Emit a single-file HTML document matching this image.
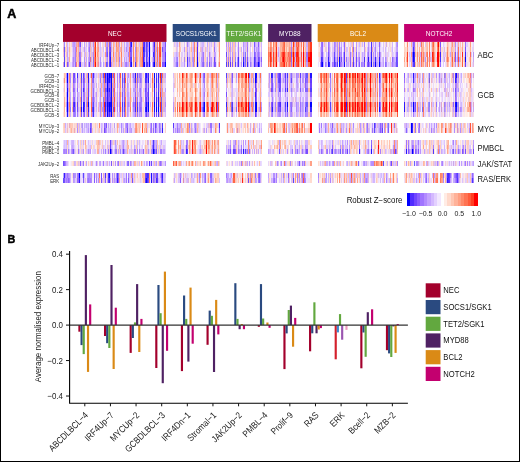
<!DOCTYPE html>
<html><head><meta charset="utf-8"><style>
html,body{margin:0;padding:0;background:#fff;width:520px;height:462px;overflow:hidden;position:relative;}
.h{position:absolute;left:63px;width:411px;}
#hm{position:absolute;left:0;top:0;width:520px;height:200px;filter:blur(0.5px);}
svg{display:block;font-family:"Liberation Sans",sans-serif;will-change:transform;}
</style></head><body>
<div id="hm"><div class="h" style="top:42.00px;height:4.92px;background:linear-gradient(90deg,#ffffff 0 0.0px,#efccde 0 1.0px,#a589ff 0 2.0px,#f9f3fe 0 3.0px,#ffc2ae 0 4.0px,#ceb1ff 0 5.0px,#eee2ff 0 6.0px,#ffccbd 0 7.0px,#fbe7e7 0 8.0px,#ffd9cc 0 9.0px,#cfb3ff 0 10.0px,#bf9bff 0 10.9px,#bb96ff 0 11.9px,#ceafff 0 12.9px,#f1a2a9 0 13.9px,#ffb098 0 14.9px,#ff9375 0 15.9px,#a47dff 0 16.9px,#7a4eff 0 17.9px,#f9dcdf 0 18.9px,#e7d6ff 0 19.9px,#fff9f7 0 20.9px,#c1a2ff 0 21.9px,#fce1de 0 22.9px,#d0b2ff 0 23.9px,#fbeaec 0 24.9px,#d0b4ff 0 25.9px,#b28bff 0 26.9px,#eba2b3 0 27.9px,#e7cff2 0 28.9px,#efc9db 0 29.9px,#ad84ff 0 30.9px,#ffa388 0 31.8px,#ff2e17 0 32.8px,#f9f0f9 0 33.8px,#ffa78c 0 34.8px,#f1a2a9 0 35.8px,#e9daff 0 36.8px,#d6bcff 0 37.8px,#fcfaff 0 38.8px,#ffdbce 0 39.8px,#e7d2f7 0 40.8px,#ecd9f5 0 41.8px,#ffa489 0 42.8px,#bd9aff 0 43.8px,#ad85ff 0 44.8px,#ffb5a0 0 45.8px,#8057ff 0 46.8px,#9568ff 0 47.8px,#eba9bb 0 48.8px,#ecdeff 0 49.8px,#ffae95 0 50.8px,#ffc3b0 0 51.8px,#e0cbff 0 52.7px,#ff886b 0 53.7px,#ffb9a3 0 54.7px,#ffa286 0 55.7px,#bc9aff 0 56.7px,#ffe7de 0 57.7px,#ffad95 0 58.7px,#e1ccff 0 59.7px,#ffddd0 0 60.7px,#c7a6ff 0 61.7px,#efe2ff 0 62.7px,#caabff 0 63.7px,#c5a4ff 0 64.7px,#d2b7ff 0 65.7px,#fea99b 0 66.7px,#6c42ff 0 67.7px,#2816ff 0 68.7px,#ddc6ff 0 69.7px,#ff886a 0 70.7px,#ffc9b6 0 71.7px,#c9aaff 0 72.6px,#ffa288 0 73.6px,#ffded3 0 74.6px,#ffcdbc 0 75.6px,#d5baff 0 76.6px,#ffbba5 0 77.6px,#ffc0ab 0 78.6px,#ff8b6f 0 79.6px,#633aff 0 80.6px,#4c2cff 0 81.6px,#bb95ff 0 82.6px,#5743ff 0 83.6px,#7c50ff 0 84.6px,#bb9aff 0 85.6px,#0000ff 0 86.6px,#f6efff 0 87.6px,#f6f0ff 0 88.6px,#dcc5ff 0 89.6px,#956aff 0 90.6px,#3923ff 0 91.6px,#ffb198 0 92.6px,#2413ff 0 93.5px,#d9b5e9 0 94.5px,#ff8466 0 95.5px,#faf5ff 0 96.5px,#ff4738 0 97.5px,#ff7557 0 98.5px,#ffd9cc 0 99.5px,#caacff 0 100.5px,#bd99ff 0 101.5px,#7a4fff 0 102.5px,#e3d1ff 0 103.5px,#ffffff 0 109.7px,#fbe5e4 0 110.7px,#dac1ff 0 111.7px,#f1d3e4 0 112.7px,#d7c3ff 0 113.7px,#cbabff 0 114.7px,#ebdeff 0 115.7px,#ffa086 0 116.7px,#ffd7ca 0 117.7px,#efe1f9 0 118.7px,#f5e4f3 0 119.7px,#fbeaed 0 120.7px,#dac3ff 0 121.7px,#fff6f2 0 122.7px,#eac9e4 0 123.7px,#a481ff 0 124.7px,#d5baff 0 125.7px,#dfcbff 0 126.7px,#fff1ec 0 127.7px,#ffbca9 0 128.7px,#e6d0f6 0 129.7px,#ccadff 0 130.7px,#ff896d 0 131.7px,#ffddd1 0 132.7px,#ffcab8 0 133.8px,#6d46ff 0 134.8px,#ddc9ff 0 135.8px,#fdeae7 0 136.8px,#e8ceef 0 137.8px,#dac5fd 0 138.8px,#d2b5ff 0 139.8px,#ceb4ff 0 140.8px,#f3d6e4 0 141.8px,#ffe3da 0 142.8px,#f3eaff 0 143.8px,#c5a4ff 0 144.8px,#ffdacd 0 145.8px,#d5bcff 0 146.8px,#e7d4f9 0 147.8px,#d7beff 0 148.8px,#f9dfe1 0 149.8px,#fbd5d0 0 150.8px,#b58eff 0 151.8px,#e1cdff 0 152.8px,#ebdcff 0 153.8px,#ffe0d5 0 154.8px,#ffd8cb 0 155.8px,#ff9b7f 0 156.8px,#ffffff 0 162.6px,#b28aff 0 163.6px,#ffdcd0 0 164.6px,#bc97ff 0 165.6px,#ffcebd 0 166.6px,#bd98ff 0 167.6px,#ffe2d7 0 168.6px,#a980ff 0 169.5px,#c7a9ff 0 170.5px,#ffc5b2 0 171.5px,#c6acff 0 172.5px,#b791ff 0 173.5px,#fbe9ea 0 174.5px,#f1e1f6 0 175.5px,#ab81ff 0 176.5px,#fff6f2 0 177.5px,#ffeee8 0 178.5px,#f2e8fd 0 179.5px,#f9e8ee 0 180.5px,#b791ff 0 181.4px,#d3b8ff 0 182.4px,#d0b5ff 0 183.4px,#e5b9da 0 184.4px,#a87fff 0 185.4px,#eeddf6 0 186.4px,#fcf1f3 0 187.4px,#d7ade2 0 188.4px,#eadbff 0 189.4px,#fadcdc 0 190.4px,#f1e2f9 0 191.4px,#7956ff 0 192.4px,#cbabff 0 193.3px,#d9bfff 0 194.3px,#d9c2ff 0 195.3px,#885bff 0 196.3px,#d4baff 0 197.3px,#f7d9e0 0 198.3px,#cfb2ff 0 199.3px,#ffffff 0 205.1px,#ffa98e 0 206.1px,#ffd3c3 0 207.1px,#ff8f74 0 208.1px,#ffa489 0 209.1px,#fff4f0 0 210.1px,#ff805f 0 211.2px,#ffb9a3 0 212.2px,#ff9e81 0 213.2px,#ff593b 0 214.2px,#f6d8e0 0 215.2px,#e6d5ff 0 216.2px,#fadcdc 0 217.2px,#ffb299 0 218.2px,#ffae97 0 219.2px,#ffa18a 0 220.2px,#ff7d5e 0 221.2px,#ff6342 0 222.3px,#ffc6b4 0 223.3px,#ffb49e 0 224.3px,#ffbea9 0 225.3px,#ffc0b0 0 226.3px,#ffa890 0 227.3px,#ffc5b3 0 228.3px,#b088ff 0 229.3px,#ffd4c5 0 230.3px,#ff2f1e 0 231.3px,#ffa68b 0 232.4px,#d2b6ff 0 233.4px,#ff6848 0 234.4px,#ff8a6b 0 235.4px,#ff4f41 0 236.4px,#ffb19a 0 237.4px,#f8cccb 0 238.4px,#ff7b60 0 239.4px,#feebe8 0 240.4px,#ff6948 0 241.4px,#f0c1d0 0 242.4px,#ffccbb 0 243.5px,#c7abff 0 244.5px,#e9d9ff 0 245.5px,#ff8060 0 246.5px,#ffcab9 0 247.5px,#ff3b21 0 248.5px,#ffffff 0 254.7px,#f9e0e3 0 255.7px,#ffccbc 0 256.7px,#f0e4ff 0 257.7px,#9e73ff 0 258.7px,#9165ff 0 259.7px,#e2ceff 0 260.7px,#f5bcbe 0 261.7px,#e8ceee 0 262.8px,#e7cff3 0 263.8px,#f6f0ff 0 264.8px,#9b71ff 0 265.8px,#ba98ff 0 266.8px,#eedef8 0 267.8px,#ffece5 0 268.8px,#e8cbeb 0 269.8px,#e4d4ff 0 270.8px,#a57dff 0 271.8px,#b692ff 0 272.8px,#e2badf 0 273.8px,#b690ff 0 274.8px,#ffcdbc 0 275.8px,#a67cff 0 276.8px,#eee2ff 0 277.8px,#c9a9ff 0 278.8px,#f1e7ff 0 279.9px,#d7bdff 0 280.9px,#8e62ff 0 281.9px,#ffd0c1 0 282.9px,#f2e9ff 0 283.9px,#faf2f8 0 284.9px,#ecd1ed 0 285.9px,#fee4db 0 286.9px,#e2cdff 0 287.9px,#edc5da 0 288.9px,#ffc0af 0 289.9px,#bc97ff 0 290.9px,#fff9f7 0 291.9px,#fff5f2 0 292.9px,#bc97ff 0 293.9px,#ffe3d9 0 294.9px,#e3d0ff 0 296.0px,#d3b7ff 0 297.0px,#ffcfbe 0 298.0px,#f4dce9 0 299.0px,#d0b7ff 0 300.0px,#ffe6dd 0 301.0px,#a87fff 0 302.0px,#fdefef 0 303.0px,#ffeae3 0 304.0px,#eddfff 0 305.0px,#bc96ff 0 306.0px,#ddc8ff 0 307.0px,#f3e8fc 0 308.0px,#5230ff 0 309.0px,#efcee2 0 310.0px,#c7a8ff 0 311.1px,#ede0ff 0 312.1px,#b58fff 0 313.1px,#e6d5ff 0 315.1px,#ead1ee 0 316.1px,#8d63ff 0 317.1px,#dbc5ff 0 318.1px,#f2e9fe 0 319.1px,#fcf6fb 0 320.1px,#ddc7ff 0 321.1px,#ffeae2 0 322.1px,#e4d4ff 0 323.1px,#d7afe5 0 324.1px,#ffe8e0 0 325.1px,#f6efff 0 326.1px,#ecd0ea 0 327.1px,#f9dbdc 0 328.2px,#fce8e6 0 329.2px,#d2b7ff 0 330.2px,#fcf9ff 0 331.2px,#fbf7fd 0 332.2px,#eedbf5 0 333.2px,#ba9cff 0 334.2px,#ac86ff 0 335.2px,#ffffff 0 341.1px,#ffccbb 0 342.1px,#fff5f1 0 343.1px,#ffede7 0 344.1px,#ff8869 0 345.1px,#fff1ec 0 346.1px,#e9d9ff 0 347.1px,#f0e6ff 0 348.1px,#ffaf96 0 349.1px,#c7adff 0 350.1px,#885bff 0 351.1px,#986cff 0 352.1px,#ffd7ca 0 353.1px,#ffefe9 0 354.1px,#ffb39e 0 355.1px,#efe4ff 0 356.1px,#ffe0d5 0 357.1px,#d0b2ff 0 358.1px,#ff7a5e 0 359.1px,#ffc4b1 0 360.1px,#ffb097 0 361.1px,#fff8f6 0 362.1px,#dbc1f6 0 363.1px,#ffc3af 0 364.1px,#ffbea9 0 365.1px,#fbecf0 0 366.1px,#ff8468 0 367.1px,#fbf1f5 0 368.1px,#edc6dc 0 369.1px,#ff8d6e 0 370.1px,#ff6140 0 371.1px,#ffc0ac 0 372.1px,#fcd9d4 0 373.1px,#f9e0e4 0 374.1px,#ff7352 0 375.1px,#ff0501 0 376.1px,#ffbfaa 0 377.0px,#7f53ff 0 378.0px,#fff0ec 0 379.0px,#fbf7ff 0 380.0px,#e1cdff 0 381.0px,#f3e2f5 0 382.0px,#f7eefb 0 383.0px,#ffe9e2 0 384.0px,#ffb9a3 0 385.0px,#fbcec9 0 386.0px,#ffe2d7 0 387.0px,#f3e1f3 0 388.0px,#f8bdba 0 389.0px,#ff987c 0 390.0px,#efcee2 0 391.0px,#ffc0ab 0 392.0px,#ae85ff 0 393.0px,#eddfff 0 394.0px,#d8c0ff 0 395.0px,#ffab92 0 396.0px,#f4dfee 0 397.0px,#ffc7b4 0 398.0px,#f6efff 0 399.0px,#ffb198 0 400.0px,#fae3e6 0 401.0px,#ffeae2 0 402.0px,#9d71ff 0 403.0px,#e3d2ff 0 404.0px,#dfccff 0 405.0px,#f8e5ed 0 406.0px,#ffe6de 0 407.0px,#ff9c82 0 408.0px,#fef1ef 0 409.0px,#f1e6ff 0 410.0px,#e4d2ff 0 411.0px)"></div><div class="h" style="top:46.90px;height:4.92px;background:linear-gradient(90deg,#ffffff 0 0.0px,#edb8ca 0 1.0px,#6758ff 0 2.0px,#fccdc4 0 3.0px,#ffd1c1 0 4.0px,#c5a4ff 0 5.0px,#e5d4ff 0 6.0px,#ffb39b 0 7.0px,#ffe3d9 0 8.0px,#ffe8e1 0 9.0px,#dfceff 0 10.0px,#c19eff 0 10.9px,#cbabff 0 11.9px,#ab84ff 0 12.9px,#fc7b80 0 13.9px,#ffcebf 0 14.9px,#ffb097 0 15.9px,#caaaff 0 16.9px,#b58eff 0 17.9px,#fbdfde 0 18.9px,#e8d8ff 0 19.9px,#eecee4 0 20.9px,#bc98ff 0 21.9px,#e7cdf0 0 22.9px,#dec7ff 0 23.9px,#fff4ef 0 24.9px,#c4a3ff 0 25.9px,#a075ff 0 26.9px,#f9b7b2 0 27.9px,#dabdf1 0 28.9px,#f2def0 0 29.9px,#ba9aff 0 30.9px,#ff8464 0 31.8px,#ff4226 0 32.8px,#fad7d6 0 33.8px,#ffa388 0 34.8px,#ff967f 0 35.8px,#e5d4ff 0 36.8px,#d6c0ff 0 37.8px,#e7d6ff 0 38.8px,#ffdbce 0 39.8px,#d6bcff 0 40.8px,#faf6ff 0 41.8px,#ffccba 0 42.8px,#a181ff 0 43.8px,#976bff 0 44.8px,#ffd2c3 0 45.8px,#7955ff 0 46.8px,#6a45ff 0 47.8px,#e1a6c8 0 48.8px,#e3d0ff 0 49.8px,#ff9a7d 0 50.8px,#ffd7ca 0 51.8px,#e4d2ff 0 52.7px,#ff9b7f 0 53.7px,#ffa68b 0 54.7px,#ffa489 0 55.7px,#cdb0ff 0 56.7px,#f2b0b7 0 57.7px,#ff9a7d 0 58.7px,#e6d6ff 0 59.7px,#ffd9cc 0 60.7px,#c4a6ff 0 61.7px,#e2cfff 0 62.7px,#b087ff 0 63.7px,#cdb4ff 0 64.7px,#d6bcff 0 65.7px,#ff6860 0 66.7px,#653fff 0 67.7px,#8558ff 0 68.7px,#dcc4ff 0 69.7px,#ff8467 0 70.7px,#ffe9e2 0 71.7px,#ad84ff 0 72.6px,#ff8e71 0 73.6px,#ffbda9 0 74.6px,#ffc0ac 0 75.6px,#e0cbff 0 76.6px,#ffa287 0 77.6px,#ffad93 0 78.6px,#ff8061 0 79.6px,#2916ff 0 80.6px,#4b35ff 0 81.6px,#b792ff 0 82.6px,#5a46ff 0 83.6px,#9367ff 0 84.6px,#c09eff 0 85.6px,#0000ff 0 86.6px,#e7d6ff 0 87.6px,#fdf2f3 0 88.6px,#dbc3ff 0 89.6px,#a277ff 0 90.6px,#5a34ff 0 91.6px,#ffab92 0 92.6px,#6c41ff 0 93.5px,#bd9ff5 0 94.5px,#ff6f53 0 95.5px,#eec4d6 0 96.5px,#ff4e38 0 97.5px,#ff5232 0 98.5px,#ffcebe 0 99.5px,#764dff 0 100.5px,#b089ff 0 101.5px,#8c62ff 0 102.5px,#dec9ff 0 103.5px,#ffffff 0 109.7px,#ffeee7 0 110.7px,#fcedee 0 111.7px,#fae6ea 0 112.7px,#e7c3e2 0 113.7px,#dac1ff 0 114.7px,#fcf4f8 0 115.7px,#ffb69f 0 116.7px,#ffc2af 0 117.7px,#f4ebff 0 118.7px,#ebddff 0 119.7px,#eee1fc 0 120.7px,#bd98ff 0 121.7px,#ffddd0 0 122.7px,#ffc9ba 0 123.7px,#c4a2ff 0 124.7px,#e8d9ff 0 125.7px,#d2b9ff 0 126.7px,#ffd5c8 0 127.7px,#ffb097 0 128.7px,#d9c0ff 0 129.7px,#c3a8ff 0 130.7px,#ff7d62 0 131.7px,#fbd9d6 0 132.7px,#ffb39b 0 133.8px,#512dff 0 134.8px,#f9e3e8 0 135.8px,#ffefea 0 136.8px,#f1bac5 0 137.8px,#dab3e4 0 138.8px,#c2a0ff 0 139.8px,#e6cdf1 0 140.8px,#eedbf4 0 141.8px,#f4bcc1 0 142.8px,#e6c8ec 0 143.8px,#d1bcff 0 144.8px,#ffded3 0 145.8px,#d1b5ff 0 146.8px,#e5d4ff 0 147.8px,#e9daff 0 148.8px,#fcf1f5 0 149.8px,#fed7cc 0 150.8px,#9a6fff 0 151.8px,#e4d1ff 0 152.8px,#e6d6ff 0 153.8px,#fceff0 0 154.8px,#fddad3 0 155.8px,#ff987f 0 156.8px,#ffffff 0 162.6px,#c19eff 0 163.6px,#ffcfc1 0 164.6px,#c9acff 0 165.6px,#ffae95 0 166.6px,#bd9aff 0 167.6px,#ffd0bf 0 168.6px,#9d72ff 0 169.5px,#c9b1fc 0 170.5px,#ffc9b7 0 171.5px,#d3b8ff 0 172.5px,#caadff 0 173.5px,#fff8f5 0 174.5px,#e4d0ff 0 175.5px,#a77dff 0 176.5px,#f1ddf1 0 177.5px,#ffd9cc 0 178.5px,#c6adff 0 179.5px,#fcf6fa 0 180.5px,#bc98ff 0 181.4px,#ddc7ff 0 182.4px,#cfb8ff 0 183.4px,#f4c8d1 0 184.4px,#9a6eff 0 185.4px,#f7e4ee 0 186.4px,#f6e8f6 0 187.4px,#dbc5ff 0 188.4px,#fffdfd 0 189.4px,#ffd8cc 0 190.4px,#ecdfff 0 191.4px,#9a76ff 0 192.4px,#dcc5ff 0 193.3px,#be9bff 0 194.3px,#cbabff 0 195.3px,#a77dff 0 196.3px,#cdb7ff 0 197.3px,#fae8ed 0 198.3px,#d0b3ff 0 199.3px,#ffffff 0 205.1px,#ff9476 0 206.1px,#ffbaa4 0 207.1px,#ff8262 0 208.1px,#ff8d6e 0 209.1px,#f1c0cc 0 210.1px,#ff8767 0 211.2px,#ffc2af 0 212.2px,#ffb299 0 213.2px,#ff2919 0 214.2px,#fbe0e0 0 215.2px,#cfb2ff 0 216.2px,#f2d0de 0 217.2px,#ffb39b 0 218.2px,#ffbba5 0 219.2px,#ff9173 0 220.2px,#ff8165 0 221.2px,#ff6445 0 222.3px,#ffd3c4 0 223.3px,#ffb097 0 224.3px,#ffdbcf 0 225.3px,#ffc4b2 0 226.3px,#ff9880 0 227.3px,#ffa790 0 228.3px,#a57bff 0 229.3px,#ffa68b 0 230.3px,#ff5e3d 0 231.3px,#ffc3ae 0 232.4px,#d7bdff 0 233.4px,#ff8366 0 234.4px,#ff4c3d 0 235.4px,#ff6c4f 0 236.4px,#ffbca8 0 237.4px,#ffcdbc 0 238.4px,#ff9074 0 239.4px,#fcfaff 0 240.4px,#ff4126 0 241.4px,#ffdcd1 0 242.4px,#ffbda8 0 243.5px,#d3b7ff 0 244.5px,#eee2ff 0 245.5px,#ff7f5f 0 246.5px,#f6d5db 0 247.5px,#ff3a21 0 248.5px,#ffffff 0 254.7px,#feeae5 0 255.7px,#ffe5dc 0 256.7px,#d5baff 0 257.7px,#a479ff 0 258.7px,#976eff 0 259.7px,#ecdeff 0 260.7px,#ffe9e1 0 261.7px,#e9c8e5 0 262.8px,#e9c6e3 0 263.8px,#fdf1ef 0 264.8px,#9367ff 0 265.8px,#b694ff 0 266.8px,#e7cff2 0 267.8px,#fdf1f1 0 268.8px,#dbc3ff 0 269.8px,#e5c9ed 0 270.8px,#a07aff 0 271.8px,#c29fff 0 272.8px,#e8ccec 0 273.8px,#b18dff 0 274.8px,#ffc4b0 0 275.8px,#986cff 0 276.8px,#d2baff 0 277.8px,#b791ff 0 278.8px,#f8f2ff 0 279.9px,#ebdbfb 0 280.9px,#9267ff 0 281.9px,#ffd4c6 0 282.9px,#d4baff 0 283.9px,#d8c0ff 0 284.9px,#fae6e8 0 285.9px,#ffc1ae 0 286.9px,#ceafff 0 287.9px,#fdf6f7 0 288.9px,#ffa489 0 289.9px,#9166ff 0 290.9px,#f5dbe7 0 291.9px,#fcd5ce 0 292.9px,#b189ff 0 293.9px,#fbedf0 0 294.9px,#e8d7fa 0 296.0px,#e5d2ff 0 297.0px,#fee2da 0 298.0px,#f3e7fa 0 299.0px,#f4ecfe 0 300.0px,#f8eef9 0 301.0px,#b995ff 0 302.0px,#fbcec9 0 303.0px,#ffeae3 0 304.0px,#d3bcff 0 305.0px,#af89ff 0 306.0px,#d9c2ff 0 307.0px,#e2cefb 0 308.0px,#533dff 0 309.0px,#eba5b5 0 310.0px,#e3d0ff 0 311.1px,#d1b5ff 0 312.1px,#a57dff 0 313.1px,#f0d9ed 0 314.1px,#e8d7ff 0 315.1px,#f8eef9 0 316.1px,#9774ff 0 317.1px,#e7d6ff 0 318.1px,#f0e6ff 0 319.1px,#ede1ff 0 320.1px,#dac2ff 0 321.1px,#fff3f0 0 322.1px,#d0b5ff 0 323.1px,#ebdcff 0 324.1px,#f9f5fe 0 325.1px,#f0d5e7 0 326.1px,#f2e2f6 0 327.1px,#ffd8ca 0 328.2px,#e5d4ff 0 329.2px,#d1b4ff 0 330.2px,#f8f2ff 0 331.2px,#f4e1f1 0 332.2px,#e4d2ff 0 333.2px,#c4a6ff 0 334.2px,#bf9cff 0 335.2px,#ffffff 0 341.1px,#ffd4c5 0 342.1px,#ffd6c7 0 343.1px,#ffdfd3 0 344.1px,#ffa68c 0 345.1px,#f6e4f0 0 346.1px,#efe3ff 0 347.1px,#eee1ff 0 348.1px,#ffcfbf 0 349.1px,#c9aaff 0 350.1px,#4933ff 0 351.1px,#9d71ff 0 352.1px,#ffc9b7 0 353.1px,#ffede7 0 354.1px,#ffc1ad 0 355.1px,#faeff5 0 356.1px,#ffb39a 0 357.1px,#f7effb 0 358.1px,#ffa88f 0 359.1px,#ffaf99 0 360.1px,#ffb49c 0 361.1px,#fee0d8 0 362.1px,#f4d2db 0 363.1px,#ffc6b3 0 364.1px,#ffb9a2 0 365.1px,#fceced 0 366.1px,#ff8a6d 0 367.1px,#f8f1fd 0 368.1px,#f5d4dc 0 369.1px,#ff9577 0 370.1px,#ff8060 0 371.1px,#ffc0ac 0 372.1px,#ffd6c9 0 373.1px,#fbe8ea 0 374.1px,#ff8366 0 375.1px,#ff381e 0 376.1px,#ffd4c6 0 377.0px,#966aff 0 378.0px,#ffdfd4 0 379.0px,#ffdccf 0 380.0px,#e8d9ff 0 381.0px,#e8bfdb 0 382.0px,#f5ebfb 0 383.0px,#ffddd2 0 384.0px,#ff9476 0 385.0px,#ffcdbc 0 386.0px,#f5dfec 0 387.0px,#e7d6ff 0 388.0px,#ffb09b 0 389.0px,#ffc2af 0 390.0px,#f6c8cc 0 391.0px,#ffd0c0 0 392.0px,#be9aff 0 393.0px,#f5eeff 0 394.0px,#ceb2ff 0 395.0px,#ff7453 0 396.0px,#e9daff 0 397.0px,#ffd0c0 0 398.0px,#ffd9cb 0 399.0px,#ffa287 0 400.0px,#efe3ff 0 401.0px,#ffe2d8 0 402.0px,#7d51ff 0 403.0px,#f0e6ff 0 404.0px,#f1e6ff 0 405.0px,#f8e4eb 0 406.0px,#f7dbe3 0 407.0px,#ffb29c 0 408.0px,#ffefea 0 409.0px,#e5d3ff 0 410.0px,#e9d2f2 0 411.0px)"></div><div class="h" style="top:51.80px;height:4.92px;background:linear-gradient(90deg,#ffffff 0 0.0px,#efc8d9 0 1.0px,#7a53ff 0 2.0px,#fbe2e2 0 3.0px,#ffc6b3 0 4.0px,#bd99ff 0 5.0px,#efe2ff 0 6.0px,#ffbeab 0 7.0px,#f9e2e5 0 8.0px,#ffede6 0 9.0px,#e3d0ff 0 10.0px,#c7a5ff 0 10.9px,#c9a9ff 0 11.9px,#a17cff 0 12.9px,#fa9e97 0 13.9px,#ffcbba 0 14.9px,#ffaf97 0 15.9px,#9468ff 0 16.9px,#a47aff 0 17.9px,#f1bfca 0 18.9px,#f2dff0 0 19.9px,#faeef4 0 20.9px,#cbadff 0 21.9px,#efbac7 0 22.9px,#d8bfff 0 23.9px,#ffe1d7 0 24.9px,#e0cbff 0 25.9px,#ad87ff 0 26.9px,#fbc6c0 0 27.9px,#dabbef 0 28.9px,#e2b5da 0 29.9px,#aa80ff 0 30.9px,#ff9c7f 0 31.8px,#ff1c0a 0 32.8px,#ffddd1 0 33.8px,#ff9375 0 34.8px,#ffb3a2 0 35.8px,#efd8ef 0 36.8px,#d5befb 0 37.8px,#e6d0f6 0 38.8px,#ffddd1 0 39.8px,#e2d1ff 0 40.8px,#e8d7ff 0 41.8px,#ff9d81 0 42.8px,#9672ff 0 43.8px,#7150ff 0 44.8px,#ffdacd 0 45.8px,#6240ff 0 46.8px,#4a2aff 0 47.8px,#eec0d1 0 48.8px,#eadbff 0 49.8px,#ff7e5d 0 50.8px,#fad1cf 0 51.8px,#ceb8ff 0 52.7px,#ffa58a 0 53.7px,#ffc6b3 0 54.7px,#ffa286 0 55.7px,#bf9bff 0 56.7px,#ffded2 0 57.7px,#ff7e62 0 58.7px,#e9daff 0 59.7px,#ffd6c8 0 60.7px,#dbc3ff 0 61.7px,#d9c1ff 0 62.7px,#d7beff 0 63.7px,#dbc4ff 0 64.7px,#ac84ff 0 65.7px,#ff806c 0 66.7px,#8a5fff 0 67.7px,#875bff 0 68.7px,#e7d6ff 0 69.7px,#ff7d61 0 70.7px,#ffe2d7 0 71.7px,#b28aff 0 72.6px,#ff977a 0 73.6px,#ffbfaa 0 74.6px,#ffcfbe 0 75.6px,#d9c1ff 0 76.6px,#ff9274 0 77.6px,#ffbca8 0 78.6px,#ff704e 0 79.6px,#4f2fff 0 80.6px,#513bff 0 81.6px,#d3b9ff 0 82.6px,#5d49ff 0 83.6px,#7e56ff 0 84.6px,#ddcaff 0 85.6px,#0000ff 0 86.6px,#e8d8ff 0 87.6px,#faf6ff 0 88.6px,#eadbff 0 89.6px,#4828ff 0 90.6px,#533eff 0 91.6px,#ffa388 0 92.6px,#6b41ff 0 93.5px,#d2baff 0 94.5px,#ff6c4f 0 95.5px,#dbc3ff 0 96.5px,#ff4d36 0 97.5px,#ff3d2c 0 98.5px,#ffd7c9 0 99.5px,#b28aff 0 100.5px,#ae88ff 0 101.5px,#5731ff 0 102.5px,#dbc5ff 0 103.5px,#ffffff 0 109.7px,#ffd8ca 0 110.7px,#e1cdff 0 111.7px,#ddc6ff 0 112.7px,#c5acff 0 113.7px,#d0b4ff 0 114.7px,#eccde5 0 115.7px,#ffa186 0 116.7px,#fff1ec 0 117.7px,#e1cbf7 0 118.7px,#e1ccff 0 119.7px,#f5e9fa 0 120.7px,#dac3ff 0 121.7px,#fee2da 0 122.7px,#f5d2da 0 123.7px,#a380ff 0 124.7px,#e4d1ff 0 125.7px,#d2bafb 0 126.7px,#f7d8dd 0 127.7px,#ffd3c4 0 128.7px,#caaeff 0 129.7px,#d7bdff 0 130.7px,#ff8065 0 131.7px,#f9f5fe 0 132.7px,#ffbca6 0 133.8px,#4029ff 0 134.8px,#e7d7ff 0 135.8px,#eecee4 0 136.8px,#f0d8ed 0 137.8px,#d9baf1 0 138.8px,#b994ff 0 139.8px,#a177ff 0 140.8px,#efd5ea 0 141.8px,#f9c0bc 0 142.8px,#f4ebff 0 143.8px,#dac6ff 0 144.8px,#ffddd1 0 145.8px,#a67cff 0 146.8px,#d8beff 0 147.8px,#ebddff 0 148.8px,#f0e0f7 0 149.8px,#f7d7db 0 150.8px,#bf9bff 0 151.8px,#c4a2ff 0 152.8px,#f0e3fc 0 153.8px,#f6f0ff 0 154.8px,#ffede6 0 155.8px,#ff9479 0 156.8px,#ffffff 0 162.6px,#6947ff 0 163.6px,#ffe0d5 0 164.6px,#c19eff 0 165.6px,#ffcbb9 0 166.6px,#c1a1ff 0 167.6px,#fbe8e9 0 168.6px,#a077ff 0 169.5px,#b793ff 0 170.5px,#ffc3af 0 171.5px,#c09fff 0 172.5px,#9e74ff 0 173.5px,#f0e3fb 0 174.5px,#eee0fb 0 175.5px,#996dff 0 176.5px,#f9e7ed 0 177.5px,#feebe7 0 178.5px,#d8c0ff 0 179.5px,#ffe2d8 0 180.5px,#a77eff 0 181.4px,#d1b4ff 0 182.4px,#7a76ff 0 183.4px,#ffe0d6 0 184.4px,#a078ff 0 185.4px,#f4ecff 0 186.4px,#ffe8df 0 187.4px,#ceb5ff 0 188.4px,#eadbff 0 189.4px,#e8d0f1 0 190.4px,#eee2ff 0 191.4px,#7e5cff 0 192.4px,#a176ff 0 193.3px,#cfb4ff 0 194.3px,#b18aff 0 195.3px,#996dff 0 196.3px,#b48dff 0 197.3px,#e6d5ff 0 198.3px,#c29fff 0 199.3px,#ffffff 0 205.1px,#ff7254 0 206.1px,#ff8767 0 207.1px,#ff2616 0 208.1px,#ff6f4e 0 209.1px,#f1d1e0 0 210.1px,#ff3625 0 211.2px,#ffaf97 0 212.2px,#ff977a 0 213.2px,#ff190c 0 214.2px,#f4cdd6 0 215.2px,#be9fff 0 216.2px,#eccce4 0 217.2px,#ffaa8f 0 218.2px,#ff7f63 0 219.2px,#ff4636 0 220.2px,#ff2717 0 221.2px,#ff3322 0 222.3px,#ff9c7f 0 223.3px,#ffa68b 0 224.3px,#ffa48c 0 225.3px,#ff6555 0 226.3px,#ff7966 0 227.3px,#ff7453 0 228.3px,#7f52ff 0 229.3px,#ff896c 0 230.3px,#ff0000 0 231.3px,#ff9b7e 0 232.4px,#af86ff 0 233.4px,#ff2516 0 234.4px,#ff1c0f 0 235.4px,#ff3d2d 0 236.4px,#ffc1af 0 237.4px,#eebfd1 0 238.4px,#ff4c37 0 239.4px,#f4e2f1 0 240.4px,#ff0000 0 241.4px,#efafbb 0 242.4px,#ffb199 0 243.5px,#9d72ff 0 244.5px,#c3a9ff 0 245.5px,#ff3c21 0 246.5px,#ffd5c7 0 247.5px,#ff0000 0 248.5px,#ffffff 0 254.7px,#fee2da 0 255.7px,#ffd6c9 0 256.7px,#d9c0ff 0 257.7px,#8e6aff 0 258.7px,#875cff 0 259.7px,#d3bcff 0 260.7px,#fde6e3 0 261.7px,#f8f1fe 0 262.8px,#cdb7ff 0 263.8px,#e4d0ff 0 264.8px,#7c50ff 0 265.8px,#b28aff 0 266.8px,#e8d9ff 0 267.8px,#f3e1f2 0 268.8px,#d3bbfb 0 269.8px,#d2b6ff 0 270.8px,#6a48ff 0 271.8px,#caabff 0 272.8px,#e1ccff 0 273.8px,#a880ff 0 274.8px,#ffcfbe 0 275.8px,#8559ff 0 276.8px,#b797ff 0 277.8px,#ab84ff 0 278.8px,#f6effe 0 279.9px,#bd98ff 0 280.9px,#5432ff 0 281.9px,#fae2e3 0 282.9px,#dbc6ff 0 283.9px,#e7d5ff 0 284.9px,#e6d5ff 0 285.9px,#ffc3af 0 286.9px,#9e73ff 0 287.9px,#dac2ff 0 288.9px,#ffb39d 0 289.9px,#ad85ff 0 290.9px,#e7d2f8 0 291.9px,#f1daec 0 292.9px,#835cff 0 293.9px,#ffeee7 0 294.9px,#cbb1fa 0 296.0px,#c9a9ff 0 297.0px,#ffe8e0 0 298.0px,#e7d7ff 0 299.0px,#c7a6ff 0 300.0px,#dbc3ff 0 301.0px,#bc97ff 0 302.0px,#f4d6e2 0 303.0px,#f9f5ff 0 304.0px,#bc98ff 0 305.0px,#9b70ff 0 306.0px,#ddc9ff 0 307.0px,#c9aaff 0 308.0px,#3721ff 0 309.0px,#f5d2da 0 310.0px,#b691ff 0 311.1px,#e0ccff 0 312.1px,#a77dff 0 313.1px,#f8edf8 0 314.1px,#c9a9ff 0 315.1px,#f2d1df 0 316.1px,#734aff 0 317.1px,#ba94ff 0 318.1px,#ead7f8 0 319.1px,#f7f1ff 0 320.1px,#ecdfff 0 321.1px,#f9e9ef 0 322.1px,#d7b8f1 0 323.1px,#dfcaff 0 324.1px,#edd1ea 0 325.1px,#e3d0ff 0 326.1px,#f4ebff 0 327.1px,#fff4f0 0 328.2px,#f6dbe3 0 329.2px,#d8bfff 0 330.2px,#e4d1ff 0 331.2px,#f2e3f8 0 332.2px,#dac2ff 0 333.2px,#a37bff 0 334.2px,#9165ff 0 335.2px,#ffffff 0 341.1px,#ffc5b2 0 342.1px,#ffd8cb 0 343.1px,#ffcebe 0 344.1px,#ff4125 0 345.1px,#fbe8ea 0 346.1px,#d4bbff 0 347.1px,#e9daff 0 348.1px,#ffa084 0 349.1px,#8767ff 0 350.1px,#0000ff 0 351.1px,#422cff 0 352.1px,#ffb6a1 0 353.1px,#ffd7ca 0 354.1px,#ff8a6b 0 355.1px,#f1ccda 0 356.1px,#ffb59e 0 357.1px,#caabff 0 358.1px,#ff5a4f 0 359.1px,#ffb8a2 0 360.1px,#ff8566 0 361.1px,#edb6c6 0 362.1px,#dec1f0 0 363.1px,#ff9678 0 364.1px,#ff7355 0 365.1px,#fcfaff 0 366.1px,#ff574a 0 367.1px,#dfc5f4 0 368.1px,#e7d6fc 0 369.1px,#ff1f0c 0 370.1px,#ff5031 0 371.1px,#ff9c8c 0 372.1px,#fbd4d0 0 373.1px,#efe2ff 0 374.1px,#ff0000 0 376.1px,#ff9577 0 377.0px,#3b25ff 0 378.0px,#ffded3 0 379.0px,#ffe8e0 0 380.0px,#d6bbff 0 381.0px,#e6c9ed 0 382.0px,#dac5ff 0 383.0px,#ffc7b4 0 384.0px,#ff7f61 0 385.0px,#ffd0c0 0 386.0px,#f7d4d7 0 387.0px,#c0a3ff 0 388.0px,#ffb19d 0 389.0px,#ff896c 0 390.0px,#fad8d7 0 391.0px,#ffa78c 0 392.0px,#794eff 0 393.0px,#eee1ff 0 394.0px,#b199ff 0 395.0px,#ff6f51 0 396.0px,#ebdcff 0 397.0px,#ffc3af 0 398.0px,#f3eaff 0 399.0px,#ff2a1a 0 400.0px,#eee1ff 0 401.0px,#fee0d8 0 402.0px,#3b25ff 0 403.0px,#ecdfff 0 404.0px,#efd2e6 0 405.0px,#ffeae3 0 406.0px,#fbe5e7 0 407.0px,#ff6e55 0 408.0px,#dbc4ff 0 409.0px,#f6eeff 0 410.0px,#b896ef 0 411.0px)"></div><div class="h" style="top:56.70px;height:4.92px;background:linear-gradient(90deg,#ffffff 0 0.0px,#ffefe9 0 1.0px,#5e4cff 0 2.0px,#fcdad4 0 3.0px,#ffdbcf 0 4.0px,#c4a2ff 0 5.0px,#d4b9ff 0 6.0px,#ffb097 0 7.0px,#fff1ec 0 8.0px,#fbf2f7 0 9.0px,#d2b7ff 0 10.0px,#ad84ff 0 10.9px,#c1a2ff 0 11.9px,#a27bff 0 12.9px,#ffb7a6 0 13.9px,#ffbea8 0 14.9px,#ffbba5 0 15.9px,#9c70ff 0 17.9px,#f5dae5 0 18.9px,#faf4fd 0 19.9px,#fff2ed 0 20.9px,#b392ff 0 21.9px,#f3d1dd 0 22.9px,#c5a3ff 0 23.9px,#feefec 0 24.9px,#c5a6ff 0 25.9px,#b48dff 0 26.9px,#de6f93 0 27.9px,#c7affc 0 28.9px,#ffd4c5 0 29.9px,#8b68ff 0 30.9px,#ff8a6a 0 31.8px,#ff4333 0 32.8px,#ffcbba 0 33.8px,#ffb39c 0 34.8px,#f99f9a 0 35.8px,#e8d9ff 0 36.8px,#b693ff 0 37.8px,#f2e9ff 0 38.8px,#ffece5 0 39.8px,#dac5ff 0 40.8px,#ffebe4 0 41.8px,#ffccbb 0 42.8px,#ccb1ff 0 43.8px,#b089ff 0 44.8px,#ffe1d6 0 45.8px,#6f47ff 0 46.8px,#2513ff 0 47.8px,#ffb7a4 0 48.8px,#d7bdff 0 49.8px,#ffa88e 0 50.8px,#fcbcb1 0 51.8px,#d9c3ff 0 52.7px,#ffa084 0 53.7px,#ffc0ac 0 54.7px,#ffab92 0 55.7px,#a079ff 0 56.7px,#f6d2d7 0 57.7px,#ff8a71 0 58.7px,#e7d7ff 0 59.7px,#fdedec 0 60.7px,#bd9eff 0 61.7px,#e3d0ff 0 62.7px,#c6a4ff 0 63.7px,#e1cdff 0 64.7px,#cfb1ff 0 65.7px,#ff7464 0 66.7px,#6842ff 0 67.7px,#5630ff 0 68.7px,#feede9 0 69.7px,#ff8466 0 70.7px,#ffc1ac 0 71.7px,#a784ff 0 72.6px,#ff8c71 0 73.6px,#ffb49c 0 74.6px,#ffdacd 0 75.6px,#d1b5ff 0 76.6px,#ff9f87 0 77.6px,#ff9e85 0 78.6px,#ff684c 0 79.6px,#381eff 0 80.6px,#8a5eff 0 81.6px,#e3d0ff 0 82.6px,#5540ff 0 83.6px,#a47aff 0 84.6px,#bb96ff 0 85.6px,#0000ff 0 86.6px,#f1e7ff 0 87.6px,#ffe3d9 0 88.6px,#d2b7ff 0 89.6px,#9e77ff 0 90.6px,#442dff 0 91.6px,#ffb299 0 92.6px,#6037ff 0 93.5px,#dbb1e1 0 94.5px,#ff6e5c 0 95.5px,#d3b7ff 0 96.5px,#ff694f 0 97.5px,#ff7958 0 98.5px,#ffded2 0 99.5px,#b996ff 0 100.5px,#b28aff 0 101.5px,#5c35ff 0 102.5px,#e7d6ff 0 103.5px,#ffffff 0 109.7px,#e7d6ff 0 110.7px,#ccadff 0 111.7px,#dac2ff 0 112.7px,#ae94ff 0 113.7px,#a379ff 0 114.7px,#ebddff 0 115.7px,#ffb098 0 116.7px,#ffe2d8 0 117.7px,#dbbcee 0 118.7px,#ede0ff 0 119.7px,#f7dde4 0 120.7px,#ab89ff 0 121.7px,#ffdacc 0 122.7px,#fee3dd 0 123.7px,#4a34ff 0 124.7px,#ceb1ff 0 125.7px,#a180ff 0 126.7px,#e3c0e5 0 127.7px,#ffcdbc 0 128.7px,#b59cff 0 129.7px,#ac8aff 0 130.7px,#ff866a 0 131.7px,#fdf1f0 0 132.7px,#ffc5b3 0 133.8px,#1307ff 0 134.8px,#edd4ee 0 135.8px,#ffcab8 0 136.8px,#ecdeff 0 137.8px,#b397ff 0 138.8px,#b791ff 0 139.8px,#9c71ff 0 140.8px,#f5cfd6 0 141.8px,#ffcbbc 0 142.8px,#dfccff 0 143.8px,#b38dff 0 144.8px,#ffede7 0 145.8px,#ac83ff 0 146.8px,#cdaeff 0 147.8px,#c09dff 0 148.8px,#e7d7ff 0 149.8px,#f6d3d8 0 150.8px,#6a44ff 0 151.8px,#bf9cff 0 152.8px,#efe4ff 0 153.8px,#fff6f3 0 154.8px,#fbe1df 0 155.8px,#ffa690 0 156.8px,#ffffff 0 162.6px,#9773ff 0 163.6px,#ffbda8 0 164.6px,#a67fff 0 165.6px,#ffbfac 0 166.6px,#966bff 0 167.6px,#ffe5dc 0 168.6px,#865cff 0 169.5px,#9b73ff 0 170.5px,#ffc7b5 0 171.5px,#9d83ff 0 172.5px,#9468ff 0 173.5px,#f5edff 0 174.5px,#b590ff 0 175.5px,#3f28ff 0 176.5px,#e6d5ff 0 177.5px,#fdf9fc 0 178.5px,#c7aaff 0 179.5px,#ffe5dc 0 180.5px,#402aff 0 181.4px,#be9aff 0 182.4px,#7268ff 0 183.4px,#f7c0c1 0 184.4px,#7e52ff 0 185.4px,#dfcbff 0 186.4px,#e7d7ff 0 187.4px,#b693ff 0 188.4px,#d6bdff 0 189.4px,#e6cef4 0 190.4px,#d6bdff 0 191.4px,#4b34ff 0 192.4px,#7e53ff 0 193.3px,#bf9fff 0 194.3px,#ba98ff 0 195.3px,#7247ff 0 196.3px,#805cff 0 197.3px,#d5bcff 0 198.3px,#8a5fff 0 199.3px,#ffffff 0 205.1px,#ff7051 0 206.1px,#ff9f83 0 207.1px,#ff321b 0 208.1px,#ff5536 0 209.1px,#e8c0dd 0 210.1px,#ff4528 0 211.2px,#ffa185 0 212.2px,#ff8464 0 213.2px,#ff2d1c 0 214.2px,#fad2d0 0 215.2px,#dfcdff 0 216.2px,#dfb8e2 0 217.2px,#ff9375 0 218.2px,#ffa68e 0 219.2px,#ff3c2b 0 220.2px,#ff0000 0 221.2px,#ff3f2e 0 222.3px,#ff896a 0 223.3px,#ffa68f 0 224.3px,#ff8769 0 225.3px,#ff8f78 0 226.3px,#ff6258 0 227.3px,#ff6948 0 228.3px,#9165ff 0 229.3px,#ffb6a0 0 230.3px,#ff0000 0 231.3px,#ff6c4b 0 232.4px,#d2b6ff 0 233.4px,#ff2a1a 0 234.4px,#ff4b2c 0 235.4px,#ff2a1a 0 236.4px,#ff9a7f 0 237.4px,#f2b2ba 0 238.4px,#ff604a 0 239.4px,#f0d5e8 0 240.4px,#ff0000 0 241.4px,#ffbaa5 0 242.4px,#ff987a 0 243.5px,#a97fff 0 244.5px,#f0e5ff 0 245.5px,#ff0000 0 246.5px,#ffb9a3 0 247.5px,#ff0000 0 248.5px,#ffffff 0 254.7px,#f4eafc 0 255.7px,#f6dae1 0 256.7px,#d4b8ff 0 257.7px,#4730ff 0 258.7px,#6139ff 0 259.7px,#c9adff 0 260.7px,#e9daff 0 261.7px,#d6bffc 0 262.8px,#d7bdff 0 263.8px,#d9c0ff 0 264.8px,#3822ff 0 265.8px,#b993ff 0 266.8px,#d6bffb 0 267.8px,#f9f5ff 0 268.8px,#d3baff 0 269.8px,#ccb0ff 0 270.8px,#4a34ff 0 271.8px,#b093ff 0 272.8px,#cdafff 0 273.8px,#885bff 0 274.8px,#ffc9b6 0 275.8px,#0000ff 0 276.8px,#af92ff 0 277.8px,#7a50ff 0 278.8px,#e2cdff 0 279.9px,#bc97ff 0 280.9px,#5733ff 0 281.9px,#fed9cf 0 282.9px,#9870ff 0 283.9px,#d9c2ff 0 284.9px,#cfb3ff 0 285.9px,#e9bcd5 0 286.9px,#9064ff 0 287.9px,#e9d1f1 0 288.9px,#ffcec0 0 289.9px,#673eff 0 290.9px,#ecdeff 0 291.9px,#edc7dd 0 292.9px,#7147ff 0 293.9px,#d7bdff 0 294.9px,#c09dff 0 296.0px,#9f74ff 0 297.0px,#ffe7de 0 298.0px,#e2ceff 0 299.0px,#cdafff 0 300.0px,#dbc5ff 0 301.0px,#4e2cff 0 302.0px,#f9e5e9 0 303.0px,#e4d2ff 0 304.0px,#b792ff 0 305.0px,#3016ff 0 306.0px,#d0b9ff 0 307.0px,#cbacff 0 308.0px,#2a17ff 0 309.0px,#ebc6df 0 310.0px,#b39cff 0 311.1px,#c8a8ff 0 312.1px,#3f29ff 0 313.1px,#c9aaff 0 314.1px,#d0b3ff 0 315.1px,#e1c1ec 0 316.1px,#2e1aff 0 317.1px,#c7a6ff 0 318.1px,#e8d8ff 0 319.1px,#d8c1ff 0 320.1px,#c4a3ff 0 321.1px,#fdfbff 0 322.1px,#ab8bff 0 323.1px,#c8a8ff 0 324.1px,#ecc7de 0 325.1px,#f5eeff 0 326.1px,#fbebec 0 327.1px,#efbfce 0 328.2px,#f3eaff 0 329.2px,#8f64ff 0 330.2px,#bb96ff 0 331.2px,#ccadff 0 332.2px,#ceb1ff 0 333.2px,#5e4bff 0 334.2px,#7b4fff 0 335.2px,#ffffff 0 341.1px,#ffa489 0 342.1px,#ffece5 0 343.1px,#ffb097 0 344.1px,#ff3925 0 345.1px,#fff3ef 0 346.1px,#e1ceff 0 347.1px,#dcc8fc 0 348.1px,#ffbfac 0 349.1px,#936cff 0 350.1px,#0f05ff 0 351.1px,#4326ff 0 352.1px,#ffe6de 0 353.1px,#ffdccf 0 354.1px,#ff9476 0 355.1px,#f2e8ff 0 356.1px,#ff8a6c 0 357.1px,#e1cdff 0 358.1px,#ff6445 0 359.1px,#ffac93 0 360.1px,#ff7453 0 361.1px,#ecb9cc 0 362.1px,#ba9af1 0 363.1px,#ffdace 0 364.1px,#ff7959 0 365.1px,#ebc3da 0 366.1px,#ff8269 0 367.1px,#e4b2d1 0 368.1px,#dbbff3 0 369.1px,#ff3a21 0 370.1px,#ff3d23 0 371.1px,#ff997f 0 372.1px,#f8d3d4 0 373.1px,#f0c4d3 0 374.1px,#ff0000 0 376.1px,#ffb29a 0 377.0px,#4832ff 0 378.0px,#f2e5fa 0 379.0px,#f8e0e6 0 380.0px,#d9c5ff 0 381.0px,#d2aae6 0 382.0px,#f2e9ff 0 383.0px,#ffb199 0 384.0px,#ff775a 0 385.0px,#ff987e 0 386.0px,#ffe7df 0 387.0px,#e5d3ff 0 388.0px,#fcb4a8 0 389.0px,#ff5e3d 0 390.0px,#eed0e6 0 391.0px,#ff8a6a 0 392.0px,#7d51ff 0 393.0px,#decaff 0 394.0px,#ab8bff 0 395.0px,#ff4737 0 396.0px,#c09cff 0 397.0px,#ffb69f 0 398.0px,#ffeae2 0 399.0px,#ff603f 0 400.0px,#f8e0e7 0 401.0px,#ffb8a1 0 402.0px,#0000ff 0 403.0px,#ecddfc 0 404.0px,#f3eaff 0 405.0px,#ffe8df 0 406.0px,#ffc8b8 0 407.0px,#ff9078 0 408.0px,#fce5e3 0 409.0px,#f4ebff 0 410.0px,#c9a9f2 0 411.0px)"></div><div class="h" style="top:61.60px;height:4.92px;background:linear-gradient(90deg,#ffffff 0 0.0px,#d6a7db 0 1.0px,#4d37ff 0 2.0px,#f8edf7 0 3.0px,#ffc2ae 0 4.0px,#8154ff 0 5.0px,#b48cff 0 6.0px,#fddbd4 0 7.0px,#e9dbff 0 8.0px,#ecdeff 0 9.0px,#c4a4ff 0 10.0px,#b28aff 0 10.9px,#cfb2ff 0 11.9px,#9165ff 0 12.9px,#ff7d7c 0 13.9px,#fed9cf 0 14.9px,#ffbba5 0 15.9px,#7348ff 0 16.9px,#422bff 0 17.9px,#f1c7d5 0 18.9px,#decbff 0 19.9px,#e5d4ff 0 20.9px,#bb99ff 0 21.9px,#e2a3c3 0 22.9px,#cbadff 0 23.9px,#fbf1f4 0 24.9px,#b68fff 0 25.9px,#663eff 0 26.9px,#e9a8bd 0 27.9px,#d2bdff 0 28.9px,#e1c1eb 0 29.9px,#966fff 0 30.9px,#ff8b6b 0 31.8px,#ff0e05 0 32.8px,#f6cccf 0 33.8px,#ffac96 0 34.8px,#ec8b9a 0 35.8px,#e4d4ff 0 36.8px,#ac87ff 0 37.8px,#dbc6ff 0 38.8px,#fef8f8 0 39.8px,#bc9cff 0 40.8px,#e1cdff 0 41.8px,#ffae95 0 42.8px,#6758ff 0 43.8px,#805aff 0 44.8px,#f5d5dd 0 45.8px,#543fff 0 46.8px,#2511ff 0 47.8px,#e390ac 0 48.8px,#d7bcff 0 49.8px,#ffbea9 0 50.8px,#fdc6ba 0 51.8px,#dbc3ff 0 52.7px,#ffbfad 0 53.7px,#ffd8cc 0 54.7px,#ffb59d 0 55.7px,#b593ff 0 56.7px,#fbd9d5 0 57.7px,#ff846e 0 58.7px,#d0b6ff 0 59.7px,#f1c7d5 0 60.7px,#ccb1ff 0 61.7px,#ae8aff 0 62.7px,#a075ff 0 63.7px,#c3a5ff 0 64.7px,#c4a3ff 0 65.7px,#ffbdab 0 66.7px,#5034ff 0 67.7px,#190bff 0 68.7px,#ecdfff 0 69.7px,#ff9278 0 70.7px,#ffdbce 0 71.7px,#4d37ff 0 72.6px,#ff896c 0 73.6px,#ffc9b7 0 74.6px,#ffe2d8 0 75.6px,#ceb1ff 0 76.6px,#ffa58e 0 77.6px,#ff9c7f 0 78.6px,#ff7658 0 79.6px,#2815ff 0 80.6px,#0e05ff 0 81.6px,#d1b9ff 0 82.6px,#4d37ff 0 83.6px,#5735ff 0 84.6px,#af86ff 0 85.6px,#0000ff 0 86.6px,#ceb0ff 0 87.6px,#fffdfe 0 88.6px,#c6a5ff 0 89.6px,#452fff 0 90.6px,#0000ff 0 91.6px,#ffb29a 0 92.6px,#0000ff 0 93.5px,#b18be8 0 94.5px,#ff9375 0 95.5px,#c8a9ff 0 96.5px,#ff5d3e 0 97.5px,#ff5636 0 98.5px,#fff0eb 0 99.5px,#7d51ff 0 100.5px,#8559ff 0 101.5px,#0000ff 0 102.5px,#ac86ff 0 103.5px,#ffffff 0 109.7px,#edd5ef 0 110.7px,#d3b8ff 0 111.7px,#c9aaff 0 112.7px,#907bff 0 113.7px,#8558ff 0 114.7px,#e4d2ff 0 115.7px,#ffb198 0 116.7px,#f7dee5 0 117.7px,#d8c2ff 0 118.7px,#dec8ff 0 119.7px,#e2cdff 0 120.7px,#bc97ff 0 121.7px,#f7e9f4 0 122.7px,#ffeae4 0 123.7px,#513bff 0 124.7px,#cbacff 0 125.7px,#bc9eff 0 126.7px,#ceaff2 0 127.7px,#ffccbb 0 128.7px,#cdb6ff 0 129.7px,#a47bff 0 130.7px,#ffa891 0 131.7px,#f5eeff 0 132.7px,#ffbaa5 0 133.8px,#0000ff 0 134.8px,#cab0ff 0 135.8px,#ffe0d4 0 136.8px,#e0ceff 0 137.8px,#c4a6ff 0 138.8px,#9d72ff 0 139.8px,#8464ff 0 140.8px,#d5b1ea 0 141.8px,#fbd0ca 0 142.8px,#c3a7ff 0 143.8px,#a780ff 0 144.8px,#ffe8df 0 145.8px,#7955ff 0 146.8px,#c9a8ff 0 147.8px,#b592ff 0 148.8px,#ebddff 0 149.8px,#d4b3ed 0 150.8px,#734cff 0 151.8px,#815aff 0 152.8px,#ebdcff 0 153.8px,#fdfbfe 0 154.8px,#ecbfd5 0 155.8px,#ff7e63 0 156.8px,#ffffff 0 162.6px,#503bff 0 163.6px,#ffc2ad 0 164.6px,#604fff 0 165.6px,#ffdcd0 0 166.6px,#5f37ff 0 167.6px,#ffdacd 0 168.6px,#4029ff 0 169.5px,#7f53ff 0 170.5px,#ffd5c6 0 171.5px,#5d4aff 0 172.5px,#724cff 0 173.5px,#e7d6ff 0 174.5px,#a782ff 0 175.5px,#4c28ff 0 176.5px,#e4d3ff 0 177.5px,#f3dded 0 178.5px,#b18cff 0 179.5px,#f7f1fe 0 180.5px,#170aff 0 181.4px,#b189ff 0 182.4px,#7974ff 0 183.4px,#fccac1 0 184.4px,#422cff 0 185.4px,#cbacff 0 186.4px,#f4ebff 0 187.4px,#9976ff 0 188.4px,#c2a1ff 0 189.4px,#e5c9ef 0 190.4px,#d3b7ff 0 191.4px,#3e28ff 0 192.4px,#8559ff 0 193.3px,#a279ff 0 194.3px,#9166ff 0 195.3px,#0902ff 0 196.3px,#6145ff 0 197.3px,#e4d3fe 0 198.3px,#ab82ff 0 199.3px,#ffffff 0 205.1px,#ff7a59 0 206.1px,#ffbaa4 0 207.1px,#ff3e2d 0 208.1px,#ff8d6f 0 209.1px,#f1d4e6 0 210.1px,#ff3c2b 0 211.2px,#ffb49d 0 212.2px,#ff987b 0 213.2px,#ff0000 0 214.2px,#fce4e2 0 215.2px,#f7f1ff 0 216.2px,#eec4d7 0 217.2px,#ff8667 0 218.2px,#ff7559 0 219.2px,#ff7354 0 220.2px,#ff4c2e 0 221.2px,#ff2314 0 222.3px,#ffac93 0 223.3px,#ff6b4e 0 224.3px,#ffbda8 0 225.3px,#ff9175 0 226.3px,#ff6860 0 227.3px,#ff8f70 0 228.3px,#9c70ff 0 229.3px,#ffa88d 0 230.3px,#ff0100 0 231.3px,#ffa78c 0 232.4px,#b08bff 0 233.4px,#ff6242 0 234.4px,#ff4a3a 0 235.4px,#ff2b1b 0 236.4px,#ffab95 0 237.4px,#fbd1cc 0 238.4px,#ff6953 0 239.4px,#edd7f2 0 240.4px,#ff0000 0 241.4px,#ffcabb 0 242.4px,#ffa186 0 243.5px,#bd99ff 0 244.5px,#dbc4ff 0 245.5px,#ff6948 0 246.5px,#ffe3d9 0 247.5px,#ff0000 0 248.5px,#ffffff 0 254.7px,#ecdeff 0 255.7px,#fbf8fe 0 256.7px,#af87ff 0 257.7px,#3620ff 0 258.7px,#0000ff 0 259.7px,#c09eff 0 260.7px,#f4edff 0 261.7px,#a583ff 0 262.8px,#bc99ff 0 263.8px,#e2ceff 0 264.8px,#1609ff 0 265.8px,#3a24ff 0 266.8px,#decafd 0 267.8px,#f0e4fd 0 268.8px,#a277ff 0 269.8px,#ad85ff 0 270.8px,#4933ff 0 271.8px,#7b51ff 0 272.8px,#b58fff 0 273.8px,#523dff 0 274.8px,#ffefe9 0 275.8px,#0000ff 0 276.8px,#986cff 0 277.8px,#aa80ff 0 278.8px,#caaaff 0 280.9px,#1b0dff 0 281.9px,#feebe7 0 282.9px,#bc9bff 0 283.9px,#cdb2ff 0 284.9px,#c6a5ff 0 285.9px,#eecfe4 0 286.9px,#895cff 0 287.9px,#e2cfff 0 288.9px,#ef9ea9 0 289.9px,#4f39ff 0 290.9px,#d7bdff 0 291.9px,#e5c5ea 0 292.9px,#6f45ff 0 293.9px,#f0e5ff 0 294.9px,#c3a2ff 0 296.0px,#8359ff 0 297.0px,#f7ebf7 0 298.0px,#a67fff 0 299.0px,#a88aff 0 300.0px,#bb96ff 0 301.0px,#7349ff 0 302.0px,#ffeae3 0 303.0px,#e7d7ff 0 304.0px,#885cff 0 305.0px,#633bff 0 306.0px,#a178ff 0 307.0px,#bf9bff 0 308.0px,#0000ff 0 309.0px,#f7d6db 0 310.0px,#8a69ff 0 311.1px,#ba97ff 0 312.1px,#0501ff 0 313.1px,#c29fff 0 314.1px,#c2a0ff 0 315.1px,#d8c2ff 0 316.1px,#0000ff 0 317.1px,#b18aff 0 318.1px,#dbc3ff 0 319.1px,#d7bdff 0 320.1px,#bc98ff 0 321.1px,#f8effb 0 322.1px,#876aff 0 323.1px,#a780ff 0 324.1px,#e7d7ff 0 325.1px,#dfc9ff 0 326.1px,#e7d7ff 0 327.1px,#ebc4db 0 328.2px,#d0b3ff 0 329.2px,#a77dff 0 330.2px,#c19dff 0 331.2px,#c9aaff 0 332.2px,#b690ff 0 333.2px,#6353ff 0 334.2px,#7247ff 0 335.2px,#ffffff 0 341.1px,#ffc5b3 0 342.1px,#fbe2e2 0 343.1px,#ffd8ca 0 344.1px,#ff7256 0 345.1px,#fff7f4 0 346.1px,#e6d5ff 0 347.1px,#f4ecff 0 348.1px,#ffab91 0 349.1px,#b189ff 0 350.1px,#543fff 0 351.1px,#4b34ff 0 352.1px,#ffb59e 0 353.1px,#ffe5dc 0 354.1px,#ffbca6 0 355.1px,#e6c2e3 0 356.1px,#ffa98e 0 357.1px,#dcc6ff 0 358.1px,#ff775e 0 359.1px,#ffb4a3 0 360.1px,#ffa387 0 361.1px,#ffe0d5 0 362.1px,#d09bd6 0 363.1px,#ffb8a2 0 364.1px,#ff7d5c 0 365.1px,#faf2fa 0 366.1px,#ff8366 0 367.1px,#fffefd 0 368.1px,#f3cfdc 0 369.1px,#ff9779 0 370.1px,#ff8161 0 371.1px,#ffb39d 0 372.1px,#ffe7de 0 373.1px,#fbe7e7 0 374.1px,#ff2818 0 375.1px,#ff0000 0 376.1px,#ffcbb9 0 377.0px,#9165ff 0 378.0px,#f4ecff 0 379.0px,#faf5fe 0 380.0px,#decafd 0 381.0px,#fffbfb 0 382.0px,#ebdcff 0 383.0px,#fbd2cc 0 384.0px,#ffab91 0 385.0px,#ffc9b7 0 386.0px,#fff9f7 0 387.0px,#ddc7ff 0 388.0px,#ffbdaa 0 389.0px,#ff7555 0 390.0px,#f2c5cf 0 391.0px,#ffcebd 0 392.0px,#b28bff 0 393.0px,#f8ebf4 0 394.0px,#d3b9f7 0 395.0px,#ff7555 0 396.0px,#e1cdff 0 397.0px,#ffdcd0 0 398.0px,#fde2dd 0 399.0px,#ff5e3f 0 400.0px,#f8ecf7 0 401.0px,#ffc3b0 0 402.0px,#673eff 0 403.0px,#eddaf5 0 404.0px,#eedbf5 0 405.0px,#fce5e4 0 406.0px,#ffe7df 0 407.0px,#ff8670 0 408.0px,#f4eafc 0 409.0px,#ecd8f5 0 410.0px,#ddb8e6 0 411.0px)"></div><div class="h" style="top:73.00px;height:4.88px;background:linear-gradient(90deg,#ffffff 0 0.0px,#fff4f0 0 1.0px,#ffbca8 0 2.0px,#ffcdbc 0 3.0px,#b593ff 0 4.0px,#0000ff 0 5.0px,#cbaeff 0 6.0px,#ff8769 0 7.0px,#b189ff 0 8.0px,#f2dff3 0 9.0px,#ffe0d5 0 10.0px,#7d53ff 0 10.9px,#7048ff 0 11.9px,#d0b7fb 0 12.9px,#fffbf9 0 13.9px,#452eff 0 14.9px,#e7cff2 0 15.9px,#e2d0fd 0 16.9px,#ffccbb 0 17.9px,#4c36ff 0 18.9px,#e9daff 0 19.9px,#633cff 0 20.9px,#a47aff 0 21.9px,#ffd8ca 0 22.9px,#ccaeff 0 23.9px,#ffa083 0 24.9px,#2111ff 0 25.9px,#ede0ff 0 26.9px,#ddbfef 0 27.9px,#ff5d3c 0 28.9px,#a47bff 0 29.9px,#4a27ff 0 30.9px,#c29fff 0 31.8px,#e7d2f7 0 32.8px,#d7c0ff 0 33.8px,#efd8ed 0 34.8px,#fac7c2 0 35.8px,#d6bcff 0 36.8px,#ad85ff 0 37.8px,#ffac92 0 38.8px,#c5a3ff 0 39.8px,#6250ff 0 40.8px,#ff5031 0 41.8px,#2f1bff 0 42.8px,#9468ff 0 43.8px,#0000ff 0 44.8px,#6139ff 0 45.8px,#0000ff 0 46.8px,#351eff 0 47.8px,#0000ff 0 48.8px,#ff7b60 0 49.8px,#7659ff 0 50.8px,#ff5e53 0 51.8px,#ebddff 0 52.7px,#fde7e3 0 53.7px,#a982ff 0 54.7px,#ede0ff 0 55.7px,#9c70ff 0 56.7px,#ff4f41 0 57.7px,#f9e9ee 0 58.7px,#6453ff 0 59.7px,#d9c2ff 0 60.7px,#5e4bff 0 61.7px,#ff8469 0 62.7px,#fbe3e3 0 63.7px,#c9aaff 0 64.7px,#b68fff 0 65.7px,#dec8ff 0 66.7px,#ff9e84 0 67.7px,#eee2ff 0 68.7px,#c8aaff 0 69.7px,#9a73ff 0 70.7px,#c3a1ff 0 71.7px,#1e0fff 0 72.6px,#ffc6b4 0 73.6px,#6842ff 0 74.6px,#d2a8e4 0 75.6px,#9b72ff 0 76.6px,#a27dff 0 77.6px,#b495ff 0 78.6px,#ecd5f1 0 79.6px,#ffd0c0 0 80.6px,#f9eef5 0 81.6px,#432cff 0 82.6px,#2514ff 0 83.6px,#9266ff 0 84.6px,#3923ff 0 85.6px,#f6e3ee 0 86.6px,#d1b4ff 0 87.6px,#fdfbfe 0 88.6px,#ff755b 0 89.6px,#ffdbcf 0 90.6px,#0501ff 0 91.6px,#fcf0f1 0 92.6px,#ead1f0 0 93.5px,#4c36ff 0 94.5px,#eee1ff 0 95.5px,#301bff 0 96.5px,#e4b1d0 0 97.5px,#ff1e0c 0 98.5px,#6352ff 0 99.5px,#ff7553 0 100.5px,#d9b3e7 0 101.5px,#c1a1ff 0 102.5px,#8d74ff 0 103.5px,#ffffff 0 109.7px,#d6bbff 0 110.7px,#fed0c5 0 111.7px,#ffd3c4 0 112.7px,#ffe9e2 0 113.7px,#ffbea9 0 114.7px,#fbf8fe 0 115.7px,#ff957a 0 116.7px,#ffd7c9 0 117.7px,#ffe2d7 0 118.7px,#ff1d10 0 119.7px,#ff755a 0 120.7px,#ffbca6 0 121.7px,#ffd1c1 0 122.7px,#ff4131 0 123.7px,#ff977a 0 124.7px,#f4e3f3 0 125.7px,#ffc5b2 0 126.7px,#ffa58a 0 127.7px,#ff9172 0 128.7px,#ffa78e 0 129.7px,#fdf6f8 0 130.7px,#ffc0ac 0 131.7px,#ff1b0e 0 132.7px,#ff8d6d 0 133.8px,#f2bac2 0 134.8px,#dbc7ff 0 135.8px,#ffac93 0 136.8px,#ff301f 0 137.8px,#decaff 0 138.8px,#d7beff 0 139.8px,#996fff 0 140.8px,#784dff 0 141.8px,#ffdccf 0 142.8px,#ffd2c3 0 143.8px,#ffa48a 0 144.8px,#ffb097 0 145.8px,#efcfe2 0 146.8px,#d5bbff 0 147.8px,#ff8667 0 148.8px,#ff6242 0 149.8px,#ff9f83 0 150.8px,#ffa388 0 151.8px,#ffc7b5 0 152.8px,#ff6849 0 153.8px,#c6a8ff 0 154.8px,#ff9379 0 155.8px,#ffdbcf 0 156.8px,#ffffff 0 162.6px,#5540ff 0 163.6px,#ffc6b3 0 164.6px,#d2b9ff 0 165.6px,#ffc3af 0 166.6px,#ffd2c2 0 167.6px,#c79de4 0 168.6px,#6a44ff 0 169.5px,#7e52ff 0 170.5px,#f2d6e5 0 171.5px,#ffe1d7 0 172.5px,#ffaf9b 0 173.5px,#af8bff 0 174.5px,#f0e5ff 0 175.5px,#ff574b 0 176.5px,#ff8166 0 177.5px,#ffbea9 0 178.5px,#ff6b4c 0 179.5px,#ff6143 0 180.5px,#ff8e6f 0 181.4px,#ffb39f 0 182.4px,#ff2314 0 183.4px,#ff0000 0 184.4px,#ffe6dd 0 185.4px,#ff0000 0 186.4px,#6353ff 0 187.4px,#dcc6ff 0 188.4px,#ffa18f 0 189.4px,#ffa084 0 190.4px,#c09cff 0 191.4px,#fedad0 0 192.4px,#0000ff 0 193.3px,#1408ff 0 194.3px,#fed7cd 0 195.3px,#f5d5dd 0 196.3px,#c6a5ff 0 197.3px,#ff6f4e 0 198.3px,#e6d4ff 0 199.3px,#ffffff 0 205.1px,#eccfe9 0 206.1px,#ae87ff 0 207.1px,#ffe1d6 0 208.1px,#311dff 0 209.1px,#3d27ff 0 210.1px,#e3d1ff 0 211.2px,#caafff 0 212.2px,#af8cff 0 213.2px,#f8ada9 0 214.2px,#ab81ff 0 215.2px,#7e52ff 0 216.2px,#623aff 0 217.2px,#6038ff 0 218.2px,#f7e5ed 0 219.2px,#d3baff 0 220.2px,#caabff 0 221.2px,#b690ff 0 222.3px,#5937ff 0 223.3px,#d1b7ff 0 224.3px,#4933ff 0 225.3px,#e7caec 0 226.3px,#ffbaa5 0 227.3px,#b298ff 0 228.3px,#8c68ff 0 229.3px,#ccacf2 0 230.3px,#dec1f1 0 231.3px,#d6bbff 0 232.4px,#ebd3ef 0 233.4px,#aa85ff 0 234.4px,#b892ff 0 235.4px,#b58fff 0 236.4px,#fac1ba 0 237.4px,#5f3bff 0 238.4px,#dec9ff 0 239.4px,#ba9cff 0 240.4px,#b790ff 0 241.4px,#cdb1ff 0 242.4px,#946cff 0 243.5px,#6656ff 0 244.5px,#c7a6ff 0 245.5px,#ffbca6 0 246.5px,#f8dfe3 0 247.5px,#2111ff 0 248.5px,#ffffff 0 254.7px,#fcd0c9 0 255.7px,#f4deeb 0 256.7px,#ff7353 0 257.7px,#ff593d 0 258.7px,#ffb19a 0 259.7px,#ff8565 0 260.7px,#ff5f3f 0 261.7px,#ff8e71 0 262.8px,#ff3120 0 263.8px,#ffab94 0 264.8px,#ff9a80 0 265.8px,#ebc8e0 0 266.8px,#845cff 0 267.8px,#f4ebfc 0 268.8px,#ffc2ae 0 269.8px,#f8f1fd 0 270.8px,#ff574a 0 271.8px,#ffc8b6 0 272.8px,#ff7c5b 0 273.8px,#ff5e3f 0 274.8px,#ffb29a 0 275.8px,#ffd9cc 0 276.8px,#ff8363 0 277.8px,#ff1409 0 278.8px,#ff2d1d 0 279.9px,#fac3bc 0 280.9px,#ff0c04 0 281.9px,#ff2d1b 0 282.9px,#5a33ff 0 283.9px,#ff593b 0 284.9px,#ffcab9 0 285.9px,#ff0f06 0 286.9px,#ff6746 0 287.9px,#ffcdbb 0 288.9px,#ff2b1a 0 289.9px,#ff4028 0 290.9px,#ff6647 0 291.9px,#ff150a 0 292.9px,#ffd5c7 0 293.9px,#ff0000 0 294.9px,#ff5e4a 0 296.0px,#ff594c 0 297.0px,#ffa187 0 298.0px,#ff7251 0 299.0px,#ff0000 0 300.0px,#ffa38b 0 301.0px,#ff0000 0 302.0px,#ff5a43 0 303.0px,#bf9dff 0 304.0px,#ff9577 0 305.0px,#ffb49e 0 306.0px,#ffc3b3 0 307.0px,#ff0000 0 308.0px,#ff9476 0 309.0px,#ffa896 0 310.0px,#f2b0b7 0 311.1px,#ffb39b 0 312.1px,#ff9375 0 313.1px,#d2b5ff 0 314.1px,#ff6345 0 315.1px,#fff2ee 0 316.1px,#3722ff 0 317.1px,#ad87ff 0 318.1px,#eccee8 0 319.1px,#ff8665 0 320.1px,#ff4a2d 0 321.1px,#ff7161 0 322.1px,#ff3827 0 323.1px,#ff0000 0 324.1px,#ffaa90 0 325.1px,#ffc8b6 0 326.1px,#ff0000 0 327.1px,#fdc7bc 0 328.2px,#ff0000 0 329.2px,#ff866e 0 330.2px,#ffb7a1 0 331.2px,#ffa78d 0 332.2px,#ff7757 0 333.2px,#ff9b83 0 334.2px,#ff0000 0 335.2px,#ffffff 0 341.1px,#855aff 0 342.1px,#fcf0f3 0 343.1px,#f6efff 0 344.1px,#dac1ff 0 345.1px,#bd9fff 0 346.1px,#fcd8d2 0 347.1px,#dac3ff 0 348.1px,#d4bbff 0 349.1px,#e1ccff 0 350.1px,#2715ff 0 351.1px,#c19fff 0 352.1px,#ad88ff 0 353.1px,#eecce2 0 354.1px,#ff8163 0 355.1px,#d6bcff 0 356.1px,#e1b1d6 0 357.1px,#e2bee6 0 358.1px,#fef4f2 0 359.1px,#bb9dff 0 360.1px,#ff9c80 0 361.1px,#e3cdf8 0 362.1px,#f5ecfc 0 363.1px,#efd9ef 0 364.1px,#f9e6eb 0 365.1px,#d1b5ff 0 366.1px,#8072ed 0 367.1px,#f3e9ff 0 368.1px,#fbc8c1 0 369.1px,#d4bbff 0 370.1px,#d7bdff 0 371.1px,#fdd7cf 0 372.1px,#fcded9 0 373.1px,#b58eff 0 374.1px,#fceded 0 375.1px,#e4d1ff 0 376.1px,#a67eff 0 377.0px,#dbc3ff 0 378.0px,#e0bbe4 0 379.0px,#e5d3ff 0 380.0px,#fbeff3 0 381.0px,#a174d9 0 382.0px,#a786ff 0 383.0px,#ffd3c6 0 384.0px,#e4d4ff 0 385.0px,#e6d7ff 0 386.0px,#c8b0fc 0 387.0px,#fceded 0 388.0px,#ffd6c9 0 389.0px,#e098b8 0 390.0px,#a47aff 0 391.0px,#ffd8cb 0 392.0px,#442eff 0 393.0px,#1708ff 0 394.0px,#ca97d8 0 395.0px,#a67eff 0 396.0px,#fee7e0 0 397.0px,#e1cdff 0 398.0px,#c2aaff 0 399.0px,#f7f0ff 0 400.0px,#ffdacd 0 401.0px,#f4d8e4 0 402.0px,#ffcebd 0 403.0px,#ffeae3 0 404.0px,#ffc3b0 0 405.0px,#ffb097 0 406.0px,#ffc9b7 0 407.0px,#f97580 0 408.0px,#cbacff 0 409.0px,#f7e2ec 0 410.0px,#cca1e3 0 411.0px)"></div><div class="h" style="top:77.86px;height:4.88px;background:linear-gradient(90deg,#ffffff 0 0.0px,#f6dee8 0 1.0px,#ff9476 0 2.0px,#ffe2d8 0 3.0px,#c3a0ff 0 4.0px,#0000ff 0 5.0px,#d0b2ff 0 6.0px,#ff8c6d 0 7.0px,#aa82ff 0 8.0px,#fdf2f1 0 9.0px,#f9e0e2 0 10.0px,#7c50ff 0 10.9px,#926eff 0 11.9px,#b491ff 0 12.9px,#f7ecf8 0 13.9px,#9568ff 0 14.9px,#e0cbff 0 15.9px,#efdff8 0 16.9px,#ffbba5 0 17.9px,#6244ff 0 18.9px,#d9c0ff 0 19.9px,#7a4eff 0 20.9px,#8e63ff 0 21.9px,#faccc7 0 22.9px,#d6bdff 0 23.9px,#ffbda7 0 24.9px,#3016ff 0 25.9px,#ddc6ff 0 26.9px,#f9f0fa 0 27.9px,#ff9d80 0 28.9px,#9468ff 0 29.9px,#8559ff 0 30.9px,#e0cbff 0 31.8px,#e2c8f2 0 32.8px,#e3d2ff 0 33.8px,#fff5f1 0 34.8px,#ffd8cc 0 35.8px,#e7d5ff 0 36.8px,#a076ff 0 37.8px,#ffcbba 0 38.8px,#e3cbf6 0 39.8px,#a37fff 0 40.8px,#ff7b5a 0 41.8px,#4e2dff 0 42.8px,#956cff 0 43.8px,#0000ff 0 44.8px,#4c2aff 0 45.8px,#1e0fff 0 46.8px,#8154ff 0 47.8px,#0000ff 0 48.8px,#ffbba8 0 49.8px,#c0a1ff 0 50.8px,#ff5548 0 51.8px,#eee2ff 0 52.7px,#fff1ec 0 53.7px,#ac86ff 0 54.7px,#f8e2e9 0 55.7px,#ad85ff 0 56.7px,#ff8568 0 57.7px,#ffebe4 0 58.7px,#614fff 0 59.7px,#c09eff 0 60.7px,#5b47ff 0 61.7px,#ff5041 0 62.7px,#fff5f1 0 63.7px,#bc97ff 0 64.7px,#e5d3ff 0 65.7px,#dcc7ff 0 66.7px,#ffa792 0 67.7px,#f3eaff 0 68.7px,#e0cdff 0 69.7px,#b892ff 0 70.7px,#ab82ff 0 71.7px,#462fff 0 72.6px,#ffa186 0 73.6px,#8961ff 0 74.6px,#d9a8d8 0 75.6px,#c09dff 0 76.6px,#966cff 0 77.6px,#ab88ff 0 78.6px,#f5d9e3 0 79.6px,#ffe7de 0 80.6px,#f5dae4 0 81.6px,#432dff 0 82.6px,#5533ff 0 83.6px,#a481ff 0 84.6px,#200cff 0 85.6px,#fcf8fc 0 86.6px,#ddc7ff 0 87.6px,#ecdeff 0 88.6px,#ff694b 0 89.6px,#ffc5b3 0 90.6px,#3f28ff 0 91.6px,#fce7e6 0 92.6px,#e9daff 0 93.5px,#3a24ff 0 94.5px,#e2d0ff 0 95.5px,#3b25ff 0 96.5px,#f0d0e1 0 97.5px,#ff4126 0 98.5px,#5d4aff 0 99.5px,#ffa890 0 100.5px,#e8bfdc 0 101.5px,#d5bdff 0 102.5px,#b196ff 0 103.5px,#ffffff 0 109.7px,#e3cfff 0 110.7px,#f2cdd9 0 111.7px,#ffccbb 0 112.7px,#faf3fb 0 113.7px,#ffb7a0 0 114.7px,#fefbfb 0 115.7px,#ffb59d 0 116.7px,#ffcdbc 0 117.7px,#fed4ca 0 118.7px,#ff5d3d 0 119.7px,#ffa48b 0 120.7px,#ffcfbf 0 121.7px,#ffbfab 0 122.7px,#ff7e5f 0 123.7px,#ffab94 0 124.7px,#f8d0d1 0 125.7px,#ffc5b2 0 126.7px,#ffa186 0 127.7px,#ff9f82 0 128.7px,#ffc7b4 0 129.7px,#fefbfd 0 130.7px,#ffe8e0 0 131.7px,#ff2616 0 132.7px,#ffa991 0 133.8px,#f6d5dc 0 134.8px,#f7eefb 0 135.8px,#ff997c 0 136.8px,#ff8469 0 137.8px,#eee2ff 0 138.8px,#ddc7ff 0 139.8px,#9b79ff 0 140.8px,#9d72ff 0 141.8px,#ffe7df 0 142.8px,#ffc8b6 0 143.8px,#ffa78d 0 144.8px,#ffbfaa 0 145.8px,#f5edfe 0 146.8px,#e2cfff 0 147.8px,#ffa084 0 148.8px,#ff704f 0 149.8px,#ffbba5 0 150.8px,#ffd7c9 0 151.8px,#ffd2c2 0 152.8px,#ff8766 0 153.8px,#d1b5ff 0 154.8px,#ffbaa7 0 155.8px,#ffefe8 0 156.8px,#ffffff 0 162.6px,#9770ff 0 163.6px,#ffb79f 0 164.6px,#ebd2ee 0 165.6px,#ffd4c5 0 166.6px,#ffbfaa 0 167.6px,#bd9ef3 0 168.6px,#966bff 0 169.5px,#8c60ff 0 170.5px,#f6efff 0 171.5px,#ffdfd3 0 172.5px,#fdedeb 0 173.5px,#c7a7ff 0 174.5px,#f3eaff 0 175.5px,#ff7b5b 0 176.5px,#ffb69f 0 177.5px,#ffd4c5 0 178.5px,#ffaf96 0 179.5px,#ff9375 0 180.5px,#ffc5b1 0 181.4px,#ffb6a2 0 182.4px,#ff4738 0 183.4px,#ff5036 0 184.4px,#ffdbcf 0 185.4px,#ff5031 0 186.4px,#bd9eff 0 187.4px,#d5bdff 0 188.4px,#ffa792 0 189.4px,#ffcebd 0 190.4px,#a67cff 0 191.4px,#ffd2c2 0 192.4px,#0000ff 0 193.3px,#4b2aff 0 194.3px,#f0ccde 0 195.3px,#ffe2d8 0 196.3px,#d8c0ff 0 197.3px,#ff9779 0 198.3px,#e2ceff 0 199.3px,#ffffff 0 205.1px,#e9ccea 0 206.1px,#bc98ff 0 207.1px,#ffc7b5 0 208.1px,#8a60ff 0 209.1px,#825bff 0 210.1px,#f4dfed 0 211.2px,#dfcdff 0 212.2px,#b994ff 0 213.2px,#fdbfb3 0 214.2px,#c8a9ff 0 215.2px,#6d4aff 0 216.2px,#5f37ff 0 217.2px,#643dff 0 218.2px,#dfcbff 0 219.2px,#dbbcf0 0 220.2px,#b793ff 0 221.2px,#d1b5ff 0 222.3px,#744dff 0 223.3px,#cfb8ff 0 224.3px,#7f54ff 0 225.3px,#f2d2e1 0 226.3px,#ffc7b6 0 227.3px,#b797ff 0 228.3px,#6442ff 0 229.3px,#d7baf2 0 230.3px,#f1e1f6 0 231.3px,#ebdcff 0 232.4px,#f0e5ff 0 233.4px,#b68fff 0 234.4px,#c09eff 0 235.4px,#e2d0ff 0 236.4px,#ffd6c7 0 237.4px,#9b6fff 0 238.4px,#eee1ff 0 239.4px,#b38eff 0 240.4px,#b893ff 0 241.4px,#ebdbfb 0 242.4px,#7951ff 0 243.5px,#8f67ff 0 244.5px,#bf9bff 0 245.5px,#ffbaa4 0 246.5px,#f7e3ed 0 247.5px,#653bff 0 248.5px,#ffffff 0 254.7px,#ffd9cc 0 255.7px,#fff4f0 0 256.7px,#ff8969 0 257.7px,#ff533c 0 258.7px,#ffe0d6 0 259.7px,#ff9779 0 260.7px,#ff6848 0 261.7px,#ffa18d 0 262.8px,#ff493a 0 263.8px,#ffb29a 0 264.8px,#ffa78e 0 265.8px,#fff3ee 0 266.8px,#a080ff 0 267.8px,#efd8f0 0 268.8px,#ffc0ad 0 269.8px,#f4e6f6 0 270.8px,#ff6860 0 271.8px,#fcedef 0 272.8px,#ff7252 0 273.8px,#ff5535 0 274.8px,#ffbba6 0 275.8px,#f5ebfb 0 276.8px,#ffad93 0 277.8px,#ff1207 0 278.8px,#ff6949 0 279.9px,#ffc4b3 0 280.9px,#ff0000 0 281.9px,#ff2919 0 282.9px,#7045ff 0 283.9px,#ff9375 0 284.9px,#facdc9 0 285.9px,#ff6242 0 286.9px,#ff987a 0 287.9px,#ffccba 0 288.9px,#ff5333 0 289.9px,#ff684d 0 290.9px,#ff957b 0 291.9px,#ff3726 0 292.9px,#ffc5b2 0 293.9px,#ff5131 0 294.9px,#ff826c 0 296.0px,#ff574a 0 297.0px,#ffad94 0 298.0px,#ff4934 0 299.0px,#ff0000 0 300.0px,#ffc4b3 0 301.0px,#ff3c2b 0 302.0px,#ff6951 0 303.0px,#bc99ff 0 304.0px,#ff9d81 0 305.0px,#ffbfab 0 306.0px,#f3a7ab 0 307.0px,#ff0000 0 308.0px,#ffae94 0 309.0px,#ffa38a 0 310.0px,#f8bbb8 0 311.1px,#ffc1ad 0 312.1px,#ff7454 0 313.1px,#d8bfff 0 314.1px,#ff9a7d 0 315.1px,#fbe5e5 0 316.1px,#6544ff 0 317.1px,#a078ff 0 318.1px,#f0e0f7 0 319.1px,#ffaf98 0 320.1px,#ffac93 0 321.1px,#ffa088 0 322.1px,#ff5737 0 323.1px,#ff2213 0 324.1px,#ffa88e 0 325.1px,#fff0eb 0 326.1px,#ff1e10 0 327.1px,#fde9e6 0 328.2px,#ff3c2b 0 329.2px,#ff9a7d 0 330.2px,#ffa98e 0 331.2px,#ffcfbf 0 332.2px,#ffad94 0 333.2px,#ff9b83 0 334.2px,#ff3f24 0 335.2px,#ffffff 0 341.1px,#9b6fff 0 342.1px,#feece9 0 343.1px,#e1cfff 0 344.1px,#e1ccff 0 345.1px,#cfb9fe 0 346.1px,#fef4f3 0 347.1px,#ecdfff 0 348.1px,#dec8ff 0 349.1px,#ede0ff 0 350.1px,#422bff 0 351.1px,#bd99ff 0 352.1px,#cbacff 0 353.1px,#f9e6eb 0 354.1px,#ffae94 0 355.1px,#e5d3ff 0 356.1px,#dd9bc2 0 357.1px,#dfcbff 0 358.1px,#faeff4 0 359.1px,#af94ff 0 360.1px,#ffa287 0 361.1px,#e1cdff 0 362.1px,#ecd9f5 0 363.1px,#f8eef8 0 364.1px,#ffe4db 0 365.1px,#cfb3ff 0 366.1px,#805ed2 0 367.1px,#faf5ff 0 368.1px,#f1b5bd 0 369.1px,#e5c5e9 0 370.1px,#f1e2f8 0 371.1px,#f6dde6 0 372.1px,#ffede7 0 373.1px,#d2baff 0 374.1px,#fde7e3 0 375.1px,#e3d0ff 0 376.1px,#b48fff 0 377.0px,#d9c1ff 0 378.0px,#cd94d0 0 379.0px,#e5d5ff 0 380.0px,#ebddff 0 381.0px,#b89fff 0 382.0px,#c4a2ff 0 383.0px,#f1cedd 0 384.0px,#dfc6f5 0 385.0px,#f5edff 0 386.0px,#d1b9ff 0 387.0px,#fff2ed 0 388.0px,#ffc6b5 0 389.0px,#eec9dd 0 390.0px,#b38dff 0 391.0px,#fee7e0 0 392.0px,#331eff 0 393.0px,#7146ff 0 394.0px,#d2b8f7 0 395.0px,#bb9cff 0 396.0px,#ffd8ca 0 397.0px,#e7d8ff 0 398.0px,#d1b5ff 0 399.0px,#fff6f3 0 400.0px,#ffe3d9 0 401.0px,#f3e3f6 0 402.0px,#fef7f6 0 403.0px,#ffe5db 0 404.0px,#ffe6dd 0 405.0px,#ffd7c9 0 406.0px,#ffa387 0 407.0px,#f39b9e 0 408.0px,#cfb2ff 0 409.0px,#fbf8fe 0 410.0px,#f5e0ed 0 411.0px)"></div><div class="h" style="top:82.71px;height:4.88px;background:linear-gradient(90deg,#ffffff 0 0.0px,#fbf1f6 0 1.0px,#ffbfaa 0 2.0px,#fdf9fd 0 3.0px,#dac2ff 0 4.0px,#5a33ff 0 5.0px,#d0b3ff 0 6.0px,#ffb39f 0 7.0px,#cdaeff 0 8.0px,#f3eaff 0 9.0px,#ffddd1 0 10.0px,#a177ff 0 10.9px,#b68fff 0 11.9px,#ddc8ff 0 12.9px,#fff7f3 0 13.9px,#a980ff 0 14.9px,#efd5eb 0 15.9px,#e2ceff 0 16.9px,#ffcfbe 0 17.9px,#8f64ff 0 18.9px,#eadbff 0 19.9px,#8e62ff 0 20.9px,#9f74ff 0 21.9px,#f1e7ff 0 22.9px,#d4b8ff 0 23.9px,#ffcab8 0 24.9px,#653cff 0 25.9px,#e2ceff 0 26.9px,#f3e2f3 0 27.9px,#ffa185 0 28.9px,#bd98ff 0 29.9px,#b58fff 0 30.9px,#d4b8ff 0 31.8px,#f4dae7 0 32.8px,#c6a7ff 0 33.8px,#fff6f2 0 34.8px,#f3c7d1 0 35.8px,#ebdaf9 0 36.8px,#d4b9ff 0 37.8px,#ffab91 0 38.8px,#d1b4ff 0 39.8px,#bea2ff 0 40.8px,#ff8d6e 0 41.8px,#ab81ff 0 42.8px,#bd98ff 0 43.8px,#0000ff 0 44.8px,#8256ff 0 45.8px,#875bff 0 46.8px,#9a6eff 0 47.8px,#0000ff 0 48.8px,#ffa88e 0 49.8px,#bd99ff 0 50.8px,#ff7d69 0 51.8px,#dcc4ff 0 52.7px,#f8f2fe 0 53.7px,#b08aff 0 54.7px,#ffdcd0 0 55.7px,#c8a9ff 0 56.7px,#ff8667 0 57.7px,#feeeeb 0 58.7px,#7a52ff 0 59.7px,#e1ccf9 0 60.7px,#795bff 0 61.7px,#ff9e85 0 62.7px,#ffe9e1 0 63.7px,#b697ff 0 64.7px,#ccadff 0 65.7px,#f1e8ff 0 66.7px,#ffb8a3 0 67.7px,#f8f2fd 0 68.7px,#eddefc 0 69.7px,#d7bfff 0 70.7px,#d0b4ff 0 71.7px,#9469ff 0 72.6px,#ffbda8 0 73.6px,#9e73ff 0 74.6px,#fceeef 0 75.6px,#c9aaff 0 76.6px,#c3a1ff 0 77.6px,#c2a0ff 0 78.6px,#fde5e1 0 79.6px,#ffeae3 0 80.6px,#f4dfee 0 81.6px,#956bff 0 82.6px,#8a62ff 0 83.6px,#d0b4ff 0 84.6px,#7e54ff 0 85.6px,#f6e3ee 0 86.6px,#d2b6ff 0 87.6px,#ffece5 0 88.6px,#ff9274 0 89.6px,#ffd5c7 0 90.6px,#0b03ff 0 91.6px,#f7f2ff 0 92.6px,#e2b9e0 0 93.5px,#5634ff 0 94.5px,#f2e8ff 0 95.5px,#5f3cff 0 96.5px,#dbb5e7 0 97.5px,#ff8b6c 0 98.5px,#b48fff 0 99.5px,#ffbba6 0 100.5px,#edd9f5 0 101.5px,#e4d2ff 0 102.5px,#bca0ff 0 103.5px,#ffffff 0 109.7px,#d8beff 0 110.7px,#eeb8c7 0 111.7px,#ffd1c1 0 112.7px,#fff1ec 0 113.7px,#ffc5b2 0 114.7px,#fff2ed 0 115.7px,#ffb9a3 0 116.7px,#fad7d5 0 117.7px,#feefea 0 118.7px,#ff7e5e 0 119.7px,#ffc4b1 0 120.7px,#ffb39b 0 121.7px,#ffc8b5 0 122.7px,#ff9275 0 123.7px,#ffcfbf 0 124.7px,#f5e3f0 0 125.7px,#ffe4da 0 126.7px,#ffc3af 0 127.7px,#ffb49c 0 128.7px,#ffc2ae 0 129.7px,#e9d9ff 0 130.7px,#ffcebd 0 131.7px,#ffa88d 0 132.7px,#ffcdbc 0 133.8px,#fdfbff 0 134.8px,#e8d7ff 0 135.8px,#ffd4c5 0 136.8px,#ffa48a 0 137.8px,#f9f3fd 0 138.8px,#e1ceff 0 139.8px,#d7beff 0 140.8px,#a87eff 0 141.8px,#fefafa 0 142.8px,#ffcdbc 0 143.8px,#ffbba6 0 144.8px,#ffded3 0 145.8px,#fef5f3 0 146.8px,#e0ccff 0 147.8px,#ffb69e 0 148.8px,#ff8363 0 149.8px,#ffcbba 0 150.8px,#ffeee7 0 151.8px,#ffd9cc 0 152.8px,#ff977a 0 153.8px,#c5a3ff 0 154.8px,#ffc4b1 0 155.8px,#ffe3d9 0 156.8px,#ffffff 0 162.6px,#c4a3ff 0 163.6px,#ffc7b4 0 164.6px,#f7f0ff 0 165.6px,#ffeee8 0 166.6px,#ffcdbd 0 167.6px,#debfee 0 168.6px,#976dff 0 169.5px,#c7a6ff 0 170.5px,#fcfaff 0 171.5px,#fff7f5 0 172.5px,#ffe9e1 0 173.5px,#ebddff 0 174.5px,#fbf8fe 0 175.5px,#ff9c83 0 176.5px,#ffb8a2 0 177.5px,#ffece5 0 178.5px,#ffa084 0 179.5px,#ffa185 0 180.5px,#ffb69e 0 181.4px,#ffbaa4 0 182.4px,#ff8d6f 0 183.4px,#ff8262 0 184.4px,#ffddd1 0 185.4px,#ff8d6f 0 186.4px,#be9eff 0 187.4px,#e7d5ff 0 188.4px,#ffd2c4 0 189.4px,#ffd9cc 0 190.4px,#d3b8ff 0 191.4px,#ffdbce 0 192.4px,#5736ff 0 193.3px,#b28aff 0 194.3px,#fdeae8 0 195.3px,#f4cad1 0 196.3px,#e0ccff 0 197.3px,#ffb9a3 0 198.3px,#ecddfb 0 199.3px,#ffffff 0 205.1px,#e1b8e0 0 206.1px,#bea5ff 0 207.1px,#ffe1d6 0 208.1px,#986cff 0 209.1px,#7e52ff 0 210.1px,#d4baff 0 211.2px,#f5eeff 0 212.2px,#b790ff 0 213.2px,#fbb9af 0 214.2px,#ceb1ff 0 215.2px,#9f78ff 0 216.2px,#8054ff 0 217.2px,#7146ff 0 218.2px,#f2e8ff 0 219.2px,#ebd0ec 0 220.2px,#e3d0ff 0 221.2px,#e0caff 0 222.3px,#865bff 0 223.3px,#d7beff 0 224.3px,#7f53ff 0 225.3px,#f9ebf3 0 226.3px,#ffbca7 0 227.3px,#dac5ff 0 228.3px,#be9dff 0 229.3px,#e0cdff 0 230.3px,#f7ced0 0 231.3px,#f9f0f9 0 232.4px,#eee2ff 0 233.4px,#c8a8ff 0 234.4px,#c19fff 0 235.4px,#d7bbf4 0 236.4px,#fefaf9 0 237.4px,#a27bff 0 238.4px,#e5d3ff 0 239.4px,#d7c0ff 0 240.4px,#d9c0ff 0 241.4px,#e0b9e4 0 242.4px,#8d61ff 0 243.5px,#ac89ff 0 244.5px,#e1cfff 0 245.5px,#ffe1d8 0 246.5px,#fef3f1 0 247.5px,#7145ff 0 248.5px,#ffffff 0 254.7px,#fff0eb 0 255.7px,#f9eaf1 0 256.7px,#ffccbb 0 257.7px,#ff9375 0 258.7px,#ffc7b5 0 259.7px,#ffccbb 0 260.7px,#ff987b 0 261.7px,#ffbba6 0 262.8px,#ff6a49 0 263.8px,#ffaf96 0 264.8px,#ffc5b3 0 265.8px,#ffcfc1 0 266.8px,#ab84ff 0 267.8px,#f4deeb 0 268.8px,#ffc3b1 0 269.8px,#f7e2ea 0 270.8px,#ff8d76 0 271.8px,#ffd0c1 0 272.8px,#ff9f83 0 273.8px,#ff573a 0 274.8px,#ffc7b4 0 275.8px,#f3e9fd 0 276.8px,#ff9b7e 0 277.8px,#ff1004 0 278.8px,#ff9679 0 279.9px,#fdd2c8 0 280.9px,#ff4124 0 281.9px,#ff4535 0 282.9px,#b996ff 0 283.9px,#ffa488 0 284.9px,#ffd4c5 0 285.9px,#ff7e5e 0 286.9px,#ffa98f 0 287.9px,#ffe1d6 0 288.9px,#ff6d4c 0 289.9px,#ff7d5f 0 290.9px,#ff8e6f 0 291.9px,#ff8061 0 292.9px,#ffdbcf 0 293.9px,#ff7756 0 294.9px,#ff8c6f 0 296.0px,#ff7e6c 0 297.0px,#ffb9a2 0 298.0px,#ff9679 0 299.0px,#ff2b1b 0 300.0px,#ffb8a2 0 301.0px,#ff4333 0 302.0px,#ff7f64 0 303.0px,#c9a9ff 0 304.0px,#ffa88e 0 305.0px,#ffded3 0 306.0px,#edc7db 0 307.0px,#ff1f11 0 308.0px,#ffd7ca 0 309.0px,#ffd0c1 0 310.0px,#ebb4c8 0 311.1px,#fedcd3 0 312.1px,#ff7454 0 313.1px,#e5d5fe 0 314.1px,#ffa78d 0 315.1px,#fefafc 0 316.1px,#9e73ff 0 317.1px,#c4a3ff 0 318.1px,#eed3e9 0 319.1px,#ffa58c 0 320.1px,#ff6d4c 0 321.1px,#ffd8cb 0 322.1px,#ffbfab 0 323.1px,#ff6948 0 324.1px,#ffdccf 0 325.1px,#ffe7df 0 326.1px,#ff7352 0 327.1px,#ffdfd4 0 328.2px,#ff6545 0 329.2px,#ffcdbd 0 330.2px,#ffbca6 0 331.2px,#ffcdbc 0 332.2px,#ff9174 0 333.2px,#ffbba6 0 334.2px,#ff2c1c 0 335.2px,#ffffff 0 341.1px,#c19fff 0 342.1px,#fff9f7 0 343.1px,#fbf0f3 0 344.1px,#f0e6ff 0 345.1px,#e8d3f6 0 346.1px,#ffdbcf 0 347.1px,#e5d3ff 0 348.1px,#fdf4f4 0 349.1px,#efe3ff 0 350.1px,#bd98ff 0 351.1px,#e4d1ff 0 352.1px,#d1b5ff 0 353.1px,#ead5f5 0 354.1px,#ffd5c7 0 355.1px,#e0caff 0 356.1px,#f6d5dd 0 357.1px,#f2e9ff 0 358.1px,#ffdfd4 0 359.1px,#f1e6ff 0 360.1px,#ffbea9 0 361.1px,#efdef7 0 362.1px,#f3e9ff 0 363.1px,#f1e6ff 0 364.1px,#ffe9e1 0 365.1px,#e7d8ff 0 366.1px,#c59ae4 0 367.1px,#f8f2ff 0 368.1px,#ffe7de 0 369.1px,#f7f1ff 0 370.1px,#efdbf3 0 371.1px,#faf4fc 0 372.1px,#fff0eb 0 373.1px,#f5eafb 0 374.1px,#fff5f2 0 375.1px,#ffefe9 0 376.1px,#ddc6ff 0 377.0px,#f0e0f7 0 378.0px,#ead0ed 0 379.0px,#f3e8fb 0 380.0px,#ffe3d8 0 381.0px,#e5d5ff 0 382.0px,#caadff 0 383.0px,#fff9f6 0 384.0px,#d8bfff 0 385.0px,#e7d7ff 0 386.0px,#dcc3f8 0 387.0px,#ffede7 0 388.0px,#faf5ff 0 389.0px,#efd9f0 0 390.0px,#dac3ff 0 391.0px,#fde9e7 0 392.0px,#a176ff 0 393.0px,#a780ff 0 394.0px,#d7abdf 0 395.0px,#d4baff 0 396.0px,#fff0eb 0 397.0px,#dfcaff 0 398.0px,#f2e8ff 0 399.0px,#ecdeff 0 400.0px,#fff8f6 0 401.0px,#f8eef8 0 402.0px,#f9f4ff 0 403.0px,#e8cbec 0 404.0px,#fae1e2 0 405.0px,#ffece5 0 406.0px,#ffd4c5 0 407.0px,#f38f95 0 408.0px,#e3d0ff 0 409.0px,#fdf8fa 0 410.0px,#fce9e7 0 411.0px)"></div><div class="h" style="top:87.57px;height:4.88px;background:linear-gradient(90deg,#ffffff 0 0.0px,#eee1fc 0 1.0px,#ffbca6 0 2.0px,#fef9fa 0 3.0px,#e2d0ff 0 4.0px,#1c0dff 0 5.0px,#c8a8ff 0 6.0px,#ff9f83 0 7.0px,#d1b7ff 0 8.0px,#fdf6f8 0 9.0px,#fbdcd9 0 10.0px,#8a5fff 0 10.9px,#9d72ff 0 11.9px,#d5bfff 0 12.9px,#f4e6f7 0 13.9px,#8e63ff 0 14.9px,#f6eefd 0 15.9px,#eddfff 0 16.9px,#ffc8b6 0 17.9px,#8860ff 0 18.9px,#e2d1ff 0 19.9px,#4630ff 0 20.9px,#9265ff 0 21.9px,#fae5e8 0 22.9px,#ceb1ff 0 23.9px,#ffbca6 0 24.9px,#6139ff 0 25.9px,#dfc9ff 0 26.9px,#ffe7df 0 27.9px,#ff9d80 0 28.9px,#c3a2ff 0 29.9px,#946bff 0 30.9px,#d8beff 0 31.8px,#f3eaff 0 32.8px,#e2cdf8 0 33.8px,#efd0e3 0 34.8px,#ffe0d5 0 35.8px,#dfcaff 0 36.8px,#b088ff 0 37.8px,#ffbaa4 0 38.8px,#ddcaff 0 39.8px,#b294ff 0 40.8px,#ff8160 0 41.8px,#754dff 0 42.8px,#855fff 0 43.8px,#0000ff 0 44.8px,#774dff 0 45.8px,#2f1bff 0 46.8px,#9165ff 0 47.8px,#0e05ff 0 48.8px,#ffb39d 0 49.8px,#956cff 0 50.8px,#ff5d51 0 51.8px,#f8ecf6 0 52.7px,#f8f2ff 0 53.7px,#c8a8ff 0 54.7px,#feefec 0 55.7px,#c09dff 0 56.7px,#ffa087 0 57.7px,#fee6e1 0 58.7px,#a382ff 0 59.7px,#c8acff 0 60.7px,#8e6aff 0 61.7px,#ffb198 0 62.7px,#ffd1c1 0 63.7px,#c6a5ff 0 64.7px,#d2b5ff 0 65.7px,#ece0ff 0 66.7px,#ff9f84 0 67.7px,#eadbff 0 68.7px,#f0e5fd 0 69.7px,#bc98ff 0 70.7px,#bf9dff 0 71.7px,#af89ff 0 72.6px,#ffc1ae 0 73.6px,#b796ff 0 74.6px,#eddcf8 0 75.6px,#ba94ff 0 76.6px,#9f75ff 0 77.6px,#c7a8ff 0 78.6px,#f4ecff 0 79.6px,#ffcebe 0 80.6px,#e0cbff 0 81.6px,#6b4bff 0 82.6px,#875aff 0 83.6px,#d0b4ff 0 84.6px,#613aff 0 85.6px,#f6efff 0 86.6px,#fbf8fe 0 87.6px,#f8f3ff 0 88.6px,#ff8e71 0 89.6px,#f7dde5 0 90.6px,#3c26ff 0 91.6px,#ffe5dc 0 92.6px,#e6cdf2 0 93.5px,#9569ff 0 94.5px,#f9edf4 0 95.5px,#5636ff 0 96.5px,#e0c1ed 0 97.5px,#ff6f53 0 98.5px,#b291ff 0 99.5px,#ff9d81 0 100.5px,#e7d8ff 0 101.5px,#c19eff 0 102.5px,#d1b9ff 0 103.5px,#ffffff 0 109.7px,#d5baff 0 110.7px,#f4ecff 0 111.7px,#fff1ec 0 112.7px,#fcf8fc 0 113.7px,#ffae96 0 114.7px,#fff2ed 0 115.7px,#ffc5b1 0 116.7px,#fcd7d1 0 117.7px,#ffd1c2 0 118.7px,#ff8f70 0 119.7px,#ffc3b0 0 120.7px,#fde9e7 0 121.7px,#ffe0d5 0 122.7px,#ff7a5b 0 123.7px,#ffc9b8 0 124.7px,#fde7e3 0 125.7px,#ffdbcf 0 126.7px,#ffa185 0 127.7px,#ffcfbe 0 128.7px,#ffd1c1 0 129.7px,#fff3ef 0 130.7px,#ffd9cc 0 131.7px,#ff7958 0 132.7px,#ffaf97 0 133.8px,#fcd0c7 0 134.8px,#f6f0ff 0 135.8px,#ffd0c0 0 136.8px,#ff9375 0 137.8px,#f0e4ff 0 138.8px,#dec9ff 0 139.8px,#c9a9ff 0 140.8px,#bf9fff 0 141.8px,#efd4e9 0 142.8px,#ffdfd3 0 143.8px,#ffbda8 0 144.8px,#ffc4b0 0 145.8px,#f9edf6 0 146.8px,#dfc9ff 0 147.8px,#ffb59e 0 148.8px,#ffb29a 0 149.8px,#ffc0ab 0 150.8px,#ffd5c7 0 151.8px,#ffddd1 0 152.8px,#ffad94 0 153.8px,#e3c8f0 0 154.8px,#ffb199 0 155.8px,#ecd5f1 0 156.8px,#ffffff 0 162.6px,#bd9cff 0 163.6px,#fff5f2 0 164.6px,#f2dbec 0 165.6px,#f4e7f8 0 166.6px,#ffded3 0 167.6px,#dbc7ff 0 168.6px,#ab81ff 0 169.5px,#ccacff 0 170.5px,#f3deef 0 171.5px,#e9d9ff 0 172.5px,#ffd6c7 0 173.5px,#e4d2ff 0 174.5px,#ede0ff 0 175.5px,#ff997e 0 176.5px,#ffc7b4 0 177.5px,#ffdbcf 0 178.5px,#ffc1ae 0 179.5px,#ffa88e 0 180.5px,#ffe8df 0 181.4px,#ffc0b0 0 182.4px,#ff6961 0 183.4px,#ff8f70 0 184.4px,#ffe8df 0 185.4px,#ffa389 0 186.4px,#b28aff 0 187.4px,#decaff 0 188.4px,#ffd4c5 0 189.4px,#ffb199 0 190.4px,#d8bfff 0 191.4px,#fffdfc 0 192.4px,#7d50ff 0 193.3px,#774cff 0 194.3px,#ffe3d9 0 195.3px,#feded6 0 196.3px,#ebddff 0 197.3px,#ffa88e 0 198.3px,#ebdeff 0 199.3px,#ffffff 0 205.1px,#f2e2f5 0 206.1px,#d2bcff 0 207.1px,#e9aabf 0 208.1px,#7145ff 0 209.1px,#7551ff 0 210.1px,#d2b8ff 0 211.2px,#e5d6ff 0 212.2px,#a47dff 0 213.2px,#fdcabf 0 214.2px,#dbc4ff 0 215.2px,#b690ff 0 216.2px,#5844ff 0 217.2px,#774eff 0 218.2px,#f1e6ff 0 219.2px,#c5a8ff 0 220.2px,#ddc7ff 0 221.2px,#e1cdff 0 222.3px,#523cff 0 223.3px,#c8a7ff 0 224.3px,#3721ff 0 225.3px,#ffdfd4 0 226.3px,#ffcdbd 0 227.3px,#d6c0ff 0 228.3px,#997eff 0 229.3px,#d6b4ec 0 230.3px,#dec7ff 0 231.3px,#e6c3e6 0 232.4px,#e9daff 0 233.4px,#c9adff 0 234.4px,#c9a9ff 0 235.4px,#dfccff 0 236.4px,#f7e1e9 0 237.4px,#855bff 0 238.4px,#dbc7ff 0 239.4px,#bda7ff 0 240.4px,#c8a7ff 0 241.4px,#faf4fd 0 242.4px,#8359ff 0 243.5px,#8463ff 0 244.5px,#dfc9ff 0 245.5px,#ffb8a1 0 246.5px,#f6e7f2 0 247.5px,#523cff 0 248.5px,#ffffff 0 254.7px,#ffdbcf 0 255.7px,#eee1ff 0 256.7px,#ffbca6 0 257.7px,#ff6f4e 0 258.7px,#f7e1e9 0 259.7px,#ffc6b3 0 260.7px,#ff8768 0 261.7px,#ffb8a1 0 262.8px,#ff4130 0 263.8px,#ffb29c 0 264.8px,#ffc1ac 0 265.8px,#fff2ee 0 266.8px,#9375ff 0 267.8px,#efe3ff 0 268.8px,#ffbda8 0 269.8px,#fcf9ff 0 270.8px,#ff5b50 0 271.8px,#f3c5ce 0 272.8px,#ff9072 0 273.8px,#ff4a37 0 274.8px,#ffb9a2 0 275.8px,#fff4ef 0 276.8px,#ffb7a0 0 277.8px,#ff1f11 0 278.8px,#ff5436 0 279.9px,#fecabc 0 280.9px,#ff2e1d 0 281.9px,#ff5b3a 0 282.9px,#a97fff 0 283.9px,#ff8669 0 284.9px,#ffbda7 0 285.9px,#ff7454 0 286.9px,#ffb69f 0 287.9px,#ffd2c2 0 288.9px,#ff704f 0 289.9px,#ffa287 0 290.9px,#ffa085 0 291.9px,#ff3018 0 292.9px,#ffd6c8 0 293.9px,#ff6f4e 0 294.9px,#ff9b7d 0 296.0px,#ff745c 0 297.0px,#ffd2c3 0 298.0px,#ff896a 0 299.0px,#ff2415 0 300.0px,#ffd3c4 0 301.0px,#ff0000 0 302.0px,#ff876b 0 303.0px,#b68fff 0 304.0px,#ff9b7f 0 305.0px,#ffc4b2 0 306.0px,#ffc9b9 0 307.0px,#ff0000 0 308.0px,#ffa286 0 309.0px,#ffb7a3 0 310.0px,#eeb3c1 0 311.1px,#fcd2ca 0 312.1px,#ff9476 0 313.1px,#e4d1ff 0 314.1px,#ff9d81 0 315.1px,#ffece5 0 316.1px,#a379ff 0 317.1px,#bd98ff 0 318.1px,#eee1ff 0 319.1px,#ffb29a 0 320.1px,#ff6346 0 321.1px,#ffb7a0 0 322.1px,#ff8666 0 323.1px,#ff0401 0 324.1px,#ffd2c3 0 325.1px,#fcd6d0 0 326.1px,#ff4633 0 327.1px,#f7c8ca 0 328.2px,#ff3322 0 329.2px,#ff9b7f 0 330.2px,#ffc2af 0 331.2px,#ffe2d8 0 332.2px,#ff9779 0 333.2px,#ffb7a5 0 334.2px,#ff2314 0 335.2px,#ffffff 0 341.1px,#a57bff 0 342.1px,#ffd7c9 0 343.1px,#fbf0f5 0 344.1px,#d8c2ff 0 345.1px,#caaeff 0 346.1px,#ffddd2 0 347.1px,#efe4ff 0 348.1px,#f9f4ff 0 349.1px,#efdbf3 0 350.1px,#9168ff 0 351.1px,#b28aff 0 352.1px,#c19eff 0 353.1px,#ffe4db 0 354.1px,#ffbba4 0 355.1px,#fbf4fa 0 356.1px,#e4b5d6 0 357.1px,#e9daff 0 358.1px,#fffbf9 0 359.1px,#d2b7ff 0 360.1px,#ffad96 0 361.1px,#f3e9fe 0 362.1px,#ede1ff 0 363.1px,#fbebed 0 364.1px,#ffeee7 0 365.1px,#e6d4ff 0 366.1px,#d7c1fd 0 367.1px,#fff2ee 0 368.1px,#ffbdaa 0 369.1px,#ecdeff 0 370.1px,#e6d5ff 0 371.1px,#f7e1e9 0 372.1px,#ffdcd0 0 373.1px,#cbaeff 0 374.1px,#ffd3c4 0 375.1px,#f1e5fd 0 376.1px,#d0b2ff 0 377.0px,#fcf7fc 0 378.0px,#f1e7ff 0 379.0px,#f5edff 0 380.0px,#fcecec 0 381.0px,#d0a6e5 0 382.0px,#c9a8ff 0 383.0px,#eac6e1 0 384.0px,#e7c7e8 0 385.0px,#f8edf8 0 386.0px,#ddc2f4 0 387.0px,#fff8f6 0 388.0px,#ffd6c8 0 389.0px,#f1ddf1 0 390.0px,#ba94ff 0 391.0px,#f8eaf2 0 392.0px,#734cff 0 393.0px,#ae88ff 0 394.0px,#ceb2ff 0 395.0px,#b395ff 0 396.0px,#ffe6dd 0 397.0px,#efe4ff 0 398.0px,#dfcaff 0 399.0px,#eadbff 0 400.0px,#fce8e9 0 401.0px,#fcf0f1 0 402.0px,#f4ecff 0 403.0px,#fff3ee 0 404.0px,#f6f0ff 0 405.0px,#ffd2c2 0 406.0px,#ffcfbf 0 407.0px,#f9bbb6 0 408.0px,#d4b8ff 0 409.0px,#ede0fd 0 410.0px,#f1e4fa 0 411.0px)"></div><div class="h" style="top:92.42px;height:4.88px;background:linear-gradient(90deg,#ffffff 0 0.0px,#ffede7 0 1.0px,#ffcdbd 0 2.0px,#ffefea 0 3.0px,#ceb0ff 0 4.0px,#0000ff 0 5.0px,#d7c2ff 0 6.0px,#ffae97 0 7.0px,#c1a2ff 0 8.0px,#f9f5fe 0 9.0px,#fef1ed 0 10.0px,#a87dff 0 10.9px,#b68fff 0 11.9px,#c6affe 0 12.9px,#fef8f8 0 13.9px,#ba95ff 0 14.9px,#d4b9f5 0 15.9px,#ddc6ff 0 16.9px,#ffd3c4 0 17.9px,#7b50ff 0 18.9px,#eddefa 0 19.9px,#9970ff 0 20.9px,#9d71ff 0 21.9px,#f5cdd3 0 22.9px,#cfb1ff 0 23.9px,#ffb39b 0 24.9px,#603eff 0 25.9px,#e6d7ff 0 26.9px,#fde2de 0 27.9px,#ff9c80 0 28.9px,#c7a7ff 0 29.9px,#9266ff 0 30.9px,#e0caff 0 31.8px,#e5c4e8 0 32.8px,#ba96ff 0 33.8px,#fbdfde 0 34.8px,#fadedf 0 35.8px,#ede1ff 0 36.8px,#ae85ff 0 37.8px,#ffb59e 0 38.8px,#dcc4ff 0 39.8px,#d4baff 0 40.8px,#ff997c 0 41.8px,#8156ff 0 42.8px,#b892ff 0 43.8px,#301cff 0 44.8px,#8559ff 0 45.8px,#7348ff 0 46.8px,#845cff 0 47.8px,#0c04ff 0 48.8px,#ffbca6 0 49.8px,#9e7aff 0 50.8px,#ff775d 0 51.8px,#dcc4ff 0 52.7px,#f7e0e7 0 53.7px,#ba9bff 0 54.7px,#ffeee7 0 55.7px,#b189ff 0 56.7px,#ff8162 0 57.7px,#ffd9cc 0 58.7px,#7756ff 0 59.7px,#d9c0ff 0 60.7px,#926aff 0 61.7px,#ff9a81 0 62.7px,#f4d8e5 0 63.7px,#bd9eff 0 64.7px,#c2a0ff 0 65.7px,#e3d1ff 0 66.7px,#ff9f83 0 67.7px,#eadbff 0 68.7px,#e6d6ff 0 69.7px,#d6beff 0 70.7px,#d4b9ff 0 71.7px,#8d61ff 0 72.6px,#ffc8b7 0 73.6px,#b892ff 0 74.6px,#e6bcda 0 75.6px,#caafff 0 76.6px,#a077ff 0 77.6px,#c8aaff 0 78.6px,#f4e0f0 0 79.6px,#ffd8ca 0 80.6px,#ebdeff 0 81.6px,#7e55ff 0 82.6px,#9366ff 0 83.6px,#9770ff 0 84.6px,#5f37ff 0 85.6px,#fcf3f6 0 86.6px,#e7d6ff 0 87.6px,#fce6e5 0 88.6px,#ffac94 0 89.6px,#fff8f5 0 90.6px,#321dff 0 91.6px,#f4e5f5 0 92.6px,#e4d0fa 0 93.5px,#764fff 0 94.5px,#f5eaf9 0 95.5px,#3b25ff 0 96.5px,#fcd8d2 0 97.5px,#ff462b 0 98.5px,#aa8bff 0 99.5px,#ffa58b 0 100.5px,#eab3c9 0 101.5px,#d6bdff 0 102.5px,#ac90ff 0 103.5px,#ffffff 0 109.7px,#e7d6ff 0 110.7px,#fdebea 0 111.7px,#fffaf9 0 112.7px,#f9f3fd 0 113.7px,#ffcbba 0 114.7px,#fbf8ff 0 115.7px,#ffc1ae 0 116.7px,#ffece5 0 117.7px,#fffaf8 0 118.7px,#ff7150 0 119.7px,#ff987b 0 120.7px,#ffc3af 0 121.7px,#ffded2 0 122.7px,#ff7756 0 123.7px,#ffb69f 0 124.7px,#f3e2f3 0 125.7px,#ffded2 0 126.7px,#ffd1c2 0 127.7px,#ffcdbd 0 128.7px,#ffc2af 0 129.7px,#ffeee8 0 130.7px,#fff8f6 0 131.7px,#ff8869 0 132.7px,#ffcab8 0 133.8px,#ffede7 0 134.8px,#f4ecff 0 135.8px,#ffc3af 0 136.8px,#ff7c5c 0 137.8px,#ede1ff 0 138.8px,#dfcaff 0 139.8px,#c4a2ff 0 140.8px,#9e75ff 0 141.8px,#fff5f1 0 142.8px,#ffe2d8 0 143.8px,#ff886a 0 144.8px,#ffc1ad 0 145.8px,#f7e6ef 0 146.8px,#e0caff 0 147.8px,#ffc4b1 0 148.8px,#ff9b7f 0 149.8px,#ffddd1 0 150.8px,#ffd0c0 0 151.8px,#fff8f6 0 152.8px,#ff9074 0 153.8px,#d7c0ff 0 154.8px,#ffb29a 0 155.8px,#fbf4f9 0 156.8px,#ffffff 0 162.6px,#774fff 0 163.6px,#fff8f5 0 164.6px,#f9e9f0 0 165.6px,#ffe8e0 0 166.6px,#ffd6c8 0 167.6px,#d6baf5 0 168.6px,#bd99ff 0 169.5px,#ccaeff 0 170.5px,#f0d9ed 0 171.5px,#fceff0 0 172.5px,#ffe0d6 0 173.5px,#dfc9ff 0 174.5px,#e9d6f8 0 175.5px,#ffb7a2 0 176.5px,#ffcdbc 0 177.5px,#ffcfbe 0 178.5px,#ffc1ac 0 179.5px,#ffbfaa 0 180.5px,#ffcbb9 0 181.4px,#ffbfaa 0 182.4px,#ff7355 0 183.4px,#ff9e82 0 184.4px,#ffe1d6 0 185.4px,#ffad93 0 186.4px,#d8bfff 0 187.4px,#f4e5f4 0 188.4px,#ffcbbb 0 189.4px,#ffc3af 0 190.4px,#dcc4ff 0 191.4px,#fed4c8 0 192.4px,#371aff 0 193.3px,#8e65ff 0 194.3px,#fff5f3 0 195.3px,#f9e9ee 0 196.3px,#e1cdff 0 197.3px,#ffab92 0 198.3px,#e3d1ff 0 199.3px,#ffffff 0 205.1px,#dec8ff 0 206.1px,#dac1ff 0 207.1px,#fceeee 0 208.1px,#c5a4ff 0 209.1px,#bc97ff 0 210.1px,#ecd8f6 0 211.2px,#efe3ff 0 212.2px,#d8bfff 0 213.2px,#f6d5dc 0 214.2px,#e4d2ff 0 215.2px,#b38bff 0 216.2px,#d2b6ff 0 217.2px,#b189ff 0 218.2px,#fcf9ff 0 219.2px,#ebdcff 0 220.2px,#f3eaff 0 221.2px,#e6d4ff 0 222.3px,#b790ff 0 223.3px,#e5d4ff 0 224.3px,#d4baff 0 225.3px,#f2e3f6 0 226.3px,#ffe0d5 0 227.3px,#f5edff 0 228.3px,#c3a0ff 0 229.3px,#e8d5f8 0 230.3px,#fdfbff 0 231.3px,#e9d9ff 0 232.4px,#ead1f0 0 233.4px,#d8bfff 0 234.4px,#f9f4ff 0 235.4px,#fbedf1 0 236.4px,#fdeceb 0 237.4px,#d2b7ff 0 238.4px,#ddc7ff 0 239.4px,#ebddfd 0 240.4px,#e4d3ff 0 241.4px,#e8d8ff 0 242.4px,#d2b7ff 0 243.5px,#c7a7ff 0 244.5px,#e4d3ff 0 245.5px,#ffe1d7 0 246.5px,#f4eafc 0 247.5px,#8f64ff 0 248.5px,#ffffff 0 254.7px,#ffdccf 0 255.7px,#f7e1e9 0 256.7px,#ffae95 0 257.7px,#ff9476 0 258.7px,#ffd1c2 0 259.7px,#ffc2ad 0 260.7px,#ff9577 0 261.7px,#ffc6b3 0 262.8px,#ff5e43 0 263.8px,#ffaf97 0 264.8px,#ffdace 0 265.8px,#ffe3d9 0 266.8px,#bc97ff 0 267.8px,#f9e9ee 0 268.8px,#ffb29c 0 269.8px,#ffe6dd 0 270.8px,#ff7159 0 271.8px,#ffcab9 0 272.8px,#ffae96 0 273.8px,#ff7354 0 274.8px,#ffc7b4 0 275.8px,#fff2ed 0 276.8px,#ffb097 0 277.8px,#ff543a 0 278.8px,#ff9172 0 279.9px,#ffe7de 0 280.9px,#ff3c21 0 281.9px,#ff6948 0 282.9px,#a57aff 0 283.9px,#ff9779 0 284.9px,#ffb7a0 0 285.9px,#ff583a 0 286.9px,#ffbaa4 0 287.9px,#ffdfd4 0 288.9px,#ff8d6e 0 289.9px,#ffb29e 0 290.9px,#ffad93 0 291.9px,#ff6e4e 0 292.9px,#ffb29b 0 293.9px,#ff5434 0 294.9px,#ff9275 0 296.0px,#ff8263 0 297.0px,#ffd3c5 0 298.0px,#ffb7a0 0 299.0px,#ff2f17 0 300.0px,#ffb7a1 0 301.0px,#ff4026 0 302.0px,#ff866a 0 303.0px,#d1b4ff 0 304.0px,#ffc2ae 0 305.0px,#ffd4c6 0 306.0px,#f6d6de 0 307.0px,#ff170b 0 308.0px,#ffbaa5 0 309.0px,#ffbdaa 0 310.0px,#efafbb 0 311.1px,#ffbeaa 0 312.1px,#ffa78c 0 313.1px,#e5d3ff 0 314.1px,#ff7f5f 0 315.1px,#fcfafe 0 316.1px,#a077ff 0 317.1px,#c4a4ff 0 318.1px,#eadaff 0 319.1px,#ffa68b 0 320.1px,#ffab93 0 321.1px,#ffbaa5 0 322.1px,#ff977a 0 323.1px,#ff4629 0 324.1px,#f5cbd2 0 325.1px,#ffe5dd 0 326.1px,#ff5c3d 0 327.1px,#ffcbba 0 328.2px,#ff1d0f 0 329.2px,#ff9476 0 330.2px,#ffd6c9 0 331.2px,#ffbaa4 0 332.2px,#ffbaa5 0 333.2px,#ffa791 0 334.2px,#ff4e31 0 335.2px,#ffffff 0 341.1px,#dcc5ff 0 342.1px,#f7ebf6 0 343.1px,#f3e9ff 0 344.1px,#f0e4ff 0 345.1px,#fceced 0 346.1px,#ebddff 0 347.1px,#f9f3fd 0 348.1px,#d6bdff 0 349.1px,#ead5f6 0 350.1px,#ccaeff 0 351.1px,#e8d8ff 0 352.1px,#dec9ff 0 353.1px,#f4e6f7 0 354.1px,#ffc2ad 0 355.1px,#fefbfc 0 356.1px,#fad8d8 0 357.1px,#e6d5ff 0 358.1px,#ffe3d8 0 359.1px,#e1c8f4 0 360.1px,#ffcbba 0 361.1px,#f6efff 0 362.1px,#f6f0ff 0 363.1px,#f5e8f7 0 364.1px,#f3eaff 0 365.1px,#f1e7ff 0 366.1px,#d1aeec 0 367.1px,#f9e4e9 0 368.1px,#fef9f8 0 369.1px,#fff7f5 0 370.1px,#e2cfff 0 371.1px,#f5edff 0 372.1px,#ffe7de 0 373.1px,#dfc9ff 0 374.1px,#faeff5 0 375.1px,#fdfcff 0 376.1px,#e2cdff 0 377.0px,#f1e6ff 0 378.0px,#e8cef0 0 379.0px,#ddc6ff 0 380.0px,#faf0f8 0 381.0px,#f2e9ff 0 382.0px,#dcc5ff 0 383.0px,#f8bfbc 0 384.0px,#e4cff9 0 385.0px,#dbb0df 0 386.0px,#e8d7ff 0 387.0px,#f4e3f1 0 388.0px,#ffede6 0 389.0px,#f9f2fd 0 390.0px,#e0cbff 0 391.0px,#ffe8e0 0 392.0px,#8663ff 0 393.0px,#af89ff 0 394.0px,#e7d3f7 0 395.0px,#e4d2ff 0 396.0px,#ffd5c6 0 397.0px,#d9c1ff 0 398.0px,#e7cff3 0 399.0px,#f7ebf8 0 400.0px,#ffe7de 0 401.0px,#ede0ff 0 402.0px,#fff1ec 0 403.0px,#ffd8cb 0 404.0px,#f6d3d8 0 405.0px,#ffebe4 0 406.0px,#ffccbb 0 407.0px,#fbc2ba 0 408.0px,#dfc9ff 0 409.0px,#f2dff1 0 410.0px,#f7e4ed 0 411.0px)"></div><div class="h" style="top:97.28px;height:4.88px;background:linear-gradient(90deg,#ffffff 0 0.0px,#fcf6f9 0 1.0px,#ffac97 0 2.0px,#ffe8df 0 3.0px,#ceb1ff 0 4.0px,#1408ff 0 5.0px,#e1ceff 0 6.0px,#ff9e82 0 7.0px,#bfa0ff 0 8.0px,#faf6fe 0 9.0px,#ffddd1 0 10.0px,#9a6eff 0 10.9px,#8e64ff 0 11.9px,#cfb8ff 0 12.9px,#f5eeff 0 13.9px,#9a79ff 0 14.9px,#debfee 0 15.9px,#dec9ff 0 16.9px,#ffa387 0 17.9px,#6442ff 0 18.9px,#efe0fb 0 19.9px,#a279ff 0 20.9px,#9f75ff 0 21.9px,#f4d3de 0 22.9px,#bc99ff 0 23.9px,#ff9c7f 0 24.9px,#4731ff 0 25.9px,#f7f1ff 0 26.9px,#fff6f3 0 27.9px,#ff8161 0 28.9px,#a077ff 0 29.9px,#8c60ff 0 30.9px,#bd98ff 0 31.8px,#efd5eb 0 32.8px,#cbabff 0 33.8px,#fce6e5 0 34.8px,#fff4f0 0 35.8px,#e2d1ff 0 36.8px,#bb95ff 0 37.8px,#ffded3 0 38.8px,#efe4ff 0 39.8px,#8e71ff 0 40.8px,#ff8464 0 41.8px,#8457ff 0 42.8px,#9971ff 0 43.8px,#301cff 0 44.8px,#8255ff 0 45.8px,#835aff 0 46.8px,#6745ff 0 47.8px,#1409ff 0 48.8px,#ffa18a 0 49.8px,#be9bff 0 50.8px,#ff4737 0 51.8px,#e1ccff 0 52.7px,#fcd6d0 0 53.7px,#bf9fff 0 54.7px,#ede0ff 0 55.7px,#b48dff 0 56.7px,#ff8768 0 57.7px,#f6efff 0 58.7px,#8161ff 0 59.7px,#ddc8ff 0 60.7px,#7f5cff 0 61.7px,#ff7158 0 62.7px,#ffe6de 0 63.7px,#c3a8ff 0 64.7px,#c6a5ff 0 65.7px,#dabef4 0 66.7px,#ff9c7f 0 67.7px,#ffd6c8 0 68.7px,#f4e9fa 0 69.7px,#ba94ff 0 70.7px,#d7beff 0 71.7px,#7048ff 0 72.6px,#ffa58a 0 73.6px,#966dff 0 74.6px,#f0e4fc 0 75.6px,#ccaeff 0 76.6px,#aa85ff 0 77.6px,#9d71ff 0 78.6px,#e7ccf0 0 79.6px,#ffcebd 0 80.6px,#faf2f9 0 81.6px,#7656ff 0 82.6px,#643bff 0 83.6px,#b48dff 0 84.6px,#422cff 0 85.6px,#f4e8fa 0 86.6px,#ebdbfa 0 87.6px,#ffeee8 0 88.6px,#ffb49d 0 89.6px,#ffddd1 0 90.6px,#3f28ff 0 91.6px,#ffeee8 0 92.6px,#eddaf7 0 93.5px,#3b1dff 0 94.5px,#d7beff 0 95.5px,#190bff 0 96.5px,#e9b1c8 0 97.5px,#ff7f5f 0 98.5px,#6f63ff 0 99.5px,#ffb8a0 0 100.5px,#e2b9df 0 101.5px,#caaaff 0 102.5px,#c2a2ff 0 103.5px,#ffffff 0 109.7px,#d5baff 0 110.7px,#fad8d6 0 111.7px,#ffb59d 0 112.7px,#fcf4f7 0 113.7px,#ffe6dd 0 114.7px,#f9e8ef 0 115.7px,#ffe8e0 0 116.7px,#ffebe3 0 117.7px,#ffe3d9 0 118.7px,#ff6b4d 0 119.7px,#ffc6b3 0 120.7px,#ffd1c1 0 121.7px,#ffc4b0 0 122.7px,#ff8161 0 123.7px,#ffb097 0 124.7px,#f4ebfe 0 125.7px,#f2d8e9 0 126.7px,#ffc1ad 0 127.7px,#ffaf96 0 128.7px,#ffc2ae 0 129.7px,#fff0ea 0 130.7px,#ffcfc1 0 131.7px,#ff6e4f 0 132.7px,#ff987a 0 133.8px,#fcd9d4 0 134.8px,#edddfb 0 135.8px,#ffc8b5 0 136.8px,#ff9376 0 137.8px,#f0e5ff 0 138.8px,#eccde5 0 139.8px,#c1a1ff 0 140.8px,#b68fff 0 141.8px,#fffcfc 0 142.8px,#ffd4c6 0 143.8px,#ffc9b7 0 144.8px,#ffd0c1 0 145.8px,#f1e7ff 0 146.8px,#e1ccff 0 147.8px,#ffd9cb 0 148.8px,#ffa387 0 149.8px,#ffdfd4 0 150.8px,#ffcdbc 0 151.8px,#ffded3 0 152.8px,#ffa489 0 153.8px,#d5baff 0 154.8px,#ffc8b6 0 155.8px,#ffeae2 0 156.8px,#ffffff 0 162.6px,#ad8bff 0 163.6px,#ffc8b6 0 164.6px,#f2deef 0 165.6px,#f4ecff 0 166.6px,#fff0ea 0 167.6px,#e0c0eb 0 168.6px,#b68fff 0 169.5px,#cfb1ff 0 170.5px,#f8f2ff 0 171.5px,#fde2dc 0 172.5px,#fff7f4 0 173.5px,#d3b9ff 0 174.5px,#f8e3e9 0 175.5px,#ff896a 0 176.5px,#ffbfa9 0 177.5px,#f3ced9 0 178.5px,#ffb59d 0 179.5px,#ff8e70 0 180.5px,#ffdccf 0 181.4px,#ffcfc0 0 182.4px,#ff6f69 0 183.4px,#ff7655 0 184.4px,#fff4f0 0 185.4px,#ff8f74 0 186.4px,#d7beff 0 187.4px,#f4ecff 0 188.4px,#ffcab9 0 189.4px,#ffb49c 0 190.4px,#e0cbff 0 191.4px,#fef2f1 0 192.4px,#4f39ff 0 193.3px,#8a5dff 0 194.3px,#fcf3f5 0 195.3px,#f1d7ea 0 196.3px,#e6d6ff 0 197.3px,#ff9981 0 198.3px,#f7eaf6 0 199.3px,#ffffff 0 205.1px,#ffe9e2 0 206.1px,#e4d0fa 0 207.1px,#fdf3f3 0 208.1px,#e1ccff 0 209.1px,#a880ff 0 210.1px,#dbc3ff 0 211.2px,#fefdfe 0 212.2px,#d7beff 0 213.2px,#f8ced0 0 214.2px,#eadbff 0 215.2px,#d6bfff 0 216.2px,#b993ff 0 217.2px,#ba94ff 0 218.2px,#eadcff 0 219.2px,#f0e4ff 0 220.2px,#e6d4ff 0 221.2px,#efe3ff 0 222.3px,#d0b5ff 0 223.3px,#d9c1ff 0 224.3px,#af89ff 0 225.3px,#f8f2ff 0 226.3px,#ffddd1 0 227.3px,#f0ddf4 0 228.3px,#dac3ff 0 229.3px,#e0c1ee 0 230.3px,#e7c4e3 0 231.3px,#f9e6ec 0 232.4px,#e0b5dd 0 233.4px,#d4baff 0 234.4px,#ebddff 0 235.4px,#e8d8ff 0 236.4px,#f4d4de 0 237.4px,#bb95ff 0 238.4px,#ecdfff 0 239.4px,#d5bdff 0 240.4px,#cdafff 0 241.4px,#f5edff 0 242.4px,#c8a7ff 0 243.5px,#c09dff 0 244.5px,#e4d1ff 0 245.5px,#ffebe4 0 246.5px,#fdf3f3 0 247.5px,#ba98ff 0 248.5px,#ffffff 0 254.7px,#fff5f2 0 255.7px,#fdfafe 0 256.7px,#ffcab9 0 257.7px,#ff9577 0 258.7px,#ffe0d4 0 259.7px,#ffccba 0 260.7px,#ffb29a 0 261.7px,#ffc0ab 0 262.8px,#ff4e37 0 263.8px,#f9c4c1 0 264.8px,#ffd4c5 0 265.8px,#f2d9e8 0 266.8px,#c7abff 0 267.8px,#f8eef9 0 268.8px,#ffc6b3 0 269.8px,#ffdacd 0 270.8px,#ff9e85 0 271.8px,#ffcab8 0 272.8px,#ffa68b 0 273.8px,#ff8161 0 274.8px,#ffc7b4 0 275.8px,#f1e7ff 0 276.8px,#ffc5b2 0 277.8px,#ff7151 0 278.8px,#ff9172 0 279.9px,#ffe3db 0 280.9px,#ff603f 0 281.9px,#ff8262 0 282.9px,#9468ff 0 283.9px,#ffab92 0 284.9px,#fbc7bf 0 285.9px,#ff9e81 0 286.9px,#ffc4b0 0 287.9px,#ffe3d9 0 288.9px,#ff9a7c 0 289.9px,#ffbca8 0 290.9px,#ff9f83 0 291.9px,#ff7858 0 292.9px,#ffede7 0 293.9px,#ffae94 0 294.9px,#ff957d 0 296.0px,#ffa186 0 297.0px,#ffb9a3 0 298.0px,#ffc4b1 0 299.0px,#ff7150 0 300.0px,#ffb9a3 0 301.0px,#ff3c23 0 302.0px,#ff967b 0 303.0px,#bf9bff 0 304.0px,#ffcbb9 0 305.0px,#ffd0c2 0 306.0px,#ffe8e0 0 307.0px,#ff6444 0 308.0px,#ffdbce 0 309.0px,#ffcab9 0 310.0px,#e7c0de 0 311.1px,#ffd4c6 0 312.1px,#ffb49d 0 313.1px,#eee2ff 0 314.1px,#ffa388 0 315.1px,#fcf8fd 0 316.1px,#b892ff 0 317.1px,#d9c1ff 0 318.1px,#ffdccf 0 319.1px,#ffaf95 0 320.1px,#ff9c7f 0 321.1px,#ff987f 0 322.1px,#ff9f82 0 323.1px,#ff6b4c 0 324.1px,#ffd1c1 0 325.1px,#fcfaff 0 326.1px,#ff8e6f 0 327.1px,#ffe9e1 0 328.2px,#ff5244 0 329.2px,#ffcfbe 0 330.2px,#ffc5b3 0 331.2px,#fdf4f6 0 332.2px,#ff9f82 0 333.2px,#fad2d0 0 334.2px,#ff603f 0 335.2px,#ffffff 0 341.1px,#c09eff 0 342.1px,#fbf3f8 0 343.1px,#f3eaff 0 344.1px,#f1e7ff 0 345.1px,#d8c0ff 0 346.1px,#f2ccd7 0 347.1px,#f0e5ff 0 348.1px,#eadbff 0 349.1px,#eadcff 0 350.1px,#bf9cff 0 351.1px,#eee2ff 0 352.1px,#e0cdfc 0 353.1px,#fcf9ff 0 354.1px,#ffe7de 0 355.1px,#f5e0ed 0 356.1px,#ead0ef 0 357.1px,#e8d7fc 0 358.1px,#fff0ea 0 359.1px,#c8a8ff 0 360.1px,#ffcbb9 0 361.1px,#e3d0ff 0 362.1px,#eee1ff 0 363.1px,#efd3e9 0 364.1px,#ffd9cb 0 365.1px,#e9d9ff 0 366.1px,#dbc6ff 0 367.1px,#f9ecf4 0 368.1px,#ffd3c5 0 369.1px,#ebd2ef 0 370.1px,#f1e7ff 0 371.1px,#f9f4ff 0 372.1px,#f8dde2 0 373.1px,#d6bdff 0 374.1px,#eee1ff 0 375.1px,#f6e3ef 0 376.1px,#e7d5ff 0 377.0px,#fff7f5 0 378.0px,#ede0ff 0 379.0px,#e2ceff 0 380.0px,#faf4fb 0 381.0px,#f1e4fa 0 382.0px,#e9d9fc 0 383.0px,#fef2f0 0 384.0px,#f2e4f8 0 385.0px,#ecdfff 0 386.0px,#ebd9fa 0 387.0px,#fdece9 0 388.0px,#fbe2e2 0 389.0px,#fff8f5 0 390.0px,#e1cdff 0 391.0px,#ffe9e1 0 392.0px,#986dff 0 393.0px,#aa81ff 0 394.0px,#f6ecfb 0 395.0px,#dfc9ff 0 396.0px,#fbebef 0 397.0px,#dec8ff 0 398.0px,#ebdcfb 0 399.0px,#ecddff 0 400.0px,#fed6cb 0 401.0px,#f0e5ff 0 402.0px,#ffe5dc 0 403.0px,#ffe4db 0 404.0px,#fff3ef 0 405.0px,#f2c9d5 0 406.0px,#ffcbb9 0 407.0px,#fbcac3 0 408.0px,#e7d6ff 0 409.0px,#ebdafa 0 410.0px,#f7e5ef 0 411.0px)"></div><div class="h" style="top:102.13px;height:4.88px;background:linear-gradient(90deg,#ffffff 0 0.0px,#fff4f0 0 1.0px,#ffa78e 0 2.0px,#ffdace 0 3.0px,#b18fff 0 4.0px,#0000ff 0 5.0px,#bd98ff 0 6.0px,#ff7d5c 0 7.0px,#af89ff 0 8.0px,#f4ecff 0 9.0px,#ffcebf 0 10.0px,#5c34ff 0 10.9px,#4324ff 0 11.9px,#a587ff 0 12.9px,#fddfda 0 13.9px,#693fff 0 14.9px,#ebc6df 0 15.9px,#e9d9ff 0 16.9px,#ffb7a0 0 17.9px,#523cff 0 18.9px,#f6f0ff 0 19.9px,#2715ff 0 20.9px,#3e28ff 0 21.9px,#f6dae2 0 22.9px,#a77eff 0 23.9px,#ff7858 0 24.9px,#0000ff 0 25.9px,#e6d4ff 0 26.9px,#f0e3fa 0 27.9px,#ff694c 0 28.9px,#9c74ff 0 29.9px,#5844ff 0 30.9px,#cfb1ff 0 31.8px,#dfc4f3 0 32.8px,#bd9dff 0 33.8px,#f9eef6 0 34.8px,#f5c0c5 0 35.8px,#caaaff 0 36.8px,#a27cff 0 37.8px,#ffa186 0 38.8px,#d5baff 0 39.8px,#9c74ff 0 40.8px,#ff2616 0 41.8px,#341fff 0 42.8px,#9266ff 0 43.8px,#0000ff 0 44.8px,#4725ff 0 45.8px,#0000ff 0 46.8px,#1b0dff 0 47.8px,#0000ff 0 48.8px,#ff8f81 0 49.8px,#9683ff 0 50.8px,#ff6157 0 51.8px,#e6d4ff 0 52.7px,#ffd2c3 0 53.7px,#a57cff 0 54.7px,#f0ddf3 0 55.7px,#a277ff 0 56.7px,#ff574a 0 57.7px,#ffeae3 0 58.7px,#4730ff 0 59.7px,#d7beff 0 60.7px,#4d37ff 0 61.7px,#ff6f52 0 62.7px,#ffdfd4 0 63.7px,#b58fff 0 64.7px,#ac83ff 0 65.7px,#caaaff 0 66.7px,#ff9175 0 67.7px,#fbf7ff 0 68.7px,#d3bcff 0 69.7px,#9d71ff 0 70.7px,#ab81ff 0 71.7px,#5b34ff 0 72.6px,#ff9f84 0 73.6px,#5e42ff 0 74.6px,#e4cbf3 0 75.6px,#9f75ff 0 76.6px,#9d72ff 0 77.6px,#a982ff 0 78.6px,#ebddff 0 79.6px,#ffe0d5 0 80.6px,#edd3ec 0 81.6px,#7452ff 0 82.6px,#2b18ff 0 83.6px,#815eff 0 84.6px,#0000ff 0 85.6px,#ffebe4 0 86.6px,#c9a9ff 0 87.6px,#f7edfb 0 88.6px,#ff6a4f 0 89.6px,#ffd9cc 0 90.6px,#0000ff 0 91.6px,#f3e1f2 0 92.6px,#d9b4e9 0 93.5px,#2312ff 0 94.5px,#efe4ff 0 95.5px,#1308ff 0 96.5px,#e5b0ce 0 97.5px,#ff3020 0 98.5px,#6352ff 0 99.5px,#ffb097 0 100.5px,#dfb0d9 0 101.5px,#af89ff 0 102.5px,#a88cff 0 103.5px,#ffffff 0 109.7px,#bd98ff 0 110.7px,#fcc0b6 0 111.7px,#ffc2ae 0 112.7px,#f8ecf7 0 113.7px,#ff704f 0 114.7px,#ffdbce 0 115.7px,#ff7d5c 0 116.7px,#ffb8a1 0 117.7px,#ffd5c6 0 118.7px,#ff0000 0 119.7px,#ff4434 0 120.7px,#ffa085 0 121.7px,#ffa288 0 122.7px,#ff0000 0 123.7px,#ff6950 0 124.7px,#f6c3c4 0 125.7px,#ff7c62 0 126.7px,#ff7f60 0 127.7px,#ff4228 0 128.7px,#ff745f 0 129.7px,#fdeae6 0 130.7px,#ffaf96 0 131.7px,#ff0000 0 132.7px,#ff2818 0 133.8px,#feb1a3 0 134.8px,#e9d5f6 0 135.8px,#ff5e3d 0 136.8px,#ff0000 0 137.8px,#d1b5ff 0 138.8px,#af92ff 0 139.8px,#5945ff 0 140.8px,#0000ff 0 141.8px,#ffe9e1 0 142.8px,#ff8c74 0 143.8px,#ff3221 0 144.8px,#ff896c 0 145.8px,#e4d2ff 0 146.8px,#d2b5ff 0 147.8px,#ff6e4d 0 148.8px,#ff0000 0 149.8px,#ff4d2e 0 150.8px,#ffa68e 0 151.8px,#ffc7b5 0 152.8px,#ff0000 0 153.8px,#734dff 0 154.8px,#ff5346 0 155.8px,#f4dcea 0 156.8px,#ffffff 0 162.6px,#341fff 0 163.6px,#ffb49d 0 164.6px,#e0ceff 0 165.6px,#fcddd8 0 166.6px,#ff8f74 0 167.6px,#8072ec 0 168.6px,#2d19ff 0 169.5px,#5c34ff 0 170.5px,#e6d3fa 0 171.5px,#ffddd1 0 172.5px,#ffb59f 0 173.5px,#ad85ff 0 174.5px,#f3d3e0 0 175.5px,#ff2516 0 176.5px,#ff7251 0 177.5px,#ff9375 0 178.5px,#ff190d 0 179.5px,#ff5234 0 180.5px,#ff8d6e 0 181.4px,#ff957d 0 182.4px,#ff2f1e 0 183.4px,#ff0000 0 184.4px,#ffac93 0 185.4px,#ff0000 0 186.4px,#6f63ff 0 187.4px,#cbadff 0 188.4px,#ff716c 0 189.4px,#ff8c6d 0 190.4px,#a278ff 0 191.4px,#f9dbdc 0 192.4px,#0000ff 0 194.3px,#fbdbd7 0 195.3px,#f4d9e5 0 196.3px,#d5bdff 0 197.3px,#ff674e 0 198.3px,#c09dff 0 199.3px,#ffffff 0 205.1px,#eccfe8 0 206.1px,#b695ff 0 207.1px,#feddd5 0 208.1px,#885bff 0 209.1px,#633bff 0 210.1px,#d5bdff 0 211.2px,#e6ccf0 0 212.2px,#a67dff 0 213.2px,#ffd3c5 0 214.2px,#c19fff 0 215.2px,#764eff 0 216.2px,#663cff 0 217.2px,#4b28ff 0 218.2px,#dcc5ff 0 219.2px,#dcc7ff 0 220.2px,#ddc7ff 0 221.2px,#c9a9ff 0 222.3px,#503aff 0 223.3px,#cdb4ff 0 224.3px,#0000ff 0 225.3px,#f7e0e8 0 226.3px,#fcd3cc 0 227.3px,#9b80ff 0 228.3px,#966fff 0 229.3px,#c7a0e8 0 230.3px,#edd8f3 0 231.3px,#e7caed 0 232.4px,#dec7ff 0 233.4px,#b089ff 0 234.4px,#c8a9ff 0 235.4px,#c1a2ff 0 236.4px,#fae2e4 0 237.4px,#9a6eff 0 238.4px,#c8acff 0 239.4px,#ad94ff 0 240.4px,#c6a5ff 0 241.4px,#dfcbfc 0 242.4px,#966aff 0 243.5px,#695bff 0 244.5px,#caaaff 0 245.5px,#ffd0c0 0 246.5px,#ffe1d6 0 247.5px,#0000ff 0 248.5px,#ffffff 0 254.7px,#ffc7b5 0 255.7px,#e7d5ff 0 256.7px,#ff8668 0 257.7px,#ff2012 0 258.7px,#ff9f82 0 259.7px,#ff8565 0 260.7px,#ff1b0e 0 261.7px,#ff7859 0 262.8px,#ff1208 0 263.8px,#ff7d62 0 264.8px,#ffa087 0 265.8px,#fbd8d4 0 266.8px,#5742ff 0 267.8px,#e5cbf2 0 268.8px,#ffab92 0 269.8px,#ffeae2 0 270.8px,#ff5c51 0 271.8px,#ffa387 0 272.8px,#ff4225 0 273.8px,#ff2516 0 274.8px,#ff8060 0 275.8px,#f9ecf3 0 276.8px,#ff7050 0 277.8px,#ff0000 0 278.8px,#ff0e05 0 279.9px,#ffa38f 0 280.9px,#ff0000 0 282.9px,#2c19ff 0 283.9px,#ff3928 0 284.9px,#ffab94 0 285.9px,#ff0000 0 286.9px,#ff6544 0 287.9px,#ffa186 0 288.9px,#ff2012 0 289.9px,#ff4838 0 290.9px,#ff6544 0 291.9px,#ff0000 0 292.9px,#ffa68c 0 293.9px,#ff0000 0 294.9px,#ff3120 0 296.0px,#ff5548 0 297.0px,#ff8769 0 298.0px,#ff2e17 0 299.0px,#ff0000 0 300.0px,#ffa890 0 301.0px,#ff0000 0 302.0px,#ff3928 0 303.0px,#9f75ff 0 304.0px,#ff8467 0 305.0px,#ff9c7f 0 306.0px,#ea91a3 0 307.0px,#ff0000 0 308.0px,#ff896a 0 309.0px,#fa9e97 0 310.0px,#f5acad 0 311.1px,#ff8d6f 0 312.1px,#ff6140 0 313.1px,#e1cdff 0 314.1px,#ff5031 0 315.1px,#fbe4e3 0 316.1px,#442dff 0 317.1px,#9a71ff 0 318.1px,#f0d8ec 0 319.1px,#ff8768 0 320.1px,#ff0000 0 321.1px,#ffa68d 0 322.1px,#ff482c 0 323.1px,#ff0000 0 324.1px,#ffa185 0 325.1px,#ffebe3 0 326.1px,#ff0000 0 327.1px,#ffcfbf 0 328.2px,#ff0000 0 329.2px,#ff8064 0 330.2px,#ff987a 0 331.2px,#ff9071 0 332.2px,#ff5c3f 0 333.2px,#ff5c50 0 334.2px,#ff0000 0 335.2px,#ffffff 0 341.1px,#301cff 0 342.1px,#ffe1d6 0 343.1px,#e7d6ff 0 344.1px,#cfb2ff 0 345.1px,#b396f4 0 346.1px,#ffc7b5 0 347.1px,#d6beff 0 348.1px,#9a7dff 0 349.1px,#d5b9ff 0 350.1px,#0000ff 0 351.1px,#a479ff 0 352.1px,#6b48ff 0 353.1px,#ffdfd4 0 354.1px,#ff8769 0 355.1px,#d1b6ff 0 356.1px,#f3bcc2 0 357.1px,#d6b5ef 0 358.1px,#ffe8df 0 359.1px,#a68aff 0 360.1px,#ff896b 0 361.1px,#d9c5ff 0 362.1px,#dac1ff 0 363.1px,#f9edf5 0 364.1px,#f5d4dd 0 365.1px,#a289ff 0 366.1px,#807efd 0 367.1px,#f9f5ff 0 368.1px,#f49da0 0 369.1px,#d7c2ff 0 370.1px,#ceb1ff 0 371.1px,#fae6eb 0 372.1px,#ffd4c6 0 373.1px,#8e71ff 0 374.1px,#f3e7fa 0 375.1px,#fcf9ff 0 376.1px,#bd9aff 0 377.0px,#e0cdff 0 378.0px,#dfa5c9 0 379.0px,#f7f1ff 0 380.0px,#ffdbce 0 381.0px,#9d7de9 0 382.0px,#b791ff 0 383.0px,#eed0e7 0 384.0px,#c9aef8 0 385.0px,#e5d4ff 0 386.0px,#b498f5 0 387.0px,#f9d3d3 0 388.0px,#ffcfbf 0 389.0px,#e3b5d8 0 390.0px,#8c5fff 0 391.0px,#f2cbd8 0 392.0px,#1408ff 0 393.0px,#0000ff 0 394.0px,#9d8cff 0 395.0px,#a086ff 0 396.0px,#fff0eb 0 397.0px,#d9c0ff 0 398.0px,#cdb7ff 0 399.0px,#e9daff 0 400.0px,#ffe2d8 0 401.0px,#ecddff 0 402.0px,#ffc7b5 0 403.0px,#fffcfc 0 404.0px,#ffc1af 0 405.0px,#ffcebd 0 406.0px,#ff8262 0 407.0px,#e36d8d 0 408.0px,#cdaeff 0 409.0px,#f0e0f7 0 410.0px,#dda5ce 0 411.0px)"></div><div class="h" style="top:106.99px;height:4.88px;background:linear-gradient(90deg,#ffffff 0 0.0px,#fff1ec 0 1.0px,#ffb198 0 2.0px,#fffefe 0 3.0px,#b893ff 0 4.0px,#0000ff 0 5.0px,#b697ff 0 6.0px,#ff9173 0 7.0px,#9373ff 0 8.0px,#fcfaff 0 9.0px,#ffb39b 0 10.0px,#6139ff 0 10.9px,#6f49ff 0 11.9px,#a079ff 0 12.9px,#f4eafd 0 13.9px,#704bff 0 14.9px,#d3b1ee 0 15.9px,#ddc8ff 0 16.9px,#ff9678 0 17.9px,#1d0eff 0 18.9px,#e5d4ff 0 19.9px,#1609ff 0 20.9px,#5f36ff 0 21.9px,#f1d2e3 0 22.9px,#b994ff 0 23.9px,#ffaa90 0 24.9px,#3520ff 0 25.9px,#d9c1ff 0 26.9px,#fceff0 0 27.9px,#ff6443 0 28.9px,#5e4cff 0 29.9px,#3b25ff 0 30.9px,#c8a7ff 0 31.8px,#f5d5dd 0 32.8px,#ceb1ff 0 33.8px,#f4e8f8 0 34.8px,#e7adc6 0 35.8px,#d5baff 0 36.8px,#ab81ff 0 37.8px,#ffae95 0 38.8px,#b790ff 0 39.8px,#a17eff 0 40.8px,#ff4629 0 41.8px,#3722ff 0 42.8px,#a77dff 0 43.8px,#0000ff 0 44.8px,#663cff 0 45.8px,#0000ff 0 46.8px,#402aff 0 47.8px,#0000ff 0 48.8px,#ffb09c 0 49.8px,#5e4bff 0 50.8px,#ff3625 0 51.8px,#dbc3ff 0 52.7px,#fbeaec 0 53.7px,#ae86ff 0 54.7px,#faf6ff 0 55.7px,#ad85ff 0 56.7px,#ff4a3a 0 57.7px,#ffd6c8 0 58.7px,#5d4bff 0 59.7px,#ceafff 0 60.7px,#5d4aff 0 61.7px,#ff7c5e 0 62.7px,#ffe0d6 0 63.7px,#b993ff 0 64.7px,#c8a8ff 0 65.7px,#e2ceff 0 66.7px,#ff7c5f 0 67.7px,#fefaf9 0 68.7px,#dec7ff 0 69.7px,#ae86ff 0 70.7px,#b68fff 0 71.7px,#4024ff 0 72.6px,#ffb099 0 73.6px,#4730ff 0 74.6px,#dcc1f5 0 75.6px,#a075ff 0 76.6px,#8f63ff 0 77.6px,#9d73ff 0 78.6px,#f7dee6 0 79.6px,#ffd4c5 0 80.6px,#f1e6ff 0 81.6px,#341fff 0 82.6px,#0000ff 0 83.6px,#9978ff 0 84.6px,#0000ff 0 85.6px,#ffe7df 0 86.6px,#e0cdff 0 87.6px,#ffe1d6 0 88.6px,#ff6e4d 0 89.6px,#ffe2d8 0 90.6px,#1d0eff 0 91.6px,#f2e6fa 0 92.6px,#e6c3e5 0 93.5px,#0000ff 0 94.5px,#eadbff 0 95.5px,#0000ff 0 96.5px,#e5d0f7 0 97.5px,#ff2d1c 0 98.5px,#6657ff 0 99.5px,#ffa78c 0 100.5px,#ceadf0 0 101.5px,#c8b0ff 0 102.5px,#bf9fff 0 103.5px,#ffffff 0 109.7px,#ae8eff 0 110.7px,#ffcabc 0 111.7px,#ff8e70 0 112.7px,#fbf7ff 0 113.7px,#ff573c 0 114.7px,#fff3ee 0 115.7px,#ff4829 0 116.7px,#ffa78e 0 117.7px,#ff9678 0 118.7px,#ff0000 0 119.7px,#ff422a 0 120.7px,#ffa288 0 121.7px,#ffa78d 0 122.7px,#ff0000 0 123.7px,#ff5840 0 124.7px,#ffbca8 0 125.7px,#ffb19c 0 126.7px,#ff4b3c 0 127.7px,#ff3b2b 0 128.7px,#ff8a72 0 129.7px,#fbebed 0 130.7px,#ffae96 0 131.7px,#ff0000 0 132.7px,#ff3423 0 133.8px,#f68388 0 134.8px,#f0e4fc 0 135.8px,#ff5233 0 136.8px,#ff0000 0 137.8px,#bd9bff 0 138.8px,#8c6cff 0 139.8px,#3d27ff 0 140.8px,#0000ff 0 141.8px,#fff3ef 0 142.8px,#ff9b85 0 143.8px,#ff3d2d 0 144.8px,#ff5839 0 145.8px,#f6eaf7 0 146.8px,#bc99ff 0 147.8px,#ff190d 0 148.8px,#ff0000 0 149.8px,#ff7959 0 150.8px,#ff7b5d 0 151.8px,#ffcebf 0 152.8px,#ff0000 0 153.8px,#7957ff 0 154.8px,#ff4131 0 155.8px,#f5e8f8 0 156.8px,#ffffff 0 162.6px,#5c48ff 0 163.6px,#ff8e70 0 164.6px,#edd4ed 0 165.6px,#ffd3c4 0 166.6px,#ffb39b 0 167.6px,#8066dc 0 168.6px,#0000ff 0 169.5px,#452eff 0 170.5px,#e3c4eb 0 171.5px,#ffcbba 0 172.5px,#ffd4c5 0 173.5px,#875fff 0 174.5px,#f6e7f4 0 175.5px,#ff3d2d 0 176.5px,#ff896c 0 177.5px,#ffa58a 0 178.5px,#ff6342 0 179.5px,#ff6b4a 0 180.5px,#ff5338 0 181.4px,#ffa691 0 182.4px,#ff0f06 0 183.4px,#ff0000 0 184.4px,#ffd3c3 0 185.4px,#ff0000 0 186.4px,#6250ff 0 187.4px,#cfb6ff 0 188.4px,#f9a8a2 0 189.4px,#ff7a59 0 190.4px,#b691ff 0 191.4px,#ffdfd4 0 192.4px,#0000ff 0 194.3px,#fed9cf 0 195.3px,#e7bbd8 0 196.3px,#ba95ff 0 197.3px,#ff6146 0 198.3px,#b088ff 0 199.3px,#ffffff 0 205.1px,#f1d0df 0 206.1px,#c8aaff 0 207.1px,#f9c4bf 0 208.1px,#8a61ff 0 209.1px,#2d19ff 0 210.1px,#debfec 0 211.2px,#dbc4ff 0 212.2px,#a883ff 0 213.2px,#fcb9af 0 214.2px,#c09cff 0 215.2px,#8356ff 0 216.2px,#8b5eff 0 217.2px,#6a42ff 0 218.2px,#dac3ff 0 219.2px,#dbb9ec 0 220.2px,#dbc3ff 0 221.2px,#caabff 0 222.3px,#6150ff 0 223.3px,#d5bbff 0 224.3px,#3e21ff 0 225.3px,#f9f4ff 0 226.3px,#ffc9b7 0 227.3px,#ae8dff 0 228.3px,#8b60ff 0 229.3px,#decbff 0 230.3px,#f2e6fb 0 231.3px,#ede0ff 0 232.4px,#f0e6ff 0 233.4px,#ad85ff 0 234.4px,#c9abff 0 235.4px,#c7a8ff 0 236.4px,#efcde0 0 237.4px,#9b71ff 0 238.4px,#cfb1ff 0 239.4px,#b39dff 0 240.4px,#c5a6ff 0 241.4px,#eadbff 0 242.4px,#5540ff 0 243.5px,#9b76ff 0 244.5px,#bf9cff 0 245.5px,#ffdbcf 0 246.5px,#fbe0de 0 247.5px,#351fff 0 248.5px,#ffffff 0 254.7px,#ffd8ca 0 255.7px,#f7eef9 0 256.7px,#ff4b2d 0 257.7px,#ff2919 0 258.7px,#ffc9b7 0 259.7px,#ff9071 0 260.7px,#ff0000 0 261.7px,#ff9479 0 262.8px,#ff150a 0 263.8px,#ff7959 0 264.8px,#ff9b83 0 265.8px,#ffcfc0 0 266.8px,#5c49ff 0 267.8px,#d4b9ff 0 268.8px,#ffb69f 0 269.8px,#ffe9e2 0 270.8px,#ff5244 0 271.8px,#ffc7b6 0 272.8px,#ff3827 0 273.8px,#ff1a0d 0 274.8px,#ff7d60 0 275.8px,#ffefe9 0 276.8px,#ff6e4e 0 277.8px,#ff0000 0 279.9px,#ffc1af 0 280.9px,#ff0000 0 282.9px,#422cff 0 283.9px,#ff3524 0 284.9px,#ffbeaa 0 285.9px,#ff0000 0 286.9px,#ff6d4b 0 287.9px,#ffc4b0 0 288.9px,#ff1b0e 0 289.9px,#ff3e2e 0 290.9px,#ff6948 0 291.9px,#ff0000 0 292.9px,#ffb9a3 0 293.9px,#ff0000 0 294.9px,#ff5042 0 296.0px,#ff2e1d 0 297.0px,#ff8668 0 298.0px,#ff3726 0 299.0px,#ff0000 0 300.0px,#ff9b80 0 301.0px,#ff0000 0 302.0px,#ff4231 0 303.0px,#a57bff 0 304.0px,#ff8d6d 0 305.0px,#ffa28a 0 306.0px,#f1b5be 0 307.0px,#ff0000 0 308.0px,#ff9f83 0 309.0px,#ffb19e 0 310.0px,#f5b0b2 0 311.1px,#ffb49d 0 312.1px,#ff4428 0 313.1px,#ebddff 0 314.1px,#ff6546 0 315.1px,#f9f4ff 0 316.1px,#2111ff 0 317.1px,#9266ff 0 318.1px,#f7e9f3 0 319.1px,#ff6055 0 320.1px,#ff2c1b 0 321.1px,#ff5e48 0 322.1px,#ff2818 0 323.1px,#ff0000 0 324.1px,#ffad93 0 325.1px,#fedfd8 0 326.1px,#ff0000 0 327.1px,#ffe7de 0 328.2px,#ff0000 0 329.2px,#ff9b80 0 330.2px,#ffaf9b 0 331.2px,#ff967a 0 332.2px,#ff4839 0 333.2px,#ff5e45 0 334.2px,#ff0000 0 335.2px,#ffffff 0 341.1px,#2413ff 0 342.1px,#ffe1d6 0 343.1px,#e5d1f9 0 344.1px,#c4a9ff 0 345.1px,#cab1ff 0 346.1px,#fad3d0 0 347.1px,#e6d5ff 0 348.1px,#c3a2ff 0 349.1px,#e9d9ff 0 350.1px,#0000ff 0 351.1px,#996eff 0 352.1px,#7952ff 0 353.1px,#f5d9e3 0 354.1px,#ff8f70 0 355.1px,#bd98ff 0 356.1px,#e2afd3 0 357.1px,#c8b0ff 0 358.1px,#fff6f3 0 359.1px,#746cff 0 360.1px,#ff6a50 0 361.1px,#eed8f0 0 362.1px,#ddc7ff 0 363.1px,#ead1ef 0 364.1px,#f3c6cf 0 365.1px,#a47fff 0 366.1px,#9984f6 0 367.1px,#f9eef6 0 368.1px,#f9b6b0 0 369.1px,#eccde6 0 370.1px,#e4d3ff 0 371.1px,#f3d7e4 0 372.1px,#ffd1c1 0 373.1px,#b28fff 0 374.1px,#fefbfe 0 375.1px,#dcc6ff 0 376.1px,#c19eff 0 377.0px,#eee2ff 0 378.0px,#d196cd 0 379.0px,#e8daff 0 380.0px,#f2dcef 0 381.0px,#a68bf3 0 382.0px,#c1a0ff 0 383.0px,#ffdbce 0 384.0px,#cdb6ff 0 385.0px,#e5d0f8 0 386.0px,#cfb7ff 0 387.0px,#f0c9d9 0 388.0px,#fee7e2 0 389.0px,#dfbde9 0 390.0px,#c09dff 0 391.0px,#eec4d7 0 392.0px,#3b25ff 0 393.0px,#1c0eff 0 394.0px,#bca3fb 0 395.0px,#a081ff 0 396.0px,#fcd4cf 0 397.0px,#b088ff 0 398.0px,#b896ff 0 399.0px,#e6d5ff 0 400.0px,#ffd2c3 0 401.0px,#e6d5ff 0 402.0px,#ffe7df 0 403.0px,#fee3dc 0 404.0px,#ffb49f 0 405.0px,#ffa98f 0 406.0px,#ffb39b 0 407.0px,#f26a80 0 408.0px,#caacff 0 409.0px,#f3ebfe 0 410.0px,#c8a8f3 0 411.0px)"></div><div class="h" style="top:111.84px;height:4.88px;background:linear-gradient(90deg,#ffffff 0 0.0px,#ffe6de 0 1.0px,#ffbfab 0 2.0px,#feefeb 0 3.0px,#ddc9ff 0 4.0px,#2312ff 0 5.0px,#d2b6ff 0 6.0px,#ffb39b 0 7.0px,#c9abff 0 8.0px,#fceced 0 9.0px,#feebe6 0 10.0px,#a782ff 0 10.9px,#9c73ff 0 11.9px,#a386ff 0 12.9px,#f3e9ff 0 13.9px,#a176ff 0 14.9px,#dcc6ff 0 15.9px,#f4e0ef 0 16.9px,#ffb8a2 0 17.9px,#754dff 0 18.9px,#eee2ff 0 19.9px,#a67cff 0 20.9px,#8357ff 0 21.9px,#fbe0e0 0 22.9px,#c9a8ff 0 23.9px,#ffa185 0 24.9px,#6040ff 0 25.9px,#e8d8ff 0 26.9px,#f3eaff 0 27.9px,#ff9274 0 28.9px,#ab83ff 0 29.9px,#432dff 0 30.9px,#dfc9ff 0 31.8px,#ead9fa 0 32.8px,#e2cfff 0 33.8px,#feeae5 0 34.8px,#ffe8e0 0 35.8px,#ecdeff 0 36.8px,#b28bff 0 37.8px,#ffc5b2 0 38.8px,#ebddff 0 39.8px,#a47aff 0 40.8px,#ff6443 0 41.8px,#7549ff 0 42.8px,#c6a4ff 0 43.8px,#0000ff 0 44.8px,#8155ff 0 45.8px,#4423ff 0 46.8px,#976cff 0 47.8px,#0000ff 0 48.8px,#ffa388 0 49.8px,#b493ff 0 50.8px,#ff9e86 0 51.8px,#f6e9f6 0 52.7px,#ffece5 0 53.7px,#c5a8ff 0 54.7px,#e7d5ff 0 55.7px,#c7a6ff 0 56.7px,#ff8f72 0 57.7px,#ffe8e0 0 58.7px,#7d55ff 0 59.7px,#e2d1ff 0 60.7px,#8863ff 0 61.7px,#ff8266 0 62.7px,#fdd7d0 0 63.7px,#be9bff 0 64.7px,#cfb0ff 0 65.7px,#f1e6ff 0 66.7px,#ffc2af 0 67.7px,#f9e4e9 0 68.7px,#e2cfff 0 69.7px,#c9aeff 0 70.7px,#c7a5ff 0 71.7px,#986fff 0 72.6px,#ffc0ac 0 73.6px,#966eff 0 74.6px,#e1c8f4 0 75.6px,#b092ff 0 76.6px,#c6a5ff 0 77.6px,#ab86ff 0 78.6px,#f4deec 0 79.6px,#ffded3 0 80.6px,#ecdeff 0 81.6px,#957aff 0 82.6px,#6f44ff 0 83.6px,#b492ff 0 84.6px,#996fff 0 85.6px,#f9dde0 0 86.6px,#f0e5ff 0 87.6px,#ffe6dd 0 88.6px,#ffa791 0 89.6px,#fce6e5 0 90.6px,#5935ff 0 91.6px,#faeaef 0 92.6px,#e7d7ff 0 93.5px,#7448ff 0 94.5px,#eee2ff 0 95.5px,#4c36ff 0 96.5px,#dfb1da 0 97.5px,#ffa389 0 98.5px,#9268ff 0 99.5px,#ffb097 0 100.5px,#ecd6f2 0 101.5px,#d7bcff 0 102.5px,#c5abff 0 103.5px,#ffffff 0 109.7px,#dec0ef 0 110.7px,#ffe5dd 0 111.7px,#ffb9a2 0 112.7px,#fdf7f8 0 113.7px,#ffa58a 0 114.7px,#ffe5dd 0 115.7px,#ffbaa4 0 116.7px,#ffc7b4 0 117.7px,#ffc5b2 0 118.7px,#ff6140 0 119.7px,#ff8e71 0 120.7px,#ffc8b5 0 121.7px,#ffe4db 0 122.7px,#ff563b 0 123.7px,#ffae98 0 124.7px,#f5dfea 0 125.7px,#ffd0c1 0 126.7px,#ffbca6 0 127.7px,#ff9c7f 0 128.7px,#ffa287 0 129.7px,#f8f2ff 0 130.7px,#fde2dd 0 131.7px,#ff5938 0 132.7px,#ffac93 0 133.8px,#f4bdc2 0 134.8px,#fbebec 0 135.8px,#ff9577 0 136.8px,#ff9678 0 137.8px,#ffeee8 0 138.8px,#e1ceff 0 139.8px,#b38dff 0 140.8px,#9468ff 0 141.8px,#ffebe4 0 142.8px,#ffb198 0 143.8px,#ffa78e 0 144.8px,#fec3b6 0 145.8px,#f8f2ff 0 146.8px,#ecddfb 0 147.8px,#ffc6b3 0 148.8px,#ff8363 0 149.8px,#ffae94 0 150.8px,#ffc6b2 0 151.8px,#ffe2d8 0 152.8px,#ff9275 0 153.8px,#cbabff 0 154.8px,#ffc0ad 0 155.8px,#faf4fd 0 156.8px,#ffffff 0 162.6px,#a286ff 0 163.6px,#ffdbce 0 164.6px,#fff1ec 0 165.6px,#f3e7f9 0 166.6px,#fff9f6 0 167.6px,#d8abdd 0 168.6px,#a87fff 0 169.5px,#b38bff 0 170.5px,#f2daea 0 171.5px,#faf6ff 0 172.5px,#faf7ff 0 173.5px,#d4b9ff 0 174.5px,#fdf8fa 0 175.5px,#ffb39b 0 176.5px,#ff9f83 0 177.5px,#fccdc4 0 178.5px,#ffbaa3 0 179.5px,#ffb69f 0 180.5px,#ff9f83 0 181.4px,#ffcdbc 0 182.4px,#ff886a 0 183.4px,#ff9172 0 184.4px,#ffd3c4 0 185.4px,#ff8161 0 186.4px,#d2b6ff 0 187.4px,#e1ccff 0 188.4px,#ffd3c3 0 189.4px,#ffd7ca 0 190.4px,#e4d1ff 0 191.4px,#fee9e4 0 192.4px,#5f37ff 0 193.3px,#9a6fff 0 194.3px,#f4eafc 0 195.3px,#f3d7e6 0 196.3px,#ede0ff 0 197.3px,#ffb8a1 0 198.3px,#f1e7ff 0 199.3px,#ffffff 0 205.1px,#ecc2d8 0 206.1px,#d8bfff 0 207.1px,#ffe2d8 0 208.1px,#b28dff 0 209.1px,#a075ff 0 210.1px,#eadbfc 0 211.2px,#ecdcfa 0 212.2px,#d5baff 0 213.2px,#f8d6d9 0 214.2px,#c6a4ff 0 215.2px,#b893ff 0 216.2px,#ad85ff 0 217.2px,#b48cff 0 218.2px,#f7e9f4 0 219.2px,#e6c3e5 0 220.2px,#dbc6ff 0 221.2px,#ebdcff 0 222.3px,#9f7dff 0 223.3px,#d0b3ff 0 224.3px,#946dff 0 225.3px,#f1d8e9 0 226.3px,#ffdacc 0 227.3px,#bb96ff 0 228.3px,#b28dff 0 229.3px,#d4b3ef 0 230.3px,#f7e1e9 0 231.3px,#e1ccff 0 232.4px,#f3e2f4 0 233.4px,#c8a8ff 0 234.4px,#d0b3ff 0 235.4px,#ddc7ff 0 236.4px,#f9d3d2 0 237.4px,#b48fff 0 238.4px,#ddc6ff 0 239.4px,#c3a5ff 0 240.4px,#d3baff 0 241.4px,#e8d8fe 0 242.4px,#a77eff 0 243.5px,#b18bff 0 244.5px,#d9c1ff 0 245.5px,#ffc6b3 0 246.5px,#ffede7 0 247.5px,#a379ff 0 248.5px,#ffffff 0 254.7px,#fde6e1 0 255.7px,#fffdfd 0 256.7px,#ffb098 0 257.7px,#ff997b 0 258.7px,#ffdcd1 0 259.7px,#ffbda7 0 260.7px,#ffab91 0 261.7px,#ffe2d7 0 262.8px,#ffab92 0 263.8px,#ffc6b5 0 264.8px,#ffc6b3 0 265.8px,#f5edff 0 266.8px,#c2a1ff 0 267.8px,#e8d9fe 0 268.8px,#ffd8cb 0 269.8px,#f5edfe 0 270.8px,#feb6a7 0 271.8px,#ffc0ac 0 272.8px,#ffa388 0 273.8px,#ff8c6d 0 274.8px,#ffc5b1 0 275.8px,#fdfcff 0 276.8px,#ffb9a2 0 277.8px,#ff6b49 0 278.8px,#ff8d6d 0 279.9px,#ffd9cb 0 280.9px,#ff5034 0 281.9px,#ff7455 0 282.9px,#b189ff 0 283.9px,#ff8262 0 284.9px,#ffe9e2 0 285.9px,#ff7e5e 0 286.9px,#ffb7a1 0 287.9px,#ffcfbf 0 288.9px,#ff7f5f 0 289.9px,#ffd0c3 0 290.9px,#ffa58a 0 291.9px,#ff7251 0 292.9px,#ffc4b0 0 293.9px,#ff6e4d 0 294.9px,#ff9c80 0 296.0px,#ff9e85 0 297.0px,#ffc3b0 0 298.0px,#ff9173 0 299.0px,#ff5031 0 300.0px,#ffcfbe 0 301.0px,#ff5535 0 302.0px,#ffa58d 0 303.0px,#d9c0ff 0 304.0px,#ffbaa4 0 305.0px,#ffd1c2 0 306.0px,#f4d4df 0 307.0px,#ff4232 0 308.0px,#ffddd1 0 309.0px,#fbcbc4 0 310.0px,#fad8d7 0 311.1px,#ffe2d7 0 312.1px,#ffa488 0 313.1px,#fdeae8 0 314.1px,#ffc0ac 0 315.1px,#fdf4f6 0 316.1px,#ceb1ff 0 317.1px,#dac3ff 0 318.1px,#f7dce3 0 319.1px,#ffc8b9 0 320.1px,#ff9d83 0 321.1px,#ffcfbe 0 322.1px,#ff997c 0 323.1px,#ff6545 0 324.1px,#ffccbb 0 325.1px,#ffd0c0 0 326.1px,#ff7151 0 327.1px,#fcc5bb 0 328.2px,#ff6046 0 329.2px,#ffd4c6 0 330.2px,#ffddd1 0 331.2px,#ffd2c2 0 332.2px,#ffd4c5 0 333.2px,#feded5 0 334.2px,#ff5837 0 335.2px,#ffffff 0 341.1px,#ba94ff 0 342.1px,#fff7f5 0 343.1px,#f5e1ec 0 344.1px,#efe3ff 0 345.1px,#ebd4f1 0 346.1px,#fff3ef 0 347.1px,#f4ecff 0 348.1px,#ddc4f6 0 349.1px,#faf2f8 0 350.1px,#a378ff 0 351.1px,#d8bfff 0 352.1px,#d6bdff 0 353.1px,#fce5e3 0 354.1px,#ffab91 0 355.1px,#e7d6fd 0 356.1px,#e8bad6 0 357.1px,#f9f5ff 0 358.1px,#ffeee8 0 359.1px,#d6c0ff 0 360.1px,#ff886a 0 361.1px,#ebd2ef 0 362.1px,#e4d1ff 0 363.1px,#f6edfb 0 364.1px,#ffece5 0 365.1px,#e0ccff 0 366.1px,#d5bfff 0 367.1px,#fee5e0 0 368.1px,#ffd0c1 0 369.1px,#efe3ff 0 370.1px,#e8c6e5 0 371.1px,#fcf0f1 0 372.1px,#ffdfd4 0 373.1px,#d9c1ff 0 374.1px,#fce7e6 0 375.1px,#f9f4ff 0 376.1px,#e2ceff 0 377.0px,#ede1ff 0 378.0px,#f2d1de 0 379.0px,#eed9f2 0 380.0px,#fde7e3 0 381.0px,#caa1e5 0 382.0px,#d9c1ff 0 383.0px,#f7e6f0 0 384.0px,#e9d9ff 0 385.0px,#fdf5f6 0 386.0px,#e7ccef 0 387.0px,#fff4f0 0 388.0px,#fff6f4 0 389.0px,#f3c4cc 0 390.0px,#d0b4ff 0 391.0px,#ffd8ca 0 392.0px,#8259ff 0 393.0px,#aa81ff 0 394.0px,#e7d5fc 0 395.0px,#cdb5ff 0 396.0px,#f3eaff 0 397.0px,#d9c1ff 0 398.0px,#dbc4fb 0 399.0px,#f5e8f7 0 400.0px,#ffe9e1 0 401.0px,#f6e5f0 0 402.0px,#ffefe9 0 403.0px,#ffece5 0 404.0px,#ffede6 0 405.0px,#fff6f2 0 406.0px,#ffd8ca 0 407.0px,#f8b8b3 0 408.0px,#e4d1ff 0 409.0px,#ebd2ee 0 410.0px,#f5dde8 0 411.0px)"></div><div class="h" style="top:123.30px;height:4.92px;background:linear-gradient(90deg,#ffffff 0 0.0px,#ffd5c7 0 1.0px,#ffc5b2 0 2.0px,#cbacff 0 3.0px,#ecdfff 0 4.0px,#ecc0d5 0 5.0px,#ffe6dd 0 6.0px,#e9aabf 0 7.0px,#ffc3b1 0 8.0px,#ffcab9 0 9.0px,#fec8ba 0 10.0px,#fde4df 0 10.9px,#fcd6d0 0 11.9px,#fcdad5 0 12.9px,#ffd0bf 0 13.9px,#c09dff 0 14.9px,#f7c6c6 0 15.9px,#d2b6ff 0 16.9px,#f3deef 0 17.9px,#c8abf6 0 18.9px,#b095f6 0 19.9px,#f1e7ff 0 20.9px,#cbadff 0 21.9px,#dec8ff 0 22.9px,#c0a9fe 0 23.9px,#d4bbff 0 24.9px,#c5a4ff 0 25.9px,#e8d8ff 0 26.9px,#7d60ff 0 27.9px,#9d72ff 0 28.9px,#ffe5dc 0 29.9px,#fbdfde 0 30.9px,#ffe1d7 0 31.8px,#ffcdbb 0 32.8px,#fee0d9 0 33.8px,#e7cef1 0 34.8px,#ffebe3 0 35.8px,#ff7e60 0 36.8px,#ede0ff 0 37.8px,#d0b4ff 0 38.8px,#d9c0ff 0 39.8px,#f2e3f7 0 40.8px,#9063ff 0 41.8px,#af8bff 0 42.8px,#7953ff 0 43.8px,#f4e1f1 0 44.8px,#c29fff 0 45.8px,#e9daff 0 46.8px,#c6a4ff 0 47.8px,#e7d6ff 0 48.8px,#f3d9e8 0 49.8px,#fae9ed 0 50.8px,#bd9ef3 0 51.8px,#fcf6f9 0 52.7px,#ebd6f4 0 53.7px,#ffa387 0 54.7px,#ffbfaa 0 55.7px,#d8beff 0 56.7px,#e7d7ff 0 57.7px,#ac87ff 0 58.7px,#d8bfff 0 59.7px,#d6c0ff 0 60.7px,#ffefe9 0 61.7px,#c19eff 0 62.7px,#a981ff 0 63.7px,#986cff 0 64.7px,#dec8ff 0 65.7px,#d3b7ff 0 66.7px,#c4a2ff 0 67.7px,#e8d8ff 0 68.7px,#e3d0ff 0 69.7px,#dfc8ff 0 70.7px,#f9e3e7 0 71.7px,#ffa38f 0 72.6px,#ff9275 0 73.6px,#ffd1c2 0 74.6px,#ffc9b6 0 75.6px,#ffc0ad 0 76.6px,#e7c5e5 0 77.6px,#fff9f6 0 78.6px,#ff5133 0 79.6px,#ffe4da 0 80.6px,#ffd5c7 0 81.6px,#ffb39c 0 82.6px,#ffaf96 0 83.6px,#d7bcff 0 84.6px,#f1d7ea 0 85.6px,#f3d8e5 0 86.6px,#c19eff 0 87.6px,#9469ff 0 88.6px,#f2e7fc 0 89.6px,#a280ff 0 90.6px,#dec7ff 0 91.6px,#6c41ff 0 92.6px,#ba96ff 0 93.5px,#a47aff 0 94.5px,#e0ccff 0 95.5px,#dac1ff 0 96.5px,#9a6eff 0 97.5px,#bda0ff 0 98.5px,#e6cdf1 0 99.5px,#4f3aff 0 100.5px,#fef9fa 0 101.5px,#fecabd 0 102.5px,#d5c0ff 0 103.5px,#ffffff 0 109.7px,#5935ff 0 110.7px,#e8d9ff 0 111.7px,#dfccff 0 112.7px,#d9c1ff 0 113.7px,#a57cff 0 114.7px,#d5bbff 0 115.7px,#caacff 0 116.7px,#bf9dff 0 117.7px,#ffaf97 0 118.7px,#e9daff 0 119.7px,#ffe1d6 0 120.7px,#e0cefe 0 121.7px,#faccc7 0 122.7px,#ffe4db 0 123.7px,#ff8d73 0 124.7px,#ffab91 0 125.7px,#9977ff 0 126.7px,#ffd8ca 0 127.7px,#c4a3ff 0 128.7px,#ead4f3 0 129.7px,#f4ebff 0 130.7px,#bd9cff 0 131.7px,#a881ff 0 132.7px,#ceb2ff 0 133.8px,#ffc3ae 0 134.8px,#edbfd3 0 135.8px,#e4d2ff 0 136.8px,#f1e5fc 0 137.8px,#fffdfc 0 138.8px,#fff8f5 0 139.8px,#f2e8ff 0 140.8px,#e8d8ff 0 141.8px,#fff0eb 0 142.8px,#e2ceff 0 143.8px,#dcc4ff 0 144.8px,#e0b3db 0 145.8px,#f2bec7 0 146.8px,#986eff 0 147.8px,#996fff 0 148.8px,#e7cef2 0 149.8px,#ddc7ff 0 150.8px,#efd8ee 0 151.8px,#ffa68c 0 152.8px,#ffbba4 0 153.8px,#ffd3c5 0 154.8px,#e1ceff 0 155.8px,#4e2bff 0 156.8px,#ffffff 0 162.6px,#f8e7ee 0 163.6px,#ff997b 0 164.6px,#ebd8f7 0 165.6px,#f2daea 0 166.6px,#ffc3b0 0 167.6px,#ffb59f 0 168.6px,#ffa98f 0 169.5px,#ffcab9 0 170.5px,#fcf3f8 0 171.5px,#fce3e0 0 172.5px,#efcde0 0 173.5px,#ffc2ae 0 174.5px,#f6c7ca 0 175.5px,#f5cfd6 0 176.5px,#ffd0c0 0 177.5px,#f5e1ed 0 178.5px,#dac2ff 0 179.5px,#ffede7 0 180.5px,#ffdfd3 0 181.4px,#ffcab7 0 182.4px,#ffc9b9 0 183.4px,#f2e8ff 0 184.4px,#ffab94 0 185.4px,#ffd9cc 0 186.4px,#fff2ed 0 187.4px,#d6b0e7 0 188.4px,#f9e2e6 0 189.4px,#faf5fe 0 190.4px,#ffab92 0 191.4px,#caaeff 0 192.4px,#ffdfd3 0 193.3px,#ffdace 0 194.3px,#e0cbff 0 195.3px,#f8f0fb 0 196.3px,#ceb3ff 0 197.3px,#eee2ff 0 198.3px,#dbc3ff 0 199.3px,#ffffff 0 205.1px,#ffd1c1 0 206.1px,#e0bee8 0 207.1px,#ff9c7f 0 208.1px,#ff9f82 0 209.1px,#ffa993 0 210.1px,#ffcaba 0 211.2px,#ff3524 0 212.2px,#ff775a 0 213.2px,#ffe0d5 0 214.2px,#ffccbc 0 215.2px,#ffeee7 0 216.2px,#ffd7ca 0 217.2px,#ffd0c0 0 218.2px,#ffe6dd 0 219.2px,#ffb49d 0 220.2px,#ff977b 0 221.2px,#ff5e47 0 222.3px,#e4d2ff 0 223.3px,#ff9c7f 0 224.3px,#fceff0 0 225.3px,#d6bbff 0 226.3px,#e1c0ea 0 227.3px,#f2ccd7 0 228.3px,#ffc1ae 0 229.3px,#ffa88d 0 230.3px,#ffc4b1 0 231.3px,#ff9e83 0 232.4px,#ff9e81 0 233.4px,#ff5e3d 0 234.4px,#ff553b 0 235.4px,#f4e2f0 0 236.4px,#ff987a 0 237.4px,#ffe4db 0 238.4px,#ffa78c 0 239.4px,#ff6e4f 0 240.4px,#e7d5ff 0 241.4px,#ff9a7d 0 242.4px,#fbf8ff 0 243.5px,#fff1ec 0 244.5px,#faf1f7 0 245.5px,#fad4d0 0 246.5px,#f0e5ff 0 247.5px,#ff0000 0 248.5px,#ffffff 0 254.7px,#ebddff 0 255.7px,#b690ff 0 256.7px,#ecdfff 0 257.7px,#9f76ff 0 258.7px,#f6eeff 0 259.7px,#e3c8f2 0 260.7px,#ddc7ff 0 261.7px,#ac86ff 0 262.8px,#caaaff 0 263.8px,#e6cdf3 0 264.8px,#ffad94 0 265.8px,#f6ebf8 0 266.8px,#c2a1ff 0 267.8px,#d5bdff 0 268.8px,#8559ff 0 269.8px,#eac1da 0 270.8px,#e0cdfc 0 271.8px,#e6d5ff 0 272.8px,#ffbca8 0 273.8px,#ff9e81 0 274.8px,#e8d2f5 0 275.8px,#ffdbce 0 276.8px,#ffaf99 0 277.8px,#cbabff 0 278.8px,#d8c2fd 0 279.9px,#c9acff 0 280.9px,#e1cefc 0 281.9px,#f5e0ec 0 282.9px,#caacff 0 283.9px,#f9d7d7 0 284.9px,#f2e0f3 0 285.9px,#ffa68c 0 286.9px,#ceb2ff 0 287.9px,#ffd3c3 0 288.9px,#ecdeff 0 289.9px,#ac89ff 0 290.9px,#f9edf4 0 291.9px,#fdf1ef 0 292.9px,#fdf3f4 0 293.9px,#ffcfbf 0 294.9px,#f0e4ff 0 296.0px,#fcb0a4 0 297.0px,#b996ff 0 298.0px,#e2cbf7 0 299.0px,#ffdbcf 0 300.0px,#ba94ff 0 301.0px,#ffccbb 0 302.0px,#ffeee7 0 303.0px,#c9a6ed 0 304.0px,#9571ff 0 305.0px,#edcce2 0 306.0px,#dcc7fc 0 307.0px,#f0ddf4 0 308.0px,#ecddfb 0 309.0px,#be9bff 0 310.0px,#ebddff 0 311.1px,#4a34ff 0 312.1px,#966bff 0 313.1px,#dac5ff 0 314.1px,#e0b2d8 0 315.1px,#cab1ff 0 316.1px,#c5a7ff 0 317.1px,#8e61ff 0 318.1px,#b38cff 0 319.1px,#895dff 0 320.1px,#ffe3d9 0 321.1px,#b893ff 0 322.1px,#ff9e83 0 323.1px,#ffd6c8 0 324.1px,#b497ff 0 325.1px,#7872ff 0 326.1px,#e4d2ff 0 327.1px,#f1e7ff 0 328.2px,#ff2d1d 0 329.2px,#ecd3ed 0 330.2px,#ffc8b6 0 331.2px,#9a6fff 0 332.2px,#ffc5b1 0 333.2px,#e5c8ee 0 334.2px,#faf6ff 0 335.2px,#ffffff 0 341.1px,#d8beff 0 342.1px,#dcbbeb 0 343.1px,#c19eff 0 344.1px,#dcc5ff 0 345.1px,#dbc6ff 0 346.1px,#ffdfd3 0 347.1px,#ddc7ff 0 348.1px,#0000ff 0 349.1px,#301cff 0 350.1px,#eacbe7 0 351.1px,#ffb8a2 0 352.1px,#906cff 0 353.1px,#fff1eb 0 354.1px,#ffd9cc 0 355.1px,#c3a1ff 0 356.1px,#9063ff 0 357.1px,#f9dee0 0 358.1px,#f5e7f6 0 359.1px,#e6d4ff 0 360.1px,#efe4ff 0 361.1px,#fefcff 0 362.1px,#ffe2d9 0 363.1px,#d8bfff 0 364.1px,#f9d7d9 0 365.1px,#faecf1 0 366.1px,#c7a7ff 0 367.1px,#ecdfff 0 368.1px,#c8a8ff 0 369.1px,#e6d4fc 0 370.1px,#e7d6fd 0 371.1px,#b691ff 0 372.1px,#efe3ff 0 373.1px,#b089ff 0 374.1px,#ffd6c9 0 375.1px,#ffb69f 0 376.1px,#fedbd2 0 377.0px,#ffede6 0 378.0px,#ff9577 0 379.0px,#ff9e86 0 380.0px,#e1c8f4 0 381.0px,#fae7eb 0 382.0px,#ffa488 0 383.0px,#ffc1b0 0 384.0px,#faeff5 0 385.0px,#ffc5b2 0 386.0px,#ffc8b6 0 387.0px,#ff8b70 0 388.0px,#f6a9a8 0 389.0px,#f8ebf6 0 390.0px,#f7e8f4 0 391.0px,#b794ff 0 392.0px,#ffc6b4 0 393.0px,#ffd6c8 0 394.0px,#c396e2 0 395.0px,#f3dfef 0 396.0px,#f9d8da 0 397.0px,#c6a6ff 0 398.0px,#ffc0ab 0 399.0px,#ecdcfa 0 400.0px,#e7c3e2 0 401.0px,#ffc0ad 0 402.0px,#ffd2c3 0 403.0px,#fdf6f7 0 404.0px,#dac1ff 0 405.0px,#f6dae1 0 406.0px,#cdb3ff 0 407.0px,#ff5b3d 0 408.0px,#f4ebff 0 409.0px,#ff9583 0 410.0px,#ffc1ae 0 411.0px)"></div><div class="h" style="top:128.20px;height:4.92px;background:linear-gradient(90deg,#ffffff 0 0.0px,#ffd9cc 0 1.0px,#ffcebd 0 2.0px,#dac1ff 0 3.0px,#f3dae8 0 4.0px,#efb8c6 0 5.0px,#ffe5dc 0 6.0px,#f1e1f6 0 7.0px,#ffcdbb 0 8.0px,#ffb39a 0 9.0px,#fad5d4 0 10.0px,#ffd4c6 0 10.9px,#efabb6 0 11.9px,#fbd6d2 0 12.9px,#f7e8f2 0 13.9px,#b089ff 0 14.9px,#ffd0c0 0 15.9px,#d7bdff 0 16.9px,#ffd6c9 0 17.9px,#e1ceff 0 18.9px,#b99dff 0 19.9px,#e2ceff 0 20.9px,#d2b6ff 0 21.9px,#eee1ff 0 22.9px,#d6c0ff 0 23.9px,#d5baff 0 24.9px,#ba95ff 0 25.9px,#e5d4ff 0 26.9px,#643fff 0 27.9px,#9a70ff 0 28.9px,#ffcbbb 0 29.9px,#eee1ff 0 30.9px,#f3e3f5 0 31.8px,#ffd1c2 0 32.8px,#ffe7de 0 33.8px,#f0daef 0 34.8px,#f6ced4 0 35.8px,#ffc8b5 0 36.8px,#f8ecf6 0 37.8px,#c1a1ff 0 38.8px,#dfc9ff 0 39.8px,#f4dfed 0 40.8px,#7146ff 0 41.8px,#a075ff 0 42.8px,#b894ff 0 43.8px,#e9dbff 0 44.8px,#cfb1ff 0 45.8px,#dbc4ff 0 46.8px,#ccaeff 0 47.8px,#efdbf2 0 48.8px,#dcc5ff 0 49.8px,#fae3e5 0 50.8px,#dbc3f8 0 51.8px,#f4deec 0 52.7px,#f1e1f5 0 53.7px,#ffad96 0 54.7px,#f8e1e7 0 55.7px,#dbc4ff 0 56.7px,#fef1ee 0 57.7px,#b08fff 0 58.7px,#e5d3ff 0 59.7px,#bd9fff 0 60.7px,#ffd6c8 0 61.7px,#c4a3ff 0 62.7px,#c1a2ff 0 63.7px,#7e52ff 0 64.7px,#e5cef6 0 65.7px,#c9aaff 0 66.7px,#c5a3ff 0 67.7px,#bc97ff 0 68.7px,#e8d7ff 0 70.7px,#e3c4eb 0 71.7px,#ff9284 0 72.6px,#ff9076 0 73.6px,#ffc4b2 0 74.6px,#ffd3c5 0 75.6px,#ffb6a0 0 76.6px,#f1e3f9 0 77.6px,#fff9f7 0 78.6px,#ff4427 0 79.6px,#fff3ef 0 80.6px,#ffb097 0 81.6px,#ffc6b3 0 82.6px,#ff8c6d 0 83.6px,#dcc7ff 0 84.6px,#ffe9e1 0 85.6px,#fef2f0 0 86.6px,#b18cff 0 87.6px,#9b70ff 0 88.6px,#eed4ec 0 89.6px,#9065ff 0 90.6px,#e2cfff 0 91.6px,#885cff 0 92.6px,#c2a0ff 0 94.5px,#d1b6ff 0 95.5px,#e1ccff 0 96.5px,#9c73ff 0 97.5px,#a793ff 0 98.5px,#ddc6ff 0 99.5px,#311cff 0 100.5px,#f9eff7 0 101.5px,#f9d0cf 0 102.5px,#ebddff 0 103.5px,#ffffff 0 109.7px,#a57bff 0 110.7px,#e3d2ff 0 111.7px,#b892ff 0 112.7px,#d6bbff 0 113.7px,#9b71ff 0 114.7px,#c4a4f1 0 115.7px,#b591ff 0 116.7px,#d4baff 0 117.7px,#ffb8a1 0 118.7px,#cdb0ff 0 119.7px,#ffccbb 0 120.7px,#f5ebfd 0 121.7px,#ffddd2 0 122.7px,#ffcab7 0 123.7px,#ff8d6f 0 124.7px,#ffa58a 0 125.7px,#b394ff 0 126.7px,#ffc8b5 0 127.7px,#c0a1ff 0 128.7px,#e2bfe7 0 129.7px,#ebdcff 0 130.7px,#ceb3ff 0 131.7px,#996dff 0 132.7px,#cbafff 0 133.8px,#ffb39b 0 134.8px,#efd0e3 0 135.8px,#e3cfff 0 136.8px,#efe3ff 0 137.8px,#fbf9ff 0 138.8px,#fae7ea 0 139.8px,#dfbeeb 0 140.8px,#c3a2ff 0 141.8px,#ffeae2 0 142.8px,#bb97ff 0 143.8px,#f2e8ff 0 144.8px,#f0d2e3 0 145.8px,#fadad9 0 146.8px,#bd99ff 0 147.8px,#a77dff 0 148.8px,#fff6f3 0 149.8px,#e8d9ff 0 150.8px,#ede0ff 0 151.8px,#ff8869 0 152.8px,#ffc9b7 0 153.8px,#fdedeb 0 154.8px,#efdef8 0 155.8px,#764dff 0 156.8px,#ffffff 0 162.6px,#fdeae8 0 163.6px,#ff9179 0 164.6px,#f1dbee 0 165.6px,#ffebe4 0 166.6px,#ffc4b1 0 167.6px,#ffd0c0 0 168.6px,#ffa58a 0 169.5px,#ffa488 0 170.5px,#e4d1ff 0 171.5px,#fffdfc 0 172.5px,#d6aee5 0 173.5px,#ffbea9 0 174.5px,#d98ab3 0 175.5px,#f0c7d7 0 176.5px,#ffc6b5 0 177.5px,#ffede6 0 178.5px,#eadcff 0 179.5px,#ffeae3 0 180.5px,#fddcd5 0 181.4px,#fff5f1 0 182.4px,#ffcaba 0 183.4px,#fef4f2 0 184.4px,#fbc5bd 0 185.4px,#ffcbba 0 186.4px,#f1e2f8 0 187.4px,#c6abff 0 188.4px,#f8eaf3 0 189.4px,#f1d4e7 0 190.4px,#ff8f71 0 191.4px,#c8aaff 0 192.4px,#ffc8b7 0 193.3px,#faf7ff 0 194.3px,#f0e0f6 0 195.3px,#f0e4fc 0 196.3px,#ba9dff 0 197.3px,#efe3ff 0 198.3px,#ceb2ff 0 199.3px,#ffffff 0 205.1px,#ffbea9 0 206.1px,#f7f1ff 0 207.1px,#ffc0ac 0 208.1px,#ff8767 0 209.1px,#ffa88e 0 210.1px,#ffe8e0 0 211.2px,#ff1f11 0 212.2px,#ff7459 0 213.2px,#ffd7c9 0 214.2px,#ffc3b2 0 215.2px,#ffdbce 0 216.2px,#ffd7c9 0 217.2px,#ffcfbf 0 218.2px,#fbe5e5 0 219.2px,#ffcfbf 0 220.2px,#ff7758 0 221.2px,#ff6a4b 0 222.3px,#d7beff 0 223.3px,#ff8868 0 224.3px,#fef9f9 0 225.3px,#dbc4ff 0 226.3px,#d8b4e9 0 227.3px,#ffd6c9 0 228.3px,#ffd1c2 0 229.3px,#ff8363 0 230.3px,#ffdacd 0 231.3px,#ff9677 0 232.4px,#ffa58a 0 233.4px,#ff7455 0 234.4px,#ff5042 0 235.4px,#e2c3ec 0 236.4px,#ff775b 0 237.4px,#ffcdbc 0 238.4px,#ffa084 0 239.4px,#ff8c6d 0 240.4px,#fff0ea 0 241.4px,#ff9275 0 242.4px,#f2d5e4 0 243.5px,#f3d4e0 0 244.5px,#e3b3d6 0 245.5px,#ffc2b1 0 246.5px,#f5d6df 0 247.5px,#ff0000 0 248.5px,#ffffff 0 254.7px,#f8eef8 0 255.7px,#a277ff 0 256.7px,#e9daff 0 257.7px,#c5a3ff 0 258.7px,#eadbff 0 259.7px,#e5d5ff 0 260.7px,#e9daff 0 261.7px,#9c7bff 0 262.8px,#cbabff 0 263.8px,#ddc3f6 0 264.8px,#ffb19a 0 265.8px,#edd8f2 0 266.8px,#d8beff 0 267.8px,#bd9aff 0 268.8px,#a176ff 0 269.8px,#e4cef7 0 270.8px,#c6a7ff 0 271.8px,#dec8ff 0 272.8px,#ffccbb 0 273.8px,#ff8a6b 0 274.8px,#e2ccf7 0 275.8px,#ffe3d9 0 276.8px,#ff9b7f 0 277.8px,#b995ff 0 278.8px,#e3caf3 0 279.9px,#c6a5ff 0 280.9px,#ecdfff 0 281.9px,#ffd7ca 0 282.9px,#b38dff 0 283.9px,#e8d6fa 0 284.9px,#ffddd1 0 285.9px,#ff6c5a 0 286.9px,#d5baff 0 287.9px,#ffc9b8 0 288.9px,#e2ceff 0 289.9px,#c0a2ff 0 290.9px,#f5eeff 0 291.9px,#f4d5e0 0 292.9px,#ffdace 0 293.9px,#ffcfbf 0 294.9px,#edd0e9 0 296.0px,#ffd0c0 0 297.0px,#bc98ff 0 298.0px,#d8c0ff 0 299.0px,#fee1d8 0 300.0px,#d0b3ff 0 301.0px,#ffbfab 0 302.0px,#ffe8df 0 303.0px,#c0a5ff 0 304.0px,#9c7aff 0 305.0px,#dbb4e4 0 306.0px,#d4b8f5 0 307.0px,#fff6f3 0 308.0px,#edd9f3 0 309.0px,#9b6fff 0 310.0px,#dec5f6 0 311.1px,#5e4bff 0 312.1px,#ceb0ff 0 313.1px,#e2bee5 0 314.1px,#e4d3ff 0 315.1px,#d3b9f8 0 316.1px,#b497ff 0 317.1px,#875aff 0 318.1px,#b189ff 0 319.1px,#603eff 0 320.1px,#f8f3ff 0 321.1px,#b089ff 0 322.1px,#ffad96 0 323.1px,#fbf8ff 0 324.1px,#c6a6ff 0 325.1px,#7c58ff 0 326.1px,#f6efff 0 327.1px,#fff7f3 0 328.2px,#ff3726 0 329.2px,#e8cdef 0 330.2px,#ffdbcf 0 331.2px,#d2baff 0 332.2px,#f7dde5 0 333.2px,#e6afcc 0 334.2px,#edd6f0 0 335.2px,#ffffff 0 341.1px,#eee2ff 0 342.1px,#d7bff9 0 343.1px,#8466ff 0 344.1px,#d3b8ff 0 345.1px,#faf1f8 0 346.1px,#f3eaff 0 347.1px,#e1cfff 0 348.1px,#0000ff 0 349.1px,#3c26ff 0 350.1px,#f1d7e8 0 351.1px,#ffad96 0 352.1px,#927dff 0 353.1px,#ffdbcf 0 354.1px,#fef7f7 0 355.1px,#ac83ff 0 356.1px,#a176ff 0 357.1px,#fce3e0 0 358.1px,#eadbff 0 359.1px,#fff5f2 0 360.1px,#f3cbd6 0 361.1px,#f6e8f6 0 362.1px,#ffcdbe 0 363.1px,#e9d4f6 0 364.1px,#faeff5 0 365.1px,#ecdaf7 0 366.1px,#d2b6ff 0 367.1px,#f7e1ea 0 368.1px,#a57bff 0 369.1px,#dac3ff 0 370.1px,#d3abe5 0 371.1px,#ba9bff 0 372.1px,#f5e6f4 0 373.1px,#d1b5ff 0 374.1px,#ffc8b7 0 375.1px,#ffccbb 0 376.1px,#f7d6db 0 377.0px,#ffefe9 0 378.0px,#ff9b7e 0 379.0px,#ffc4b0 0 380.0px,#f0e5ff 0 381.0px,#fceef0 0 382.0px,#ff452b 0 383.0px,#ffa68c 0 384.0px,#e8d7ff 0 385.0px,#ffcdbc 0 386.0px,#ffad94 0 387.0px,#ff9578 0 388.0px,#f8bcb9 0 389.0px,#f8eff9 0 390.0px,#f4e8f8 0 391.0px,#b18fff 0 392.0px,#ffeae2 0 393.0px,#fde6e1 0 394.0px,#d792c0 0 395.0px,#e2bde4 0 396.0px,#fcddd9 0 397.0px,#b28fff 0 398.0px,#fec2b4 0 399.0px,#e5c8ee 0 400.0px,#e5cbf1 0 401.0px,#ffddd0 0 402.0px,#ffd0bf 0 403.0px,#ffeae3 0 404.0px,#e8daff 0 405.0px,#ffd9cc 0 406.0px,#b48cff 0 407.0px,#ff5132 0 408.0px,#f3e9ff 0 409.0px,#ff9783 0 410.0px,#ffb49d 0 411.0px)"></div><div class="h" style="top:139.80px;height:4.82px;background:linear-gradient(90deg,#ffffff 0 0.0px,#ecddff 0 1.0px,#d7bfff 0 2.0px,#dfcbff 0 3.0px,#cdb6fe 0 4.0px,#ffb39b 0 5.0px,#d8beff 0 6.0px,#f4e7f8 0 7.0px,#f0e4ff 0 8.0px,#d4baff 0 9.0px,#cfb4ff 0 10.0px,#ceb2ff 0 10.9px,#ebddff 0 11.9px,#f8e2e9 0 12.9px,#fdf7f8 0 13.9px,#ffd1c2 0 14.9px,#d5c0ff 0 15.9px,#f3e9ff 0 16.9px,#ffcebd 0 17.9px,#dcc7fd 0 18.9px,#ffdfd3 0 19.9px,#cdaeff 0 20.9px,#f5ddea 0 21.9px,#ffab91 0 22.9px,#fbf0f4 0 23.9px,#f2e9ff 0 24.9px,#d9bfff 0 25.9px,#ecdeff 0 26.9px,#e8d8ff 0 27.9px,#fce5e3 0 28.9px,#e7d0f3 0 29.9px,#feeeea 0 30.9px,#f1e6ff 0 31.8px,#ede1fe 0 32.8px,#ffccbd 0 33.8px,#ffc4b1 0 34.8px,#ffac98 0 35.8px,#e8b2cb 0 36.8px,#ffd2c3 0 37.8px,#f1e4fc 0 38.8px,#fbcfc9 0 39.8px,#f5ecff 0 40.8px,#faf6ff 0 41.8px,#dac6ff 0 42.8px,#fceef0 0 43.8px,#ebcde8 0 44.8px,#e6d5ff 0 45.8px,#ffe1d6 0 46.8px,#6d42ff 0 47.8px,#c5a3ff 0 48.8px,#ddc0f0 0 49.8px,#ffcebd 0 50.8px,#e5c6eb 0 51.8px,#b69bff 0 52.7px,#e3d1ff 0 53.7px,#ffbda8 0 54.7px,#fbf1f6 0 55.7px,#f5d3dd 0 56.7px,#f0ddf3 0 57.7px,#e2cfff 0 58.7px,#c9b1fd 0 59.7px,#bc99ff 0 60.7px,#d8bfff 0 61.7px,#f5dde9 0 62.7px,#e1cdff 0 63.7px,#ffab95 0 64.7px,#ffe8e0 0 65.7px,#fff1ec 0 66.7px,#fde9e5 0 67.7px,#e2c4ee 0 68.7px,#fdedec 0 69.7px,#fdddd6 0 70.7px,#e0ccff 0 71.7px,#f6ebfa 0 72.6px,#ffdcd0 0 73.6px,#cfb8ff 0 74.6px,#f6dae1 0 75.6px,#d3b8ff 0 76.6px,#efe4ff 0 77.6px,#f7f1ff 0 78.6px,#eeddf8 0 79.6px,#ede0ff 0 80.6px,#f7f0ff 0 81.6px,#ffd3c4 0 82.6px,#fce6e4 0 83.6px,#dca7d2 0 84.6px,#ceb1ff 0 85.6px,#ffece5 0 86.6px,#ffc2ad 0 87.6px,#e2cfff 0 88.6px,#c4a2ff 0 89.6px,#4e38ff 0 90.6px,#b092ff 0 91.6px,#ceb0ff 0 92.6px,#d1b5ff 0 93.5px,#c09dff 0 94.5px,#ffc1ac 0 95.5px,#f9f1fa 0 96.5px,#f7dae1 0 97.5px,#e1ccff 0 98.5px,#c9a9ff 0 99.5px,#f4e4f5 0 100.5px,#ebddff 0 101.5px,#e9d9ff 0 102.5px,#fceded 0 103.5px,#ffffff 0 109.7px,#ffdbcf 0 110.7px,#ff5b3c 0 111.7px,#ff6448 0 112.7px,#ffc0ab 0 113.7px,#fff5f1 0 114.7px,#ff977c 0 115.7px,#f7ecf9 0 116.7px,#ffb9a3 0 117.7px,#d3bbff 0 118.7px,#e8d7ff 0 119.7px,#d6beff 0 120.7px,#fdeeec 0 121.7px,#f8f3fe 0 122.7px,#a67fff 0 123.7px,#a77dff 0 124.7px,#ffe7e0 0 125.7px,#ffac94 0 126.7px,#ffbba5 0 127.7px,#ffebe4 0 128.7px,#ff1d0f 0 129.7px,#ffbfaa 0 130.7px,#ff8666 0 131.7px,#ffa286 0 132.7px,#ffd8cb 0 133.8px,#fdebe8 0 134.8px,#f7f0ff 0 135.8px,#ead9fa 0 136.8px,#dbc5fc 0 137.8px,#f9e9f1 0 138.8px,#fbeef1 0 139.8px,#f7dce2 0 140.8px,#ffcbb9 0 141.8px,#ffcec0 0 142.8px,#ff4229 0 143.8px,#ffbba5 0 144.8px,#ff8969 0 145.8px,#ffac92 0 146.8px,#f0cdde 0 147.8px,#ffddd2 0 148.8px,#ff957e 0 149.8px,#ffefe9 0 150.8px,#ff8d6e 0 151.8px,#ffbfab 0 152.8px,#ffded2 0 153.8px,#f0b1bb 0 154.8px,#ffa185 0 155.8px,#fbf4fa 0 156.8px,#ffffff 0 162.6px,#f0e4ff 0 163.6px,#ffe5dc 0 164.6px,#e0caff 0 165.6px,#f5e8f9 0 166.6px,#c09eff 0 167.6px,#ffebe4 0 168.6px,#c5a2ff 0 169.5px,#f6ecfa 0 170.5px,#cdafff 0 171.5px,#ab82ff 0 172.5px,#ffb69f 0 173.5px,#ffb8a7 0 174.5px,#fae2e4 0 175.5px,#c9aaff 0 176.5px,#e2cefb 0 177.5px,#f7ecf7 0 178.5px,#d7bdff 0 179.5px,#feeeea 0 180.5px,#b993ff 0 181.4px,#fdfbff 0 182.4px,#bd98ff 0 183.4px,#f0e5ff 0 184.4px,#efe4ff 0 185.4px,#ff8a6a 0 186.4px,#decbff 0 187.4px,#e9d2f4 0 188.4px,#ffd7ca 0 189.4px,#e4d2ff 0 190.4px,#ffa98e 0 191.4px,#fcf7fc 0 192.4px,#fdf4f5 0 193.3px,#f3c5cd 0 194.3px,#f6dce4 0 195.3px,#f0dbf0 0 196.3px,#ffe1d7 0 197.3px,#f2deef 0 198.3px,#ffa488 0 199.3px,#ffffff 0 205.1px,#f3eaff 0 206.1px,#ede0ff 0 207.1px,#f7e9f3 0 208.1px,#fcf7fb 0 209.1px,#e8d8ff 0 210.1px,#f7e4ee 0 211.2px,#f7dde3 0 212.2px,#fef1ed 0 213.2px,#f9ecf4 0 214.2px,#ffcab8 0 215.2px,#ffbaa5 0 216.2px,#bb96ff 0 217.2px,#ffa58b 0 218.2px,#f8e8f2 0 219.2px,#ffd2c2 0 220.2px,#f6e1eb 0 221.2px,#ffc6b3 0 222.3px,#ffcbba 0 223.3px,#eee2ff 0 224.3px,#faf3fa 0 225.3px,#ffe9e1 0 226.3px,#ffd0c0 0 227.3px,#e7d6ff 0 228.3px,#eedcf6 0 229.3px,#f9f4ff 0 230.3px,#eadbff 0 231.3px,#ffd1c2 0 232.4px,#e3d0fd 0 233.4px,#dac5ff 0 234.4px,#cfb5ff 0 235.4px,#fdf1f2 0 236.4px,#d5bbff 0 237.4px,#fff3ee 0 238.4px,#edd1e9 0 239.4px,#eee2ff 0 240.4px,#f4ebfe 0 241.4px,#ffe7de 0 242.4px,#ceb1ff 0 243.5px,#d0b2ff 0 244.5px,#dec8ff 0 245.5px,#ffd3c4 0 246.5px,#ffbda7 0 247.5px,#f1e8ff 0 248.5px,#ffffff 0 254.7px,#ffcaba 0 255.7px,#e0cbff 0 256.7px,#ede0ff 0 257.7px,#d0b3ff 0 258.7px,#dac2ff 0 259.7px,#f8f3ff 0 260.7px,#fef3f1 0 261.7px,#ffe9e1 0 262.8px,#e0cbff 0 263.8px,#eee2ff 0 264.8px,#eadafb 0 265.8px,#ddc6ff 0 266.8px,#dcc9ff 0 267.8px,#ecdeff 0 268.8px,#b792ff 0 269.8px,#ffcfc0 0 270.8px,#f7eefc 0 271.8px,#e9dbff 0 272.8px,#efe4ff 0 273.8px,#f2ddee 0 274.8px,#dfccff 0 275.8px,#ffdfd4 0 276.8px,#d9c2fb 0 277.8px,#f8e9f2 0 278.8px,#c0a1ff 0 279.9px,#e3cfff 0 280.9px,#f0e5ff 0 281.9px,#cbb0ff 0 282.9px,#eee2ff 0 283.9px,#b791ff 0 284.9px,#ffefe9 0 285.9px,#d8bfff 0 286.9px,#ffd1c1 0 287.9px,#ffac92 0 288.9px,#e7d7ff 0 289.9px,#ffb29b 0 290.9px,#ffd7c9 0 291.9px,#ffccbb 0 292.9px,#ffc8b5 0 293.9px,#f8d5d6 0 294.9px,#ffd5c6 0 296.0px,#b591ff 0 297.0px,#ffe1d6 0 298.0px,#f3e9fd 0 299.0px,#fef6f4 0 300.0px,#ffd7ca 0 301.0px,#f6dee7 0 302.0px,#ffb7a0 0 303.0px,#ebdcfc 0 304.0px,#e5d0f8 0 305.0px,#c9acff 0 306.0px,#f3e7fb 0 307.0px,#faf7ff 0 308.0px,#8e68ff 0 309.0px,#ffe7de 0 310.0px,#f4dfee 0 311.1px,#ffcdbd 0 312.1px,#ffddd1 0 313.1px,#fbe1e0 0 314.1px,#fff0ea 0 315.1px,#ff5041 0 316.1px,#fddcd4 0 317.1px,#fff7f4 0 318.1px,#ffc8b6 0 319.1px,#ffe9e1 0 320.1px,#fde1dd 0 321.1px,#ffd3c4 0 322.1px,#fff5f1 0 323.1px,#ffebe4 0 324.1px,#ffd3c4 0 325.1px,#fff8f5 0 326.1px,#ffc3b0 0 327.1px,#fdf2f3 0 328.2px,#faf4fc 0 329.2px,#fff0eb 0 330.2px,#ddc6ff 0 331.2px,#ff9071 0 332.2px,#ccacff 0 333.2px,#ddbae9 0 334.2px,#ffae96 0 335.2px,#ffffff 0 341.1px,#fcf8fd 0 342.1px,#faedf3 0 343.1px,#a074ff 0 344.1px,#fcd4ce 0 345.1px,#ab82ff 0 346.1px,#e5ccf1 0 347.1px,#f9eff7 0 348.1px,#d3b2f0 0 349.1px,#ba9aff 0 350.1px,#c3a4ff 0 351.1px,#ffe2d8 0 352.1px,#cbacff 0 353.1px,#decaff 0 354.1px,#d4baff 0 355.1px,#a77dff 0 356.1px,#e0cbff 0 357.1px,#d1b6ff 0 358.1px,#fdedec 0 359.1px,#feddd3 0 360.1px,#ffcab8 0 361.1px,#e9d9ff 0 362.1px,#ddc6ff 0 363.1px,#ffcbba 0 364.1px,#ffe0d6 0 365.1px,#faeef3 0 366.1px,#ffb8a1 0 367.1px,#ffd4c6 0 368.1px,#e9c2df 0 369.1px,#ffd6c8 0 370.1px,#ddc6ff 0 371.1px,#f2def0 0 372.1px,#ffebe4 0 373.1px,#fedad0 0 374.1px,#ffcab9 0 375.1px,#ffb6a0 0 376.1px,#e9daff 0 377.0px,#ffd5c6 0 378.0px,#e3cfff 0 379.0px,#f0e5ff 0 380.0px,#ebddff 0 381.0px,#ddc7ff 0 382.0px,#fef8f8 0 383.0px,#f8d2d4 0 384.0px,#ffc3af 0 385.0px,#ffb39b 0 386.0px,#fffdfc 0 387.0px,#f2e9ff 0 388.0px,#fdf6f7 0 389.0px,#d1b8ff 0 390.0px,#a881ff 0 391.0px,#f1e7ff 0 392.0px,#c7a9ff 0 393.0px,#ffb39b 0 394.0px,#ffe0d5 0 395.0px,#e9daff 0 396.0px,#faf5fd 0 397.0px,#ffe3d9 0 398.0px,#fff2ed 0 399.0px,#dec8ff 0 400.0px,#e6d5ff 0 401.0px,#ffe6dd 0 402.0px,#d2b7ff 0 403.0px,#ffd6c7 0 404.0px,#ffcbba 0 405.0px,#fdc6ba 0 406.0px,#efe3ff 0 407.0px,#ebddff 0 408.0px,#fadfdf 0 409.0px,#fae6e7 0 410.0px,#c09eff 0 411.0px)"></div><div class="h" style="top:144.60px;height:4.82px;background:linear-gradient(90deg,#ffffff 0 0.0px,#e5d3ff 0 1.0px,#d4bfff 0 2.0px,#dec7ff 0 3.0px,#d5bffc 0 4.0px,#ffd5c6 0 5.0px,#dac2ff 0 6.0px,#efe3ff 0 7.0px,#fffcfb 0 8.0px,#ceb0ff 0 9.0px,#c5a3ff 0 10.0px,#cab1fb 0 10.9px,#e3d0ff 0 11.9px,#f0e1f9 0 12.9px,#faeff4 0 13.9px,#feeeeb 0 14.9px,#cbb5ff 0 15.9px,#f6e7f3 0 16.9px,#ffd3c4 0 17.9px,#ecd4f0 0 18.9px,#ffdbce 0 19.9px,#e3d2fe 0 20.9px,#fff3ef 0 21.9px,#ffbaa5 0 22.9px,#facdca 0 23.9px,#eee0fc 0 24.9px,#e2cfff 0 25.9px,#e1cdff 0 26.9px,#d5bbff 0 27.9px,#ffcbbc 0 28.9px,#f8ebf4 0 29.9px,#ffd7c9 0 30.9px,#e4d2ff 0 31.8px,#ffefe9 0 32.8px,#ffece6 0 33.8px,#ffbea9 0 34.8px,#ffc2b0 0 35.8px,#f8c7c7 0 36.8px,#fceae9 0 37.8px,#f7e0e8 0 38.8px,#f8c5c4 0 39.8px,#dac1ff 0 40.8px,#f2d9ea 0 41.8px,#e3d1ff 0 42.8px,#feede8 0 43.8px,#ebb9ce 0 44.8px,#d8bfff 0 45.8px,#f4c7cf 0 46.8px,#6e45ff 0 47.8px,#d2b7ff 0 48.8px,#e3d1ff 0 49.8px,#f9eef6 0 50.8px,#eaddff 0 51.8px,#c0a1ff 0 52.7px,#cfb3ff 0 53.7px,#ffe1d6 0 54.7px,#ede0fe 0 55.7px,#efacb8 0 56.7px,#e1bae1 0 57.7px,#e6cbef 0 58.7px,#ccadff 0 59.7px,#b089ff 0 60.7px,#dfcbff 0 61.7px,#e3d1ff 0 62.7px,#e8c9e9 0 63.7px,#ffb8a4 0 64.7px,#ffb49d 0 65.7px,#fbf0f4 0 66.7px,#f7e2ea 0 67.7px,#d4bbff 0 68.7px,#faebf1 0 69.7px,#fcecec 0 70.7px,#c1a2ff 0 71.7px,#dcc6ff 0 72.6px,#ffc1ac 0 73.6px,#d1b5ff 0 74.6px,#f9eff7 0 75.6px,#d5bcff 0 76.6px,#f4e8f9 0 77.6px,#eadcff 0 78.6px,#e1cdff 0 79.6px,#fffcfa 0 80.6px,#ede1ff 0 81.6px,#ffbba5 0 82.6px,#ffccbd 0 83.6px,#f4cbd3 0 84.6px,#dfc9ff 0 85.6px,#f3eaff 0 86.6px,#ffd6c8 0 87.6px,#dbc2f6 0 88.6px,#9e76ff 0 89.6px,#442eff 0 90.6px,#b791ff 0 91.6px,#ceb1ff 0 92.6px,#e8d9ff 0 93.5px,#b189ff 0 94.5px,#ffc8b6 0 95.5px,#e0ceff 0 96.5px,#ffcfbe 0 97.5px,#deb9e6 0 98.5px,#e4d1ff 0 99.5px,#f5d8e2 0 100.5px,#dac1ff 0 101.5px,#e6d5ff 0 102.5px,#e2d1ff 0 103.5px,#ffffff 0 109.7px,#ffd5c7 0 110.7px,#ff5135 0 111.7px,#ff805f 0 112.7px,#ffddd0 0 113.7px,#fef8f8 0 114.7px,#ff9278 0 115.7px,#ffd0bf 0 116.7px,#ffa185 0 117.7px,#e3cfff 0 118.7px,#e0cbff 0 119.7px,#dec8ff 0 120.7px,#ffe4db 0 121.7px,#dec7ff 0 122.7px,#8055ff 0 123.7px,#b38eff 0 124.7px,#ffcbba 0 125.7px,#ff9a7f 0 126.7px,#ffc6b3 0 127.7px,#ffeae2 0 128.7px,#ff180c 0 129.7px,#ffc0ad 0 130.7px,#ffa287 0 131.7px,#ff8869 0 132.7px,#fff7f3 0 133.8px,#fcedef 0 134.8px,#eadaff 0 135.8px,#e7d6ff 0 136.8px,#ceb0ff 0 137.8px,#ffded3 0 138.8px,#f8cdcd 0 139.8px,#fff0eb 0 140.8px,#ffb8a1 0 141.8px,#ffb7a1 0 142.8px,#ff160b 0 143.8px,#ffd2c3 0 144.8px,#ff8869 0 145.8px,#ff9c7f 0 146.8px,#fadbd9 0 147.8px,#ffc5b2 0 148.8px,#ff9d80 0 149.8px,#ffe7de 0 150.8px,#ffaa90 0 151.8px,#ffb099 0 152.8px,#fdddd6 0 153.8px,#efcde0 0 154.8px,#ffb29a 0 155.8px,#fef2f0 0 156.8px,#ffffff 0 162.6px,#c9a8ff 0 163.6px,#f0d1e2 0 164.6px,#d0b8ff 0 165.6px,#d9c0ff 0 166.6px,#a680ff 0 167.6px,#ffeee8 0 168.6px,#bb95ff 0 169.5px,#fbf8ff 0 170.5px,#b48cff 0 171.5px,#c7a7ff 0 172.5px,#ffd7c9 0 173.5px,#f8ccca 0 174.5px,#ffdfd3 0 175.5px,#b791ff 0 176.5px,#e4cff9 0 177.5px,#eaddff 0 178.5px,#a378ff 0 179.5px,#f8f2ff 0 180.5px,#bb96ff 0 181.4px,#f2e9ff 0 182.4px,#dfccfd 0 183.4px,#e7d7fd 0 184.4px,#e8d8ff 0 185.4px,#ff9275 0 186.4px,#ceb1ff 0 187.4px,#f8e4ec 0 188.4px,#ffbca7 0 189.4px,#f2e8ff 0 190.4px,#ffbea9 0 191.4px,#ddc7ff 0 192.4px,#ffcfbe 0 193.3px,#f3c8d2 0 194.3px,#fde4e0 0 195.3px,#ede0ff 0 196.3px,#ffc1ad 0 197.3px,#e6b6d4 0 198.3px,#ff8d6f 0 199.3px,#ffffff 0 205.1px,#f2e9ff 0 206.1px,#eee1ff 0 207.1px,#e7ccef 0 208.1px,#fedbd1 0 209.1px,#f9eaf1 0 210.1px,#fcf7fc 0 211.2px,#ffb7a0 0 212.2px,#ffdbcf 0 213.2px,#ffcaba 0 214.2px,#ffaa91 0 215.2px,#ffdccf 0 216.2px,#bb97ff 0 217.2px,#ff9b7e 0 218.2px,#f8ebf4 0 219.2px,#ffe1d6 0 220.2px,#fdfcff 0 221.2px,#ffc4b1 0 222.3px,#ffaa90 0 223.3px,#f7e0e7 0 224.3px,#edd3ec 0 225.3px,#fbd9d6 0 226.3px,#fefafa 0 227.3px,#dcc4ff 0 228.3px,#dcc8ff 0 229.3px,#dac2ff 0 230.3px,#fdf7f8 0 231.3px,#ffd5c6 0 232.4px,#bf9bff 0 233.4px,#e8d8ff 0 234.4px,#e1cffe 0 235.4px,#f1ddf0 0 236.4px,#c8a7ff 0 237.4px,#ffd7c9 0 238.4px,#f6cbd0 0 239.4px,#d3baff 0 240.4px,#e8d9ff 0 241.4px,#fbe5e5 0 242.4px,#b68fff 0 243.5px,#c6a6ff 0 244.5px,#d0b3ff 0 245.5px,#ffe5db 0 246.5px,#ffa78e 0 247.5px,#ffccbb 0 248.5px,#ffffff 0 254.7px,#ffc0ac 0 255.7px,#e1cdff 0 256.7px,#f7f2ff 0 257.7px,#cdafff 0 258.7px,#dfc8ff 0 259.7px,#e3cffb 0 260.7px,#ffd8cb 0 261.7px,#ffbda7 0 262.8px,#dcc5ff 0 263.8px,#ddc7ff 0 264.8px,#f4d6e2 0 265.8px,#cfb3ff 0 266.8px,#dfcaff 0 267.8px,#ebddff 0 268.8px,#8f63ff 0 269.8px,#f5c6cb 0 270.8px,#f6e8f5 0 271.8px,#dbc4ff 0 272.8px,#fbf1f5 0 273.8px,#fdf2f3 0 274.8px,#fae8ed 0 275.8px,#f6efff 0 276.8px,#b395ff 0 277.8px,#ffcebe 0 278.8px,#b894ff 0 279.9px,#c19fff 0 280.9px,#ffddd2 0 281.9px,#d4b9ff 0 282.9px,#d5bdff 0 283.9px,#d0b3ff 0 284.9px,#fcf1f3 0 285.9px,#be9aff 0 286.9px,#ffd3c4 0 287.9px,#ffbba4 0 288.9px,#fad9d9 0 289.9px,#ffdfd4 0 290.9px,#ffb39c 0 291.9px,#ffcbb9 0 292.9px,#ffd0c0 0 293.9px,#facfcb 0 294.9px,#ffeee8 0 296.0px,#a77dff 0 297.0px,#fff9f6 0 298.0px,#f0e4ff 0 299.0px,#fde9e5 0 300.0px,#ffdbcf 0 301.0px,#f3d6e4 0 302.0px,#ffa58d 0 303.0px,#f4c8d0 0 304.0px,#efdaf1 0 305.0px,#cbb0ff 0 306.0px,#f1e7ff 0 307.0px,#fcf3f6 0 308.0px,#794fff 0 309.0px,#fbe9eb 0 310.0px,#ffefe9 0 311.1px,#ffcbba 0 312.1px,#ffc4b1 0 313.1px,#ffe8e0 0 314.1px,#fbdcd9 0 315.1px,#ff0000 0 316.1px,#f3dae8 0 317.1px,#f1e7ff 0 318.1px,#ffd4c5 0 319.1px,#ffe9e1 0 320.1px,#ffd8cb 0 321.1px,#ffcab8 0 322.1px,#f2e1f4 0 323.1px,#f3dded 0 324.1px,#ffd9cc 0 325.1px,#ffeee7 0 326.1px,#ffbba7 0 327.1px,#ffede6 0 328.2px,#fbf9ff 0 329.2px,#f5e4f2 0 330.2px,#bb96ff 0 331.2px,#ff7f60 0 332.2px,#cbacff 0 333.2px,#d4bcfb 0 334.2px,#ffae94 0 335.2px,#ffffff 0 341.1px,#fff2ed 0 342.1px,#ffded3 0 343.1px,#9d72ff 0 344.1px,#ffece5 0 345.1px,#9772ff 0 346.1px,#e2ceff 0 347.1px,#f4ebff 0 348.1px,#cfb2ff 0 349.1px,#9c70ff 0 350.1px,#a57aff 0 351.1px,#ffcfbf 0 352.1px,#b995ff 0 353.1px,#bf9fff 0 354.1px,#e1cdff 0 355.1px,#b790ff 0 356.1px,#e6d5ff 0 357.1px,#cbacff 0 358.1px,#fff6f3 0 359.1px,#ffe9e2 0 360.1px,#ffa98e 0 361.1px,#f8effb 0 362.1px,#f8e7ee 0 363.1px,#ffccbb 0 364.1px,#fffbfa 0 365.1px,#eee2ff 0 366.1px,#ffbda7 0 367.1px,#ffcbba 0 368.1px,#e9d4f6 0 369.1px,#ffd1c1 0 370.1px,#a980ff 0 371.1px,#ffeae2 0 372.1px,#fae8ec 0 373.1px,#ffebe3 0 374.1px,#f8d4d6 0 375.1px,#ffa185 0 376.1px,#c7aaff 0 377.0px,#ffccbc 0 378.0px,#e5d3ff 0 379.0px,#fdf1f1 0 380.0px,#fcf1f4 0 381.0px,#d1b4ff 0 382.0px,#fbf3f8 0 383.0px,#ffd9cc 0 384.0px,#ffa286 0 385.0px,#ffb9a3 0 386.0px,#ecd8f5 0 387.0px,#e3d0ff 0 388.0px,#e8bdd8 0 389.0px,#e4d4ff 0 390.0px,#cfb3ff 0 391.0px,#eee0fc 0 392.0px,#d3bcff 0 393.0px,#ffdbcf 0 394.0px,#ffd0c0 0 395.0px,#c4a7ff 0 396.0px,#e8d9ff 0 397.0px,#e4d0ff 0 398.0px,#ffefe9 0 399.0px,#ceb0ff 0 400.0px,#ad85ff 0 401.0px,#fddbd2 0 402.0px,#b993ff 0 403.0px,#ffe6dd 0 404.0px,#ffcab9 0 405.0px,#f5cfd5 0 406.0px,#e2cfff 0 407.0px,#dcc5ff 0 408.0px,#fffcfb 0 409.0px,#f9e0e3 0 410.0px,#b18eff 0 411.0px)"></div><div class="h" style="top:149.40px;height:4.82px;background:linear-gradient(90deg,#ffffff 0 0.0px,#b191ff 0 1.0px,#a780ff 0 2.0px,#b48dff 0 3.0px,#a180ff 0 4.0px,#ffded2 0 5.0px,#a680ff 0 6.0px,#d0b8ff 0 7.0px,#ecddfb 0 8.0px,#b994ff 0 9.0px,#a277ff 0 10.0px,#7456ff 0 10.9px,#cdafff 0 11.9px,#efd1e6 0 12.9px,#f0e4ff 0 13.9px,#ffdfd4 0 14.9px,#a077ff 0 15.9px,#d9c1ff 0 16.9px,#ffddd0 0 17.9px,#d7bfff 0 18.9px,#ebc2da 0 19.9px,#b594ff 0 20.9px,#faf2fa 0 21.9px,#ffd3c4 0 22.9px,#e0c3ef 0 23.9px,#dbc5ff 0 24.9px,#b18cff 0 25.9px,#cfb1ff 0 26.9px,#b993ff 0 27.9px,#fffbfa 0 28.9px,#e7d5ff 0 29.9px,#eed8f2 0 30.9px,#dfc9ff 0 31.8px,#dac5ff 0 32.8px,#f5e9fa 0 33.8px,#ffb097 0 34.8px,#f5aaaa 0 35.8px,#ddcafe 0 36.8px,#f8e8f2 0 37.8px,#cdaeff 0 38.8px,#f6e5f0 0 39.8px,#b894ff 0 40.8px,#e4d2ff 0 41.8px,#9e80ff 0 42.8px,#e5d3ff 0 43.8px,#e7cbee 0 44.8px,#9a6eff 0 45.8px,#ecc1d5 0 46.8px,#0000ff 0 47.8px,#8558ff 0 48.8px,#d3b5f4 0 49.8px,#f2e4f9 0 50.8px,#d6bdff 0 51.8px,#9b82ff 0 52.7px,#a077ff 0 53.7px,#fcd8d2 0 54.7px,#c19fff 0 55.7px,#f3c5ce 0 56.7px,#9e8aff 0 57.7px,#e2d0ff 0 58.7px,#b693ff 0 59.7px,#6a42ff 0 60.7px,#b28aff 0 61.7px,#cfb2ff 0 62.7px,#d0bbff 0 63.7px,#ffaf99 0 64.7px,#f9e1e5 0 65.7px,#d6bcff 0 66.7px,#e3caf4 0 67.7px,#ddbdec 0 68.7px,#eac8e4 0 69.7px,#e0cdfe 0 70.7px,#9f73ff 0 71.7px,#a584ff 0 72.6px,#ffd0c0 0 73.6px,#a37eff 0 74.6px,#f7f1ff 0 75.6px,#a77dff 0 76.6px,#d7bdff 0 77.6px,#ceb0ff 0 78.6px,#ccaeff 0 79.6px,#9063ff 0 80.6px,#edd9f4 0 81.6px,#ffc1ad 0 82.6px,#f2acb2 0 83.6px,#e2c0e7 0 84.6px,#ad8eff 0 85.6px,#e0ccff 0 86.6px,#ffd6c9 0 87.6px,#a78cff 0 88.6px,#a277ff 0 89.6px,#0000ff 0 90.6px,#5d4aff 0 91.6px,#a884ff 0 92.6px,#a57cff 0 93.5px,#7c53ff 0 94.5px,#ffd8cb 0 95.5px,#d3b8ff 0 96.5px,#fcd9d4 0 97.5px,#a17cff 0 98.5px,#a177ff 0 99.5px,#d2baff 0 100.5px,#bf9bff 0 101.5px,#deccff 0 102.5px,#c19eff 0 103.5px,#ffffff 0 109.7px,#ffdacd 0 110.7px,#ff4838 0 111.7px,#ff6d4c 0 112.7px,#ffb39a 0 113.7px,#efe4fd 0 114.7px,#ffa68d 0 115.7px,#ffe1d6 0 116.7px,#ffb7a0 0 117.7px,#c6a8ff 0 118.7px,#ad86ff 0 119.7px,#b08eff 0 120.7px,#f6d6dd 0 121.7px,#dcc5ff 0 122.7px,#3d23ff 0 123.7px,#613cff 0 124.7px,#fff0ea 0 125.7px,#ff9b82 0 126.7px,#ffc4b0 0 127.7px,#e0cdff 0 128.7px,#ff2213 0 129.7px,#ffa489 0 130.7px,#ffae94 0 131.7px,#ff8665 0 132.7px,#ffddd1 0 133.8px,#e8d9ff 0 134.8px,#e9daff 0 135.8px,#d4b9ff 0 136.8px,#bca1ff 0 137.8px,#dac1ff 0 138.8px,#ecc9e2 0 139.8px,#ffcab8 0 140.8px,#ffd8cb 0 141.8px,#ffcfbf 0 142.8px,#ff0000 0 143.8px,#ffd6c7 0 144.8px,#ffa589 0 145.8px,#ffb8a1 0 146.8px,#eccfe9 0 147.8px,#ffc6b3 0 148.8px,#ffa58b 0 149.8px,#f3e9fe 0 150.8px,#ff9577 0 151.8px,#f9d0cf 0 152.8px,#ffe6dd 0 153.8px,#e2bee5 0 154.8px,#ffa488 0 155.8px,#f4e6f8 0 156.8px,#ffffff 0 162.6px,#c5a3ff 0 163.6px,#d9c5ff 0 164.6px,#9972ff 0 165.6px,#c2a0ff 0 166.6px,#7c54ff 0 167.6px,#e7d6ff 0 168.6px,#6038ff 0 169.5px,#e9daff 0 170.5px,#6c41ff 0 171.5px,#845cff 0 172.5px,#ffe1d6 0 173.5px,#ffae9c 0 174.5px,#eadbff 0 175.5px,#a379ff 0 176.5px,#bd9eff 0 177.5px,#cbadff 0 178.5px,#8058ff 0 179.5px,#eee1ff 0 180.5px,#2816ff 0 181.4px,#d4baff 0 182.4px,#5d4aff 0 183.4px,#bb9aff 0 184.4px,#9f74ff 0 185.4px,#ff9b7f 0 186.4px,#916aff 0 187.4px,#e4c2e7 0 188.4px,#fef5f3 0 189.4px,#d2b7ff 0 190.4px,#ffefe9 0 191.4px,#c3a2ff 0 192.4px,#fff1eb 0 193.3px,#dba9d6 0 194.3px,#f1d5e6 0 195.3px,#c6a7ff 0 196.3px,#feefec 0 197.3px,#e0cdff 0 198.3px,#ffcbba 0 199.3px,#ffffff 0 205.1px,#bf9bff 0 206.1px,#d6bcff 0 207.1px,#dab8eb 0 208.1px,#ebdcff 0 209.1px,#ddc7ff 0 210.1px,#ceb0ff 0 211.2px,#fadcdb 0 212.2px,#fff4f0 0 213.2px,#f8f2ff 0 214.2px,#ffdbcf 0 215.2px,#eee2ff 0 216.2px,#7b55ff 0 217.2px,#ffcbbb 0 218.2px,#e0cdff 0 219.2px,#ffe3d8 0 220.2px,#dec8ff 0 221.2px,#fdf3f3 0 222.3px,#ffd6c8 0 223.3px,#eadbff 0 224.3px,#b993ff 0 225.3px,#fadede 0 226.3px,#fbf5fb 0 227.3px,#d3baff 0 228.3px,#d4b8ff 0 229.3px,#9c7aff 0 230.3px,#f4ecff 0 231.3px,#ffe0d5 0 232.4px,#ac84ff 0 233.4px,#c8aaff 0 234.4px,#9368ff 0 235.4px,#d9bfff 0 236.4px,#c7a6ff 0 237.4px,#ffebe4 0 238.4px,#dcbdee 0 239.4px,#a178ff 0 240.4px,#ceb3ff 0 241.4px,#ddc6ff 0 242.4px,#a57bff 0 243.5px,#784cff 0 244.5px,#b48dff 0 245.5px,#ffe7de 0 246.5px,#ffc1ae 0 247.5px,#dfcaff 0 248.5px,#ffffff 0 254.7px,#ffe0d5 0 255.7px,#bc97ff 0 256.7px,#dfcaff 0 257.7px,#936bff 0 258.7px,#b892ff 0 259.7px,#d8c2fd 0 260.7px,#fbeef3 0 261.7px,#ffe4db 0 262.8px,#a77fff 0 263.8px,#9a70ff 0 264.8px,#f7eef9 0 265.8px,#b28aff 0 266.8px,#e2d1ff 0 267.8px,#9367ff 0 268.8px,#503aff 0 269.8px,#eaccea 0 270.8px,#bb9dff 0 271.8px,#a57fff 0 272.8px,#c29fff 0 273.8px,#ddc7ff 0 274.8px,#bb97ff 0 275.8px,#d1b5ff 0 276.8px,#6d61ff 0 277.8px,#f8dee3 0 278.8px,#956eff 0 279.9px,#b088ff 0 280.9px,#ebddff 0 281.9px,#ad84ff 0 282.9px,#bf9dff 0 283.9px,#6a43ff 0 284.9px,#f1e7ff 0 285.9px,#aa85ff 0 286.9px,#ffc7b4 0 287.9px,#ffddd2 0 288.9px,#ede0ff 0 289.9px,#facecb 0 290.9px,#fcd4ce 0 291.9px,#ffefe9 0 292.9px,#ffc4b1 0 293.9px,#f1d1e2 0 294.9px,#fbf6fd 0 296.0px,#4121ff 0 297.0px,#e0cbff 0 298.0px,#fdf3f4 0 299.0px,#fdf2f3 0 300.0px,#e6d6ff 0 301.0px,#dbc1f6 0 302.0px,#ffb7a3 0 303.0px,#d2b8ff 0 304.0px,#ae85ff 0 305.0px,#9a72ff 0 306.0px,#d9c3ff 0 307.0px,#e3d0ff 0 308.0px,#2212ff 0 309.0px,#f3eaff 0 310.0px,#caaeff 0 311.1px,#ffbaa4 0 312.1px,#ffece5 0 313.1px,#f5eeff 0 314.1px,#eabed7 0 315.1px,#ff2f1e 0 316.1px,#f1e0f6 0 317.1px,#a87fff 0 318.1px,#ffddd1 0 319.1px,#e4caf1 0 320.1px,#fee5df 0 321.1px,#ffd3c6 0 322.1px,#d3b7ff 0 323.1px,#e1ceff 0 324.1px,#ffeae3 0 325.1px,#e6d4fb 0 326.1px,#f2d8e8 0 327.1px,#e2aed0 0 328.2px,#cbafff 0 329.2px,#e6c7e9 0 330.2px,#a77dff 0 331.2px,#ff7556 0 332.2px,#6b41ff 0 333.2px,#a784ff 0 334.2px,#ffc4b0 0 335.2px,#ffffff 0 341.1px,#dfcbff 0 342.1px,#ecd6f2 0 343.1px,#2916ff 0 344.1px,#e7d7ff 0 345.1px,#8157ff 0 346.1px,#b089ff 0 347.1px,#d2b7ff 0 348.1px,#ba94ff 0 349.1px,#0000ff 0 350.1px,#7b51ff 0 351.1px,#fde9e7 0 352.1px,#8b5fff 0 353.1px,#9a7eff 0 354.1px,#ceb0ff 0 355.1px,#8054ff 0 356.1px,#e5d5ff 0 357.1px,#b892ff 0 358.1px,#f0e5ff 0 359.1px,#f3deee 0 360.1px,#ffe2d7 0 361.1px,#c3a1ff 0 362.1px,#eacfed 0 363.1px,#ffd9cc 0 364.1px,#e7c7e8 0 365.1px,#dfc9ff 0 366.1px,#ffbea8 0 367.1px,#eed1e7 0 368.1px,#ebdcff 0 369.1px,#f9cecc 0 370.1px,#4f3aff 0 371.1px,#ffebe3 0 372.1px,#fffdfd 0 373.1px,#f4eafc 0 374.1px,#d6b5ee 0 375.1px,#ff7f63 0 376.1px,#b792ff 0 377.0px,#ffe0d6 0 378.0px,#c8a8ff 0 379.0px,#d6bfff 0 380.0px,#e7d6ff 0 381.0px,#cdb5ff 0 382.0px,#ead1f0 0 383.0px,#fcf5f8 0 384.0px,#ffa78f 0 385.0px,#ffd1c1 0 386.0px,#e7d7ff 0 387.0px,#d1b5ff 0 388.0px,#eee1ff 0 389.0px,#9f88f5 0 390.0px,#7b4fff 0 391.0px,#e7d4fa 0 392.0px,#ab8bff 0 393.0px,#ffc4b2 0 394.0px,#d4baff 0 395.0px,#986cff 0 396.0px,#c1a0ff 0 397.0px,#d3b7ff 0 398.0px,#ffe9e1 0 399.0px,#8054ff 0 400.0px,#a277ff 0 401.0px,#ecd4ef 0 402.0px,#7c50ff 0 403.0px,#ffe0d5 0 404.0px,#f6d1d7 0 405.0px,#facdc9 0 406.0px,#c4a6ff 0 407.0px,#c09dff 0 408.0px,#cfb5ff 0 409.0px,#fee6e0 0 410.0px,#6c49ff 0 411.0px)"></div><div class="h" style="top:161.40px;height:4.92px;background:linear-gradient(90deg,#ffffff 0 0.0px,#7352ff 0 1.0px,#8b5fff 0 2.0px,#a680ff 0 3.0px,#cdafff 0 4.0px,#d6bcff 0 5.0px,#efdcf3 0 6.0px,#fcf7fb 0 7.0px,#f7f1ff 0 8.0px,#f7e5ef 0 9.0px,#ffe5db 0 10.0px,#ffd5c6 0 10.9px,#d0b2f3 0 11.9px,#d3b7ff 0 12.9px,#ffdfd3 0 13.9px,#ffd2c2 0 14.9px,#e0bce5 0 15.9px,#f0ccde 0 16.9px,#9063ff 0 17.9px,#e1ccff 0 18.9px,#ddc0f1 0 19.9px,#9f77ff 0 20.9px,#fcf2f4 0 21.9px,#ffdacd 0 22.9px,#c3a4ff 0 23.9px,#fbf2f7 0 24.9px,#ffd1c2 0 25.9px,#f9e9ee 0 26.9px,#dcc5ff 0 27.9px,#ffbca7 0 28.9px,#d7b1e8 0 29.9px,#f1e6ff 0 30.9px,#f7f1ff 0 31.8px,#e7d6ff 0 32.8px,#b18aff 0 33.8px,#e4c4e9 0 34.8px,#fff5f1 0 35.8px,#caacff 0 36.8px,#bfa0ff 0 37.8px,#f4e7f8 0 38.8px,#e4d3ff 0 39.8px,#a176ff 0 40.8px,#f6e2ed 0 41.8px,#e6d5ff 0 42.8px,#d5c0fe 0 43.8px,#e4b1d1 0 44.8px,#eee2ff 0 45.8px,#ccaeff 0 46.8px,#f6e9f8 0 47.8px,#7d55ff 0 48.8px,#fce9ea 0 49.8px,#e9bbd5 0 50.8px,#f7e7f2 0 51.8px,#b892ff 0 52.7px,#fff5f1 0 53.7px,#b69dff 0 54.7px,#9c70ff 0 55.7px,#ffd3c4 0 56.7px,#d4bfff 0 57.7px,#f5ced5 0 58.7px,#eed4ec 0 59.7px,#e4d1ff 0 60.7px,#d6bfff 0 61.7px,#fff1eb 0 62.7px,#decbff 0 63.7px,#9471ff 0 64.7px,#8266ff 0 65.7px,#f3e1f1 0 66.7px,#a880ff 0 67.7px,#cda6e7 0 68.7px,#ebddff 0 69.7px,#cfb2ff 0 70.7px,#ffb29b 0 71.7px,#ffbca8 0 72.6px,#f9ddde 0 73.6px,#e9cceb 0 74.6px,#ffd6c8 0 75.6px,#d6bcff 0 76.6px,#fff3ef 0 77.6px,#ff9c80 0 78.6px,#ffd6c8 0 79.6px,#e8d7ff 0 80.6px,#cdaeff 0 81.6px,#f5ecfd 0 82.6px,#c19eff 0 83.6px,#c9a9ff 0 84.6px,#f1e7ff 0 85.6px,#6038ff 0 86.6px,#ddc6ff 0 87.6px,#6f45ff 0 88.6px,#efe4ff 0 89.6px,#d6beff 0 90.6px,#ffc2af 0 91.6px,#d6bcff 0 92.6px,#b58fff 0 93.5px,#bb9dff 0 94.5px,#fbe6e6 0 95.5px,#ffc7b7 0 96.5px,#af93ff 0 97.5px,#9569ff 0 98.5px,#b38dff 0 99.5px,#eaceea 0 100.5px,#e0ceff 0 101.5px,#bb96ff 0 102.5px,#ffebe4 0 103.5px,#ffffff 0 109.7px,#ff6047 0 110.7px,#ffb099 0 111.7px,#ffa186 0 112.7px,#ff5e3e 0 113.7px,#f8e0e5 0 114.7px,#ffc1ac 0 115.7px,#ffa387 0 116.7px,#ffa98e 0 117.7px,#d6bcff 0 118.7px,#f5edff 0 119.7px,#e5d3ff 0 120.7px,#f4ecff 0 121.7px,#e8d9ff 0 122.7px,#ffa88e 0 123.7px,#ffe9e1 0 124.7px,#ffc1ad 0 125.7px,#ff9576 0 126.7px,#ffe8e0 0 127.7px,#ffaf96 0 128.7px,#ff8161 0 129.7px,#ffd7ca 0 130.7px,#fcf6fa 0 131.7px,#ffae95 0 132.7px,#e2ceff 0 133.8px,#ffcfbf 0 134.8px,#ffded3 0 135.8px,#fddfd8 0 136.8px,#fbbdb4 0 137.8px,#fef4f1 0 138.8px,#ffefe9 0 139.8px,#ff957a 0 140.8px,#ffa98f 0 141.8px,#ffd1c1 0 142.8px,#fcf5fa 0 143.8px,#ffdbd0 0 144.8px,#ff9c80 0 145.8px,#ffcdbc 0 146.8px,#ff6847 0 147.8px,#ffb8a4 0 148.8px,#ffd9cb 0 149.8px,#e4d4ff 0 150.8px,#ffd1c2 0 151.8px,#ffb7a2 0 152.8px,#d0b9ff 0 153.8px,#c7a6ff 0 154.8px,#ffb5a2 0 155.8px,#f5d8e0 0 156.8px,#ffffff 0 162.6px,#f5dae4 0 163.6px,#e4d2ff 0 164.6px,#fdf0ef 0 165.6px,#fee1d9 0 166.6px,#faf4fe 0 167.6px,#f3d6e3 0 168.6px,#ffded2 0 169.5px,#d1b4ff 0 170.5px,#fff1ec 0 171.5px,#e1cdff 0 172.5px,#d5baff 0 173.5px,#ebdcfc 0 174.5px,#dec9ff 0 175.5px,#fbeaed 0 176.5px,#d1b4ff 0 177.5px,#edd2ea 0 178.5px,#a47aff 0 179.5px,#ffa58a 0 180.5px,#e9d9ff 0 181.4px,#ffdfd4 0 182.4px,#e3afd0 0 183.4px,#ebc0d6 0 184.4px,#c6a4ff 0 185.4px,#fbecee 0 186.4px,#b995ff 0 187.4px,#f5ebfb 0 188.4px,#fce4e1 0 189.4px,#ddbdee 0 190.4px,#fdf6f7 0 191.4px,#ffbea9 0 192.4px,#fef6f4 0 193.3px,#f2e8ff 0 194.3px,#dfcaff 0 195.3px,#faeef4 0 196.3px,#ffb79f 0 197.3px,#e5d3ff 0 198.3px,#eaddff 0 199.3px,#ffffff 0 205.1px,#e9d6f7 0 206.1px,#fdedeb 0 207.1px,#d6bbff 0 208.1px,#e8bfdd 0 209.1px,#e7d2f6 0 210.1px,#fffbfb 0 211.2px,#fffdfd 0 212.2px,#ffc4b1 0 213.2px,#e9cdec 0 214.2px,#ab84ff 0 215.2px,#cfb5ff 0 216.2px,#fff4f0 0 217.2px,#d2b6ff 0 218.2px,#b08bff 0 219.2px,#f7edf9 0 220.2px,#e6d5ff 0 221.2px,#ff735b 0 222.3px,#c2a3ff 0 223.3px,#dfcaff 0 224.3px,#ffdfd5 0 225.3px,#ffe0d5 0 226.3px,#ffcbb9 0 227.3px,#ad84ff 0 228.3px,#ffcfc0 0 229.3px,#ebcae4 0 230.3px,#fef9fa 0 231.3px,#f4ebfe 0 232.4px,#ebcbe6 0 233.4px,#f6efff 0 234.4px,#ceb3ff 0 235.4px,#c8aaff 0 236.4px,#7e54ff 0 237.4px,#e0cbff 0 238.4px,#f1dff3 0 239.4px,#a57dff 0 240.4px,#c9b2fe 0 241.4px,#9c70ff 0 242.4px,#ffc3af 0 243.5px,#eee2ff 0 244.5px,#c4a5ff 0 245.5px,#fde7e4 0 246.5px,#d4b8ff 0 247.5px,#ffa187 0 248.5px,#ffffff 0 254.7px,#ffded3 0 255.7px,#feeae5 0 256.7px,#d9c1ff 0 257.7px,#f3e8fd 0 258.7px,#dec5f5 0 259.7px,#e9d1f2 0 260.7px,#f1bbc6 0 261.7px,#ffae95 0 262.8px,#c9a9ff 0 263.8px,#c8abff 0 264.8px,#edddf9 0 265.8px,#ba94ff 0 266.8px,#dcc5ff 0 267.8px,#f2e6fb 0 268.8px,#c29fff 0 269.8px,#b089ff 0 270.8px,#ffab92 0 271.8px,#ecdfff 0 272.8px,#ffc7b5 0 273.8px,#c8a8ff 0 274.8px,#fbc9c2 0 275.8px,#d4b8ff 0 276.8px,#ffb69f 0 277.8px,#faeef4 0 278.8px,#f1e7fe 0 279.9px,#f7d1d5 0 280.9px,#fffaf8 0 281.9px,#fffcfb 0 282.9px,#d7beff 0 283.9px,#c3adff 0 284.9px,#ffddd2 0 285.9px,#d8bfff 0 286.9px,#ffd7ca 0 287.9px,#ffac93 0 288.9px,#edc3d8 0 289.9px,#ffe3d8 0 290.9px,#f9e0e3 0 291.9px,#ffaf9a 0 292.9px,#ff7f60 0 293.9px,#ffdcd0 0 294.9px,#8160ff 0 296.0px,#e9d9ff 0 297.0px,#fdf9fb 0 298.0px,#f4e1ef 0 299.0px,#efe3ff 0 300.0px,#bc9cff 0 301.0px,#ad8cff 0 302.0px,#d4baff 0 303.0px,#c2a5f7 0 304.0px,#eed1e8 0 305.0px,#e5d5ff 0 306.0px,#f5e8f8 0 307.0px,#ceafff 0 308.0px,#b791ff 0 309.0px,#b690ff 0 310.0px,#b58dff 0 311.1px,#ff8062 0 312.1px,#ffbaa4 0 313.1px,#ff7d62 0 314.1px,#ff9071 0 315.1px,#ff9f84 0 316.1px,#ffbba6 0 317.1px,#ffac92 0 318.1px,#ff4535 0 319.1px,#ffa286 0 320.1px,#5d4aff 0 321.1px,#f7ebf6 0 322.1px,#efe4ff 0 323.1px,#ffd8ca 0 324.1px,#ceb0ff 0 325.1px,#fdf2f3 0 326.1px,#f8dbdf 0 327.1px,#b690ff 0 328.2px,#6f4aff 0 329.2px,#ffc7b6 0 330.2px,#d5bbff 0 331.2px,#e1cdff 0 332.2px,#d6bcff 0 333.2px,#ffc7b5 0 334.2px,#a87eff 0 335.2px,#ffffff 0 341.1px,#ffd4c6 0 342.1px,#fcecec 0 343.1px,#b799ff 0 344.1px,#fbebee 0 345.1px,#ffb39b 0 346.1px,#ffdace 0 347.1px,#c09dff 0 348.1px,#ffd2c4 0 349.1px,#ffe0d4 0 350.1px,#f9eff7 0 351.1px,#6d61ff 0 352.1px,#f1e7ff 0 353.1px,#ae88ff 0 354.1px,#b089ff 0 355.1px,#cea3e3 0 356.1px,#e5d4fc 0 357.1px,#f1e4fa 0 358.1px,#efdef7 0 359.1px,#f0e5fe 0 360.1px,#ffb7a0 0 361.1px,#ffc3b0 0 362.1px,#f9f0f9 0 363.1px,#c8a8ff 0 364.1px,#eca7b7 0 365.1px,#ddc6fa 0 366.1px,#ede0ff 0 367.1px,#f2e3f6 0 368.1px,#ffd3c3 0 369.1px,#ffe0d5 0 370.1px,#efbfce 0 371.1px,#e0c3ef 0 372.1px,#d1b5ff 0 373.1px,#eccbe4 0 374.1px,#a680ff 0 375.1px,#d2b5ff 0 376.1px,#ffdacd 0 377.0px,#fef9fa 0 378.0px,#bd9dff 0 379.0px,#aa80ff 0 380.0px,#e2d1ff 0 381.0px,#fdf4f5 0 382.0px,#f1cddb 0 383.0px,#f0e1f9 0 384.0px,#fbdad8 0 385.0px,#e9dafe 0 386.0px,#d4b8f7 0 387.0px,#ede0ff 0 388.0px,#dcbdef 0 389.0px,#efe3ff 0 390.0px,#cda6e9 0 391.0px,#e9dafe 0 392.0px,#e7bbd8 0 393.0px,#fbdad8 0 394.0px,#eee3ff 0 395.0px,#ecdeff 0 396.0px,#b58dff 0 397.0px,#fbf2f8 0 398.0px,#c09eff 0 399.0px,#eadbff 0 400.0px,#f4e5f4 0 401.0px,#ceb1ff 0 402.0px,#a379ff 0 403.0px,#ffe5dc 0 404.0px,#ae88ff 0 405.0px,#f0e5ff 0 406.0px,#bb97ff 0 407.0px,#edcce2 0 408.0px,#e7d8ff 0 409.0px,#d2b7ff 0 410.0px,#bea0ff 0 411.0px)"></div><div class="h" style="top:173.20px;height:4.92px;background:linear-gradient(90deg,#ffffff 0 0.0px,#b7a0ff 0 1.0px,#321eff 0 2.0px,#ad86ff 0 3.0px,#b995ff 0 4.0px,#9c71ff 0 5.0px,#b48dff 0 6.0px,#bd9cff 0 7.0px,#d0b3ff 0 8.0px,#f7ecf8 0 9.0px,#ffdfd4 0 10.0px,#a980ff 0 10.9px,#af95f7 0 11.9px,#b692ff 0 12.9px,#e9d7fa 0 13.9px,#a277ff 0 14.9px,#976cff 0 15.9px,#0000ff 0 16.9px,#e4d3ff 0 17.9px,#efe4ff 0 18.9px,#d7c0ff 0 19.9px,#5b47ff 0 20.9px,#d6bcff 0 21.9px,#f1e6fd 0 22.9px,#f6e8f6 0 23.9px,#bd9aff 0 24.9px,#ab8bff 0 25.9px,#aa83ff 0 26.9px,#bc9cff 0 27.9px,#b295ff 0 28.9px,#f9e5ea 0 29.9px,#f4ebff 0 30.9px,#8659ff 0 31.8px,#e4d1ff 0 32.8px,#b28cff 0 33.8px,#dbc3ff 0 34.8px,#d0b6ff 0 35.8px,#ff7054 0 36.8px,#f8f1fc 0 37.8px,#7951ff 0 38.8px,#fbf6fc 0 39.8px,#eea6b3 0 40.8px,#d4b9ff 0 41.8px,#5235ff 0 42.8px,#fdd0c5 0 43.8px,#d0b3ff 0 44.8px,#503aff 0 45.8px,#180bff 0 46.8px,#d8c2ff 0 47.8px,#f6efff 0 48.8px,#b38bff 0 49.8px,#eed9f2 0 50.8px,#bb97ff 0 51.8px,#f4ddea 0 52.7px,#a683ff 0 53.7px,#4c36ff 0 54.7px,#9068ff 0 55.7px,#efb5c2 0 56.7px,#e0cbff 0 57.7px,#dbc5ff 0 58.7px,#f6d3db 0 59.7px,#d5bfff 0 60.7px,#e1cdff 0 61.7px,#e5d3ff 0 62.7px,#9e75ff 0 63.7px,#faf6ff 0 64.7px,#a57aff 0 65.7px,#d2b7ff 0 66.7px,#ddc7ff 0 67.7px,#ffa085 0 68.7px,#9a76ff 0 69.7px,#e2ceff 0 70.7px,#ffc1ad 0 71.7px,#e5d4ff 0 72.6px,#fae5e7 0 73.6px,#ffccba 0 74.6px,#f6edfc 0 75.6px,#f4ddec 0 76.6px,#dcc5ff 0 77.6px,#eee2ff 0 78.6px,#ffbea9 0 79.6px,#ffb8a5 0 80.6px,#ffbfaa 0 81.6px,#7449ff 0 82.6px,#5d36ff 0 83.6px,#412bff 0 84.6px,#4e38ff 0 85.6px,#ff987b 0 86.6px,#dfc9ff 0 87.6px,#1d0eff 0 88.6px,#d6beff 0 89.6px,#9469ff 0 90.6px,#a47bff 0 91.6px,#c085cf 0 92.6px,#a479ff 0 93.5px,#6f64ff 0 94.5px,#6e43ff 0 95.5px,#e4d1ff 0 96.5px,#e5d3ff 0 97.5px,#c4a3ff 0 98.5px,#875bff 0 99.5px,#351fff 0 100.5px,#d6bdff 0 101.5px,#ddc2f3 0 102.5px,#f7e4ed 0 103.5px,#ffffff 0 109.7px,#fff1ec 0 110.7px,#d5bbff 0 111.7px,#eecfe5 0 112.7px,#ffdacd 0 113.7px,#f5e9f9 0 114.7px,#d8bfff 0 115.7px,#d2aeea 0 116.7px,#a87eff 0 117.7px,#d7bfff 0 118.7px,#f9f1f9 0 119.7px,#f6b2b2 0 120.7px,#ecdfff 0 121.7px,#e4c1e6 0 122.7px,#f4d7e4 0 123.7px,#e2cfff 0 124.7px,#eeddf7 0 125.7px,#f2e1f4 0 126.7px,#ffe6dd 0 127.7px,#c0a1ff 0 128.7px,#d8bfff 0 129.7px,#f9e5ea 0 130.7px,#d0b3ff 0 131.7px,#e7cff2 0 132.7px,#e6cdf1 0 133.8px,#ffa88e 0 134.8px,#dec9ff 0 135.8px,#a07fff 0 136.8px,#ff9a7f 0 137.8px,#f0e4ff 0 138.8px,#c4a3ff 0 139.8px,#d7c0ff 0 140.8px,#b790ff 0 141.8px,#8d66ff 0 142.8px,#f4ebfe 0 143.8px,#fad2d0 0 144.8px,#ffad94 0 145.8px,#fbdcd9 0 146.8px,#8d61ff 0 147.8px,#8466ff 0 148.8px,#d5bbff 0 149.8px,#dfc9ff 0 150.8px,#ffd4c5 0 151.8px,#ffd0c0 0 152.8px,#ffddd2 0 153.8px,#ffc9b7 0 154.8px,#ffc7b7 0 155.8px,#f3e9ff 0 156.8px,#ffffff 0 162.6px,#a87fff 0 163.6px,#c8aaff 0 164.6px,#c7aaff 0 165.6px,#eaddff 0 166.6px,#d7bdff 0 167.6px,#c1a0ff 0 168.6px,#e3c9f2 0 169.5px,#eee1fc 0 170.5px,#ff5b3d 0 171.5px,#fbcac4 0 172.5px,#ff805f 0 173.5px,#fbcfcb 0 174.5px,#e4bee2 0 175.5px,#fde5e0 0 176.5px,#feddd3 0 177.5px,#ffdacd 0 178.5px,#e6d7ff 0 179.5px,#ff6b4b 0 180.5px,#ffe3d9 0 181.4px,#f9f5ff 0 182.4px,#fcd8d1 0 183.4px,#f4ecff 0 184.4px,#ffaa90 0 185.4px,#b995ff 0 186.4px,#ffd5c7 0 187.4px,#cf8dc5 0 188.4px,#ffa68c 0 189.4px,#ffab92 0 190.4px,#f4d9e5 0 191.4px,#ffc0ac 0 192.4px,#a379ff 0 193.3px,#e6cff5 0 194.3px,#ffccbc 0 195.3px,#936aff 0 196.3px,#8054ff 0 197.3px,#c5a5ff 0 198.3px,#e7d3f8 0 199.3px,#ffffff 0 205.1px,#c4a2ff 0 206.1px,#ffe4db 0 207.1px,#fbe4e5 0 208.1px,#e4d2ff 0 209.1px,#eadbff 0 210.1px,#b58fff 0 212.2px,#e0cbff 0 213.2px,#a077ff 0 214.2px,#efd3e7 0 215.2px,#f9e1e3 0 216.2px,#ebddfe 0 217.2px,#f5e4f1 0 218.2px,#cfb1ff 0 219.2px,#ffdfd3 0 220.2px,#a188ff 0 221.2px,#ffae96 0 222.3px,#eee3ff 0 223.3px,#e0caff 0 224.3px,#ffddd2 0 225.3px,#8c5fff 0 226.3px,#e6cef2 0 227.3px,#f7e6f1 0 228.3px,#dcc5ff 0 229.3px,#f3bbc2 0 230.3px,#aa80ff 0 231.3px,#f5eeff 0 232.4px,#ff9c86 0 233.4px,#fdcabe 0 234.4px,#aa81ff 0 235.4px,#ffb199 0 236.4px,#ad85ff 0 237.4px,#fcf3f5 0 238.4px,#c899df 0 239.4px,#9f74ff 0 240.4px,#ff7e60 0 241.4px,#a17dff 0 242.4px,#d5bbff 0 243.5px,#ece0ff 0 244.5px,#ffebe4 0 245.5px,#f5edff 0 246.5px,#e7d6ff 0 247.5px,#ffd4c6 0 248.5px,#ffffff 0 254.7px,#a784ff 0 255.7px,#ffe6dd 0 256.7px,#fbdddb 0 257.7px,#fff0ea 0 258.7px,#ffccbb 0 259.7px,#f6d7dd 0 260.7px,#ffc7b4 0 261.7px,#e4d2fc 0 262.8px,#b58eff 0 263.8px,#f8f3ff 0 264.8px,#cdb0ff 0 265.8px,#ffd4c5 0 266.8px,#c5a4ff 0 267.8px,#ffd9cc 0 268.8px,#efbbc9 0 269.8px,#e8d7ff 0 270.8px,#f7e3ec 0 271.8px,#ffd0c0 0 272.8px,#ffe6dd 0 273.8px,#ffb7a1 0 274.8px,#ffede6 0 275.8px,#ff8066 0 276.8px,#f1c4d0 0 277.8px,#ebd8f6 0 278.8px,#f6e3ee 0 279.9px,#e9daff 0 280.9px,#ffa287 0 281.9px,#fcd0ca 0 282.9px,#ffc0ac 0 283.9px,#ddc7ff 0 284.9px,#ffbda8 0 285.9px,#cfb6ff 0 286.9px,#d1b7ff 0 287.9px,#ff5435 0 288.9px,#cbafff 0 289.9px,#ffc4b2 0 290.9px,#ffa288 0 291.9px,#ebbed4 0 292.9px,#d2b7ff 0 293.9px,#ffc2af 0 294.9px,#f6cdd1 0 296.0px,#ffc1ad 0 297.0px,#ceb4ff 0 298.0px,#ffe4da 0 299.0px,#e0cdff 0 300.0px,#d7bfff 0 301.0px,#ff8b6c 0 302.0px,#c4a4ff 0 303.0px,#cfb1ff 0 304.0px,#c5a4ff 0 305.0px,#e0b1d8 0 306.0px,#f6efff 0 307.0px,#edddf9 0 308.0px,#edcce3 0 309.0px,#dfc9ff 0 310.0px,#cdafff 0 311.1px,#d1b5ff 0 312.1px,#eddfff 0 313.1px,#ffd9cd 0 314.1px,#f5d5dd 0 315.1px,#dabaee 0 316.1px,#e7d7fd 0 317.1px,#ddc9ff 0 318.1px,#d4b8ff 0 319.1px,#ebdeff 0 320.1px,#d1b4ff 0 321.1px,#ffc1ae 0 322.1px,#ffe3d9 0 323.1px,#b993ff 0 324.1px,#d9c1ff 0 325.1px,#f6e7f4 0 326.1px,#fefdff 0 327.1px,#ffb199 0 328.2px,#f8f3ff 0 329.2px,#ffd9cc 0 330.2px,#ff8162 0 331.2px,#ffece5 0 332.2px,#ffede7 0 333.2px,#ffcebd 0 334.2px,#dfc9ff 0 335.2px,#ffffff 0 341.1px,#f3d6e4 0 342.1px,#ffd1c1 0 343.1px,#ff997c 0 344.1px,#eed8f0 0 345.1px,#ffdacc 0 346.1px,#e6b1ce 0 347.1px,#fed6cb 0 348.1px,#ffb8a3 0 349.1px,#ffd8ca 0 350.1px,#eadaff 0 351.1px,#f0cbda 0 352.1px,#faf7ff 0 353.1px,#d7bdff 0 354.1px,#f1e7ff 0 355.1px,#c19fff 0 356.1px,#ff9375 0 357.1px,#c4a2ff 0 358.1px,#ffcebe 0 359.1px,#ffece5 0 360.1px,#ddc7ff 0 361.1px,#e0ccff 0 362.1px,#b993ff 0 363.1px,#996eff 0 364.1px,#e9d9ff 0 365.1px,#d5baff 0 366.1px,#ffcfc0 0 367.1px,#fff3ef 0 368.1px,#fef8f7 0 369.1px,#cdb0ff 0 370.1px,#ff7c60 0 371.1px,#b791ff 0 372.1px,#eab4c9 0 373.1px,#ff9c82 0 374.1px,#ff9375 0 375.1px,#f1e6ff 0 376.1px,#fffbfa 0 377.0px,#ff8566 0 378.0px,#ff8a6b 0 379.0px,#ff9b7f 0 380.0px,#996eff 0 381.0px,#ffdacd 0 382.0px,#ffbfaa 0 383.0px,#c09cff 0 384.0px,#4c31ff 0 385.0px,#412aff 0 386.0px,#633aff 0 387.0px,#936aff 0 388.0px,#c5a9ff 0 389.0px,#fff1ec 0 390.0px,#d9c1ff 0 391.0px,#a57cff 0 392.0px,#9468ff 0 393.0px,#7449ff 0 394.0px,#543fff 0 395.0px,#ad85ff 0 396.0px,#bb9aff 0 397.0px,#fab8b0 0 398.0px,#fff6f2 0 399.0px,#ebdcff 0 400.0px,#f3dded 0 401.0px,#ffebe4 0 402.0px,#f6d8e0 0 403.0px,#f6d4db 0 404.0px,#ffc5b5 0 405.0px,#ddc9ff 0 406.0px,#dfc9ff 0 407.0px,#ffc7b5 0 408.0px,#d5baff 0 409.0px,#9469ff 0 410.0px,#bd9aff 0 411.0px)"></div><div class="h" style="top:178.10px;height:4.92px;background:linear-gradient(90deg,#ffffff 0 0.0px,#604eff 0 1.0px,#784cff 0 2.0px,#b891ff 0 3.0px,#a17bff 0 4.0px,#af87ff 0 5.0px,#8f63ff 0 6.0px,#a17bff 0 7.0px,#d2b5ff 0 8.0px,#f7eefa 0 9.0px,#ffefe9 0 10.0px,#ba96ff 0 10.9px,#c0a3ff 0 11.9px,#decbfe 0 12.9px,#e4c9ef 0 13.9px,#916aff 0 14.9px,#9669ff 0 15.9px,#3520ff 0 16.9px,#e5d2ff 0 17.9px,#ecdefe 0 18.9px,#f0e6ff 0 19.9px,#835eff 0 20.9px,#e0cbfa 0 21.9px,#eac1db 0 22.9px,#f7e9f4 0 23.9px,#ac83ff 0 24.9px,#9477ff 0 25.9px,#a983ff 0 26.9px,#a97fff 0 27.9px,#af8cff 0 28.9px,#f9eff7 0 29.9px,#f5edff 0 30.9px,#8457ff 0 31.8px,#fdf7f9 0 32.8px,#a97fff 0 33.8px,#e8d8ff 0 34.8px,#b68fff 0 35.8px,#ff9f82 0 36.8px,#ffe8e0 0 37.8px,#7a50ff 0 38.8px,#d6bfff 0 39.8px,#f5c6ca 0 40.8px,#d5bbff 0 41.8px,#8f62ff 0 42.8px,#ffe5dc 0 43.8px,#c3a4ff 0 44.8px,#6644ff 0 45.8px,#442dff 0 46.8px,#dba6d2 0 47.8px,#f6f0ff 0 48.8px,#b38cff 0 49.8px,#e3bfe6 0 50.8px,#b892ff 0 51.8px,#cbadff 0 52.7px,#ad8bff 0 53.7px,#371bff 0 54.7px,#8a63ff 0 55.7px,#f1a0a8 0 56.7px,#f2e9ff 0 57.7px,#e6d6ff 0 58.7px,#ffdfd4 0 59.7px,#cdaeff 0 60.7px,#bb97ff 0 61.7px,#d7bdff 0 62.7px,#a076ff 0 63.7px,#f2e9ff 0 64.7px,#8359ff 0 65.7px,#d8bfff 0 66.7px,#e2cfff 0 67.7px,#ffc6b4 0 68.7px,#7752ff 0 69.7px,#dcc6ff 0 70.7px,#ffcbba 0 71.7px,#e8d8ff 0 72.6px,#fdedeb 0 73.6px,#fbe2e1 0 74.6px,#fae1e3 0 75.6px,#f6e2ed 0 76.6px,#dec8ff 0 77.6px,#e9d8fa 0 78.6px,#ffded2 0 79.6px,#ffb39e 0 80.6px,#ffbaa4 0 81.6px,#5739ff 0 82.6px,#1106ff 0 83.6px,#4b34ff 0 84.6px,#7a4eff 0 85.6px,#ff896a 0 86.6px,#eee1ff 0 87.6px,#1d0eff 0 88.6px,#d7b7ef 0 89.6px,#9368ff 0 90.6px,#a983ff 0 91.6px,#cda5e6 0 92.6px,#a77eff 0 93.5px,#452fff 0 94.5px,#6239ff 0 95.5px,#d3b6ff 0 96.5px,#e0ccff 0 97.5px,#e1c6f2 0 98.5px,#9469ff 0 99.5px,#422cff 0 100.5px,#d4bbff 0 101.5px,#e1cdfc 0 102.5px,#ffe4da 0 103.5px,#ffffff 0 109.7px,#f4d6e0 0 110.7px,#c5a5ff 0 111.7px,#f4ecfe 0 112.7px,#ffddd1 0 113.7px,#f4e7f8 0 114.7px,#d7beff 0 115.7px,#dbc4f8 0 116.7px,#8b5fff 0 117.7px,#f0e6ff 0 118.7px,#faeaee 0 119.7px,#e08eae 0 120.7px,#e6d4ff 0 121.7px,#f4dae7 0 122.7px,#dcc1f5 0 123.7px,#d2b6ff 0 124.7px,#dcb1df 0 125.7px,#fff0eb 0 126.7px,#ffcdbb 0 127.7px,#d8c1ff 0 128.7px,#dac6ff 0 129.7px,#d3b8ff 0 130.7px,#e7d7ff 0 131.7px,#f5eeff 0 132.7px,#fbe4e3 0 133.8px,#ffa48a 0 134.8px,#eed3ea 0 135.8px,#a683ff 0 136.8px,#ffc7b4 0 137.8px,#faf5ff 0 138.8px,#c6adfb 0 139.8px,#e4d2fc 0 140.8px,#b58fff 0 141.8px,#8b62ff 0 142.8px,#efe4ff 0 143.8px,#fdd3cb 0 144.8px,#ff9b7e 0 145.8px,#ffe5dc 0 146.8px,#a379ff 0 147.8px,#9370ff 0 148.8px,#cbabff 0 149.8px,#cfb2ff 0 150.8px,#ffece6 0 151.8px,#ffaa90 0 152.8px,#ffc7b4 0 153.8px,#ffd1c1 0 154.8px,#ffd3c3 0 155.8px,#d7bfff 0 156.8px,#ffffff 0 162.6px,#c8a7ff 0 163.6px,#b895ff 0 164.6px,#d7bbf3 0 165.6px,#c6a8ff 0 166.6px,#c7a6ff 0 167.6px,#dec8ff 0 168.6px,#e9d6f8 0 169.5px,#eeb7c7 0 170.5px,#ff6646 0 171.5px,#ffc4b4 0 172.5px,#ff9b7e 0 173.5px,#fdd3c9 0 174.5px,#fae1e2 0 175.5px,#ffc8b6 0 176.5px,#fff3ee 0 177.5px,#f7c9cc 0 178.5px,#f2deef 0 179.5px,#ff2718 0 180.5px,#ffd4c6 0 181.4px,#ffe8e0 0 182.4px,#f7c9cb 0 183.4px,#eee2ff 0 184.4px,#ffcbba 0 185.4px,#724dff 0 186.4px,#ffc7b5 0 187.4px,#b889dd 0 188.4px,#ff7c5b 0 189.4px,#ffc7b4 0 190.4px,#f4d5e0 0 191.4px,#ffc5b3 0 192.4px,#be9bff 0 193.3px,#c5a6ff 0 194.3px,#f4e3f2 0 195.3px,#a279ff 0 196.3px,#8a62ff 0 197.3px,#c0a1ff 0 198.3px,#f3ddeb 0 199.3px,#ffffff 0 205.1px,#d1b5ff 0 206.1px,#ffd3c4 0 207.1px,#faeaee 0 208.1px,#ccaeff 0 209.1px,#d3b9ff 0 210.1px,#a47fff 0 211.2px,#986cff 0 212.2px,#cdafff 0 213.2px,#ad85ff 0 214.2px,#fcf5f8 0 215.2px,#fbf2f6 0 216.2px,#e1cffe 0 217.2px,#f8dee2 0 218.2px,#d4b8ff 0 219.2px,#eee1ff 0 220.2px,#bda7ff 0 221.2px,#ffc3b0 0 222.3px,#eee1ff 0 223.3px,#e7d6ff 0 224.3px,#f2e7fb 0 225.3px,#a980ff 0 226.3px,#eebccc 0 227.3px,#fefbfc 0 228.3px,#d6bdff 0 229.3px,#f1c5d1 0 230.3px,#5a46ff 0 231.3px,#edd7f2 0 232.4px,#ff9b80 0 233.4px,#fff3ef 0 234.4px,#a77dff 0 235.4px,#ffccbb 0 236.4px,#b58eff 0 237.4px,#f6ced2 0 238.4px,#d9b3e6 0 239.4px,#ad83ff 0 240.4px,#ff5738 0 241.4px,#a076ff 0 242.4px,#b38cff 0 243.5px,#f0e5ff 0 244.5px,#ffcab8 0 245.5px,#f4e3f2 0 246.5px,#e8d9ff 0 247.5px,#ffdbcf 0 248.5px,#ffffff 0 254.7px,#bc97ff 0 255.7px,#ffe7df 0 256.7px,#ffefea 0 257.7px,#faebf1 0 258.7px,#ff9e82 0 259.7px,#e9c1dc 0 260.7px,#ffb39b 0 261.7px,#ba99ff 0 262.8px,#bfa8fe 0 263.8px,#eee3ff 0 264.8px,#d0b5ff 0 265.8px,#ffdbcf 0 266.8px,#ac83ff 0 267.8px,#f2e8fe 0 268.8px,#efc0cf 0 269.8px,#e3c9f1 0 270.8px,#fff5f1 0 271.8px,#ffe6de 0 272.8px,#fdf5f6 0 273.8px,#ffaa90 0 274.8px,#fdfcff 0 275.8px,#ff8f72 0 276.8px,#fde5df 0 277.8px,#e4c8f0 0 278.8px,#ffeee8 0 279.9px,#e4d2ff 0 280.9px,#ff957a 0 281.9px,#ffdbcf 0 282.9px,#ffac95 0 283.9px,#e2ceff 0 284.9px,#ffccbb 0 285.9px,#d1b6ff 0 286.9px,#c2a3ff 0 287.9px,#ff7a59 0 288.9px,#c4abff 0 289.9px,#ffbeaa 0 290.9px,#ff9376 0 291.9px,#ebbacf 0 292.9px,#faf0f6 0 293.9px,#ffa489 0 294.9px,#f8e8f1 0 296.0px,#ffd1c2 0 297.0px,#c5a3ff 0 298.0px,#ffeee9 0 299.0px,#eecbe0 0 300.0px,#ccaeff 0 301.0px,#ffa78c 0 302.0px,#bc97ff 0 303.0px,#a77eff 0 304.0px,#c09cff 0 305.0px,#e5b9d8 0 306.0px,#f8f1fd 0 307.0px,#fdf1f0 0 308.0px,#f3d5e3 0 309.0px,#e0ccff 0 310.0px,#d2b6ff 0 312.1px,#f5edff 0 313.1px,#ffcaba 0 314.1px,#ffe0d4 0 315.1px,#eee1ff 0 316.1px,#f5edff 0 317.1px,#d7b9f2 0 318.1px,#f8f0fb 0 319.1px,#dbc4ff 0 320.1px,#d3b7ff 0 321.1px,#ffb09b 0 322.1px,#f8f0fb 0 323.1px,#ab83ff 0 324.1px,#dcc4ff 0 325.1px,#f2cfdd 0 326.1px,#d2b6ff 0 327.1px,#ff9e82 0 328.2px,#e3d0ff 0 329.2px,#ffd0c2 0 330.2px,#ff7f60 0 331.2px,#ffe6dc 0 332.2px,#f9eff8 0 333.2px,#ffcab7 0 334.2px,#c6a5ff 0 335.2px,#ffffff 0 341.1px,#f0e0f6 0 342.1px,#ffc3b3 0 343.1px,#ffa489 0 344.1px,#f9f2fc 0 345.1px,#ffdbce 0 346.1px,#eed7f0 0 347.1px,#ffc4b1 0 348.1px,#ffd6c9 0 349.1px,#ffd0c1 0 350.1px,#d7bdff 0 351.1px,#f3c9d4 0 352.1px,#efe1fa 0 353.1px,#c09dff 0 354.1px,#e3d1fc 0 355.1px,#e5d3ff 0 356.1px,#ff8e70 0 357.1px,#e2ceff 0 358.1px,#ffcdbc 0 359.1px,#f9edf6 0 360.1px,#dac2ff 0 361.1px,#f3ebff 0 362.1px,#b791ff 0 363.1px,#8c61ff 0 364.1px,#e7d6ff 0 365.1px,#c8a8ff 0 366.1px,#ffd1c1 0 367.1px,#eadbfe 0 368.1px,#f4dae7 0 369.1px,#f8f2ff 0 370.1px,#ff6e51 0 371.1px,#d5baff 0 372.1px,#ffa18e 0 373.1px,#ff795b 0 374.1px,#ff7554 0 375.1px,#f9eef6 0 376.1px,#f9f2fc 0 377.0px,#ff7d5c 0 378.0px,#ffa388 0 379.0px,#ffa88d 0 380.0px,#af8cff 0 381.0px,#fdf3f3 0 382.0px,#ffb097 0 383.0px,#c4a2ff 0 384.0px,#2f1bff 0 385.0px,#542fff 0 386.0px,#633aff 0 387.0px,#be9aff 0 388.0px,#d5bcff 0 389.0px,#f5eafa 0 390.0px,#c7a7ff 0 391.0px,#c0a8fc 0 392.0px,#aa80ff 0 393.0px,#8c62ff 0 394.0px,#5230ff 0 395.0px,#a67cff 0 396.0px,#dab8eb 0 397.0px,#f4d9e6 0 398.0px,#f8eef7 0 399.0px,#dbc3ff 0 400.0px,#f5dce7 0 401.0px,#faebf0 0 402.0px,#decaff 0 403.0px,#e8ceee 0 404.0px,#ffc9b8 0 405.0px,#e6d3fb 0 406.0px,#e1cdff 0 407.0px,#ffc4b0 0 408.0px,#c3a2ff 0 409.0px,#4e38ff 0 410.0px,#a47eff 0 411.0px)"></div></div>
<svg style="position:absolute;left:0;top:0" width="520" height="462" viewBox="0 0 520 462"><rect x="63.00" y="24" width="103.50" height="17.9" fill="#A3002C"/>
<text transform="translate(114.75,36.20) scale(0.91,1)" font-size="7.1" fill="#fff" text-anchor="middle">NEC</text>
<rect x="172.70" y="24" width="47.10" height="17.9" fill="#2A4A80"/>
<text transform="translate(196.25,36.20) scale(0.91,1)" font-size="7.1" fill="#fff" text-anchor="middle">SOCS1/SGK1</text>
<rect x="225.60" y="24" width="36.70" height="17.9" fill="#62A83F"/>
<text transform="translate(243.95,36.20) scale(0.91,1)" font-size="7.1" fill="#fff" text-anchor="middle">TET2/SGK1</text>
<rect x="268.10" y="24" width="43.40" height="17.9" fill="#4F2163"/>
<text transform="translate(289.80,36.20) scale(0.91,1)" font-size="7.1" fill="#fff" text-anchor="middle">MYD88</text>
<rect x="317.70" y="24" width="80.50" height="17.9" fill="#DA8A16"/>
<text transform="translate(357.95,36.20) scale(0.91,1)" font-size="7.1" fill="#fff" text-anchor="middle">BCL2</text>
<rect x="404.10" y="24" width="69.90" height="17.9" fill="#C3006F"/>
<text transform="translate(439.05,36.20) scale(0.91,1)" font-size="7.1" fill="#fff" text-anchor="middle">NOTCH2</text>
<text transform="translate(59.20,47.05) scale(0.85,1)" font-size="5.2" fill="#2a2a2a" text-anchor="end">IRF4Up−7</text>
<text transform="translate(59.20,51.95) scale(0.85,1)" font-size="5.2" fill="#2a2a2a" text-anchor="end">ABCDLBCL−4</text>
<text transform="translate(59.20,56.85) scale(0.85,1)" font-size="5.2" fill="#2a2a2a" text-anchor="end">ABCDLBCL−3</text>
<text transform="translate(59.20,61.75) scale(0.85,1)" font-size="5.2" fill="#2a2a2a" text-anchor="end">ABCDLBCL−2</text>
<text transform="translate(59.20,66.65) scale(0.85,1)" font-size="5.2" fill="#2a2a2a" text-anchor="end">ABCDLBCL−1</text>
<text transform="translate(477.60,57.85) scale(0.9,1)" font-size="8.5" fill="#111">ABC</text>
<text transform="translate(59.20,78.03) scale(0.85,1)" font-size="5.2" fill="#2a2a2a" text-anchor="end">GCB−7</text>
<text transform="translate(59.20,82.88) scale(0.85,1)" font-size="5.2" fill="#2a2a2a" text-anchor="end">GCB−3</text>
<text transform="translate(59.20,87.74) scale(0.85,1)" font-size="5.2" fill="#2a2a2a" text-anchor="end">IRF4Dn−1</text>
<text transform="translate(59.20,92.59) scale(0.85,1)" font-size="5.2" fill="#2a2a2a" text-anchor="end">GCBDLBCL−3</text>
<text transform="translate(59.20,97.45) scale(0.85,1)" font-size="5.2" fill="#2a2a2a" text-anchor="end">GCB−6</text>
<text transform="translate(59.20,102.31) scale(0.85,1)" font-size="5.2" fill="#2a2a2a" text-anchor="end">GCB−1</text>
<text transform="translate(59.20,107.16) scale(0.85,1)" font-size="5.2" fill="#2a2a2a" text-anchor="end">GCBDLBCL−2</text>
<text transform="translate(59.20,112.02) scale(0.85,1)" font-size="5.2" fill="#2a2a2a" text-anchor="end">GCBDLBCL−1</text>
<text transform="translate(59.20,116.87) scale(0.85,1)" font-size="5.2" fill="#2a2a2a" text-anchor="end">GCB−5</text>
<text transform="translate(477.60,98.45) scale(0.9,1)" font-size="8.5" fill="#111">GCB</text>
<text transform="translate(59.20,128.35) scale(0.85,1)" font-size="5.2" fill="#2a2a2a" text-anchor="end">MYCUp−3</text>
<text transform="translate(59.20,133.25) scale(0.85,1)" font-size="5.2" fill="#2a2a2a" text-anchor="end">MYCUp−2</text>
<text transform="translate(477.60,131.80) scale(0.9,1)" font-size="8.5" fill="#111">MYC</text>
<text transform="translate(59.20,144.80) scale(0.85,1)" font-size="5.2" fill="#2a2a2a" text-anchor="end">PMBL−4</text>
<text transform="translate(59.20,149.60) scale(0.85,1)" font-size="5.2" fill="#2a2a2a" text-anchor="end">PMBL−3</text>
<text transform="translate(59.20,154.40) scale(0.85,1)" font-size="5.2" fill="#2a2a2a" text-anchor="end">PMBL−1</text>
<text transform="translate(477.60,150.60) scale(0.9,1)" font-size="8.5" fill="#111">PMBCL</text>
<text transform="translate(59.20,166.45) scale(0.85,1)" font-size="5.2" fill="#2a2a2a" text-anchor="end">JAK2Up−2</text>
<text transform="translate(477.60,167.45) scale(0.9,1)" font-size="8.5" fill="#111">JAK/STAT</text>
<text transform="translate(59.20,178.25) scale(0.85,1)" font-size="5.2" fill="#2a2a2a" text-anchor="end">RAS</text>
<text transform="translate(59.20,183.15) scale(0.85,1)" font-size="5.2" fill="#2a2a2a" text-anchor="end">ERK</text>
<text transform="translate(477.60,181.70) scale(0.9,1)" font-size="8.5" fill="#111">RAS/ERK</text>
<rect x="407.00" y="193.2" width="3.67" height="13" fill="#0000ff" shape-rendering="crispEdges"/>
<rect x="410.37" y="193.2" width="3.67" height="13" fill="#502bff" shape-rendering="crispEdges"/>
<rect x="413.74" y="193.2" width="3.67" height="13" fill="#7145ff" shape-rendering="crispEdges"/>
<rect x="417.11" y="193.2" width="3.67" height="13" fill="#8a5dff" shape-rendering="crispEdges"/>
<rect x="420.49" y="193.2" width="3.67" height="13" fill="#a074ff" shape-rendering="crispEdges"/>
<rect x="423.86" y="193.2" width="3.67" height="13" fill="#b38bff" shape-rendering="crispEdges"/>
<rect x="427.23" y="193.2" width="3.67" height="13" fill="#c4a2ff" shape-rendering="crispEdges"/>
<rect x="430.60" y="193.2" width="3.67" height="13" fill="#d4b9ff" shape-rendering="crispEdges"/>
<rect x="433.97" y="193.2" width="3.67" height="13" fill="#e3d0ff" shape-rendering="crispEdges"/>
<rect x="437.34" y="193.2" width="3.67" height="13" fill="#f2e7ff" shape-rendering="crispEdges"/>
<rect x="440.71" y="193.2" width="3.67" height="13" fill="#ffffff" shape-rendering="crispEdges"/>
<rect x="444.09" y="193.2" width="3.67" height="13" fill="#ffece5" shape-rendering="crispEdges"/>
<rect x="447.46" y="193.2" width="3.67" height="13" fill="#ffd9cb" shape-rendering="crispEdges"/>
<rect x="450.83" y="193.2" width="3.67" height="13" fill="#ffc6b2" shape-rendering="crispEdges"/>
<rect x="454.20" y="193.2" width="3.67" height="13" fill="#ffb299" shape-rendering="crispEdges"/>
<rect x="457.57" y="193.2" width="3.67" height="13" fill="#ff9e81" shape-rendering="crispEdges"/>
<rect x="460.94" y="193.2" width="3.67" height="13" fill="#ff8969" shape-rendering="crispEdges"/>
<rect x="464.31" y="193.2" width="3.67" height="13" fill="#ff7352" shape-rendering="crispEdges"/>
<rect x="467.69" y="193.2" width="3.67" height="13" fill="#ff5b3a" shape-rendering="crispEdges"/>
<rect x="471.06" y="193.2" width="3.67" height="13" fill="#ff3e22" shape-rendering="crispEdges"/>
<rect x="474.43" y="193.2" width="3.67" height="13" fill="#ff0000" shape-rendering="crispEdges"/>
<text transform="translate(402.40,203.20) scale(0.95,1)" font-size="8.3" fill="#111" text-anchor="end">Robust Z−score</text>
<text transform="translate(408.90,215.60)" font-size="7" fill="#222" text-anchor="middle">−1.0</text>
<text transform="translate(425.60,215.60)" font-size="7" fill="#222" text-anchor="middle">−0.5</text>
<text transform="translate(442.50,215.60)" font-size="7" fill="#222" text-anchor="middle">0.0</text>
<text transform="translate(459.30,215.60)" font-size="7" fill="#222" text-anchor="middle">0.5</text>
<text transform="translate(476.30,215.60)" font-size="7" fill="#222" text-anchor="middle">1.0</text>
<rect x="78.35" y="325.10" width="2.15" height="6.60" fill="#A3002C"/>
<rect x="80.50" y="325.10" width="2.15" height="20.00" fill="#2A4A80"/>
<rect x="82.65" y="325.10" width="2.15" height="29.00" fill="#62A83F"/>
<rect x="84.80" y="255.10" width="2.15" height="70.00" fill="#4F2163"/>
<rect x="86.95" y="325.10" width="2.15" height="46.80" fill="#DA8A16"/>
<rect x="89.10" y="304.40" width="2.15" height="20.70" fill="#C3006F"/>
<rect x="103.98" y="325.10" width="2.15" height="10.90" fill="#A3002C"/>
<rect x="106.13" y="325.10" width="2.15" height="18.10" fill="#2A4A80"/>
<rect x="108.28" y="325.10" width="2.15" height="22.90" fill="#62A83F"/>
<rect x="110.43" y="265.00" width="2.15" height="60.10" fill="#4F2163"/>
<rect x="112.58" y="325.10" width="2.15" height="43.90" fill="#DA8A16"/>
<rect x="114.73" y="307.70" width="2.15" height="17.40" fill="#C3006F"/>
<rect x="129.61" y="325.10" width="2.15" height="27.80" fill="#A3002C"/>
<rect x="131.76" y="325.10" width="2.15" height="12.90" fill="#2A4A80"/>
<rect x="133.91" y="322.40" width="2.15" height="2.70" fill="#62A83F"/>
<rect x="136.06" y="284.10" width="2.15" height="41.00" fill="#4F2163"/>
<rect x="138.21" y="325.10" width="2.15" height="26.90" fill="#DA8A16"/>
<rect x="140.36" y="318.90" width="2.15" height="6.20" fill="#C3006F"/>
<rect x="155.24" y="325.10" width="2.15" height="42.90" fill="#A3002C"/>
<rect x="157.39" y="285.00" width="2.15" height="40.10" fill="#2A4A80"/>
<rect x="159.54" y="313.20" width="2.15" height="11.90" fill="#62A83F"/>
<rect x="161.69" y="325.10" width="2.15" height="58.10" fill="#4F2163"/>
<rect x="163.84" y="271.60" width="2.15" height="53.50" fill="#DA8A16"/>
<rect x="165.99" y="325.10" width="2.15" height="25.70" fill="#C3006F"/>
<rect x="180.87" y="325.10" width="2.15" height="46.00" fill="#A3002C"/>
<rect x="183.02" y="295.50" width="2.15" height="29.60" fill="#2A4A80"/>
<rect x="185.17" y="318.90" width="2.15" height="6.20" fill="#62A83F"/>
<rect x="187.32" y="325.10" width="2.15" height="36.50" fill="#4F2163"/>
<rect x="189.47" y="287.60" width="2.15" height="37.50" fill="#DA8A16"/>
<rect x="191.62" y="325.10" width="2.15" height="18.60" fill="#C3006F"/>
<rect x="206.50" y="325.10" width="2.15" height="19.70" fill="#A3002C"/>
<rect x="208.65" y="310.60" width="2.15" height="14.50" fill="#2A4A80"/>
<rect x="210.80" y="315.80" width="2.15" height="9.30" fill="#62A83F"/>
<rect x="212.95" y="325.10" width="2.15" height="46.90" fill="#4F2163"/>
<rect x="215.10" y="299.90" width="2.15" height="25.20" fill="#DA8A16"/>
<rect x="217.25" y="325.10" width="2.15" height="9.30" fill="#C3006F"/>
<rect x="234.28" y="283.20" width="2.15" height="41.90" fill="#2A4A80"/>
<rect x="236.43" y="318.90" width="2.15" height="6.20" fill="#62A83F"/>
<rect x="238.58" y="325.10" width="2.15" height="4.10" fill="#4F2163"/>
<rect x="240.73" y="324.00" width="2.15" height="1.10" fill="#DA8A16"/>
<rect x="242.88" y="325.10" width="2.15" height="4.10" fill="#C3006F"/>
<rect x="257.76" y="325.10" width="2.15" height="1.70" fill="#A3002C"/>
<rect x="259.91" y="284.10" width="2.15" height="41.00" fill="#2A4A80"/>
<rect x="262.06" y="318.50" width="2.15" height="6.60" fill="#62A83F"/>
<rect x="266.36" y="322.50" width="2.15" height="2.60" fill="#DA8A16"/>
<rect x="268.51" y="325.10" width="2.15" height="2.70" fill="#C3006F"/>
<rect x="283.39" y="325.10" width="2.15" height="44.00" fill="#A3002C"/>
<rect x="285.54" y="325.10" width="2.15" height="8.30" fill="#2A4A80"/>
<rect x="287.69" y="310.00" width="2.15" height="15.10" fill="#62A83F"/>
<rect x="289.84" y="305.60" width="2.15" height="19.50" fill="#4F2163"/>
<rect x="291.99" y="325.10" width="2.15" height="21.60" fill="#DA8A16"/>
<rect x="294.14" y="317.90" width="2.15" height="7.20" fill="#C3006F"/>
<rect x="309.02" y="325.10" width="2.15" height="26.20" fill="#A3002C"/>
<rect x="311.17" y="325.10" width="2.15" height="8.20" fill="#2A4A80"/>
<rect x="313.32" y="302.30" width="2.15" height="22.80" fill="#62A83F"/>
<rect x="315.47" y="325.10" width="2.15" height="8.20" fill="#4F2163"/>
<rect x="317.62" y="325.10" width="2.15" height="4.40" fill="#DA8A16"/>
<rect x="319.77" y="325.10" width="2.15" height="3.00" fill="#C3006F"/>
<rect x="334.65" y="325.10" width="2.15" height="34.20" fill="#D4202C"/>
<rect x="336.80" y="325.10" width="2.15" height="7.30" fill="#3D8BD0"/>
<rect x="338.95" y="314.10" width="2.15" height="11.00" fill="#62A83F"/>
<rect x="341.10" y="325.10" width="2.15" height="14.60" fill="#9A55B0"/>
<rect x="345.40" y="325.10" width="2.15" height="4.80" fill="#EE9AC0"/>
<rect x="360.28" y="325.10" width="2.15" height="43.20" fill="#A3002C"/>
<rect x="362.43" y="325.10" width="2.15" height="7.40" fill="#2A4A80"/>
<rect x="364.58" y="325.10" width="2.15" height="31.70" fill="#62A83F"/>
<rect x="366.73" y="312.20" width="2.15" height="12.90" fill="#4F2163"/>
<rect x="371.03" y="309.30" width="2.15" height="15.80" fill="#C3006F"/>
<rect x="385.91" y="325.10" width="2.15" height="25.10" fill="#A3002C"/>
<rect x="388.06" y="325.10" width="2.15" height="28.30" fill="#2A4A80"/>
<rect x="390.21" y="325.10" width="2.15" height="31.90" fill="#62A83F"/>
<rect x="392.36" y="325.10" width="2.15" height="1.30" fill="#4F2163"/>
<rect x="394.51" y="325.10" width="2.15" height="27.80" fill="#DA8A16"/>
<rect x="396.66" y="324.00" width="2.15" height="1.10" fill="#C3006F"/>
<line x1="69.5" y1="325.10" x2="407.9" y2="325.10" stroke="#333" stroke-width="1.1"/>
<path d="M69.6 251 V403.2 H407.9" fill="none" stroke="#000" stroke-width="1.1"/>
<line x1="66" y1="254.18" x2="69.6" y2="254.18" stroke="#111" stroke-width="1"/>
<text transform="translate(62.90,257.28) scale(0.88,1)" font-size="9" fill="#1a1a1a" text-anchor="end">0.4</text>
<line x1="66" y1="289.64" x2="69.6" y2="289.64" stroke="#111" stroke-width="1"/>
<text transform="translate(62.90,292.74) scale(0.88,1)" font-size="9" fill="#1a1a1a" text-anchor="end">0.2</text>
<line x1="66" y1="325.10" x2="69.6" y2="325.10" stroke="#111" stroke-width="1"/>
<text transform="translate(62.90,328.20) scale(0.88,1)" font-size="9" fill="#1a1a1a" text-anchor="end">0.0</text>
<line x1="66" y1="360.56" x2="69.6" y2="360.56" stroke="#111" stroke-width="1"/>
<text transform="translate(62.90,363.66) scale(0.88,1)" font-size="9" fill="#1a1a1a" text-anchor="end">−0.2</text>
<line x1="66" y1="396.02" x2="69.6" y2="396.02" stroke="#111" stroke-width="1"/>
<text transform="translate(62.90,399.12) scale(0.88,1)" font-size="9" fill="#1a1a1a" text-anchor="end">−0.4</text>
<line x1="84.80" y1="403.2" x2="84.80" y2="406.3" stroke="#111" stroke-width="1"/>
<text transform="translate(88.70,415.80) rotate(-45) scale(0.87,1)" font-size="9.2" fill="#1a1a1a" text-anchor="end">ABCDLBCL−4</text>
<line x1="110.43" y1="403.2" x2="110.43" y2="406.3" stroke="#111" stroke-width="1"/>
<text transform="translate(114.33,415.80) rotate(-45) scale(0.87,1)" font-size="9.2" fill="#1a1a1a" text-anchor="end">IRF4Up−7</text>
<line x1="136.06" y1="403.2" x2="136.06" y2="406.3" stroke="#111" stroke-width="1"/>
<text transform="translate(139.96,415.80) rotate(-45) scale(0.87,1)" font-size="9.2" fill="#1a1a1a" text-anchor="end">MYCUp−2</text>
<line x1="161.69" y1="403.2" x2="161.69" y2="406.3" stroke="#111" stroke-width="1"/>
<text transform="translate(165.59,415.80) rotate(-45) scale(0.87,1)" font-size="9.2" fill="#1a1a1a" text-anchor="end">GCBDLBCL−3</text>
<line x1="187.32" y1="403.2" x2="187.32" y2="406.3" stroke="#111" stroke-width="1"/>
<text transform="translate(191.22,415.80) rotate(-45) scale(0.87,1)" font-size="9.2" fill="#1a1a1a" text-anchor="end">IRF4Dn−1</text>
<line x1="212.95" y1="403.2" x2="212.95" y2="406.3" stroke="#111" stroke-width="1"/>
<text transform="translate(216.85,415.80) rotate(-45) scale(0.87,1)" font-size="9.2" fill="#1a1a1a" text-anchor="end">Stromal−1</text>
<line x1="238.58" y1="403.2" x2="238.58" y2="406.3" stroke="#111" stroke-width="1"/>
<text transform="translate(242.48,415.80) rotate(-45) scale(0.87,1)" font-size="9.2" fill="#1a1a1a" text-anchor="end">JAK2Up−2</text>
<line x1="264.21" y1="403.2" x2="264.21" y2="406.3" stroke="#111" stroke-width="1"/>
<text transform="translate(268.11,415.80) rotate(-45) scale(0.87,1)" font-size="9.2" fill="#1a1a1a" text-anchor="end">PMBL−4</text>
<line x1="289.84" y1="403.2" x2="289.84" y2="406.3" stroke="#111" stroke-width="1"/>
<text transform="translate(293.74,415.80) rotate(-45) scale(0.87,1)" font-size="9.2" fill="#1a1a1a" text-anchor="end">Prolif−9</text>
<line x1="315.47" y1="403.2" x2="315.47" y2="406.3" stroke="#111" stroke-width="1"/>
<text transform="translate(319.37,415.80) rotate(-45) scale(0.87,1)" font-size="9.2" fill="#1a1a1a" text-anchor="end">RAS</text>
<line x1="341.10" y1="403.2" x2="341.10" y2="406.3" stroke="#111" stroke-width="1"/>
<text transform="translate(345.00,415.80) rotate(-45) scale(0.87,1)" font-size="9.2" fill="#1a1a1a" text-anchor="end">ERK</text>
<line x1="366.73" y1="403.2" x2="366.73" y2="406.3" stroke="#111" stroke-width="1"/>
<text transform="translate(370.63,415.80) rotate(-45) scale(0.87,1)" font-size="9.2" fill="#1a1a1a" text-anchor="end">Bcell−2</text>
<line x1="392.36" y1="403.2" x2="392.36" y2="406.3" stroke="#111" stroke-width="1"/>
<text transform="translate(396.26,415.80) rotate(-45) scale(0.87,1)" font-size="9.2" fill="#1a1a1a" text-anchor="end">MZB−2</text>
<text transform="translate(41.00,326.70) rotate(-90)" font-size="9.4" fill="#1a1a1a" text-anchor="middle" textLength="111.00" lengthAdjust="spacingAndGlyphs">Average normalised expression</text>
<rect x="425.7" y="283.30" width="14.8" height="14.2" fill="#A3002C"/>
<text transform="translate(443.30,293.10) scale(0.92,1)" font-size="8.3" fill="#111">NEC</text>
<rect x="425.7" y="300.00" width="14.8" height="14.2" fill="#2A4A80"/>
<text transform="translate(443.30,309.80) scale(0.92,1)" font-size="8.3" fill="#111">SOCS1/SGK1</text>
<rect x="425.7" y="316.70" width="14.8" height="14.2" fill="#62A83F"/>
<text transform="translate(443.30,326.50) scale(0.92,1)" font-size="8.3" fill="#111">TET2/SGK1</text>
<rect x="425.7" y="333.40" width="14.8" height="14.2" fill="#4F2163"/>
<text transform="translate(443.30,343.20) scale(0.92,1)" font-size="8.3" fill="#111">MYD88</text>
<rect x="425.7" y="350.10" width="14.8" height="14.2" fill="#DA8A16"/>
<text transform="translate(443.30,359.90) scale(0.92,1)" font-size="8.3" fill="#111">BCL2</text>
<rect x="425.7" y="366.80" width="14.8" height="14.2" fill="#C3006F"/>
<text transform="translate(443.30,376.60) scale(0.92,1)" font-size="8.3" fill="#111">NOTCH2</text>
<text transform="translate(7.20,17.60)" font-size="12.5" fill="#000" font-weight="bold" stroke="#000" stroke-width="0.5">A</text>
<text transform="translate(7.60,243.20) scale(0.93,1)" font-size="11.6" fill="#000" font-weight="bold" stroke="#000" stroke-width="0.5">B</text>
<rect x="0.5" y="0.5" width="519" height="461" fill="none" stroke="#000" stroke-width="1"/></svg>
</body></html>
